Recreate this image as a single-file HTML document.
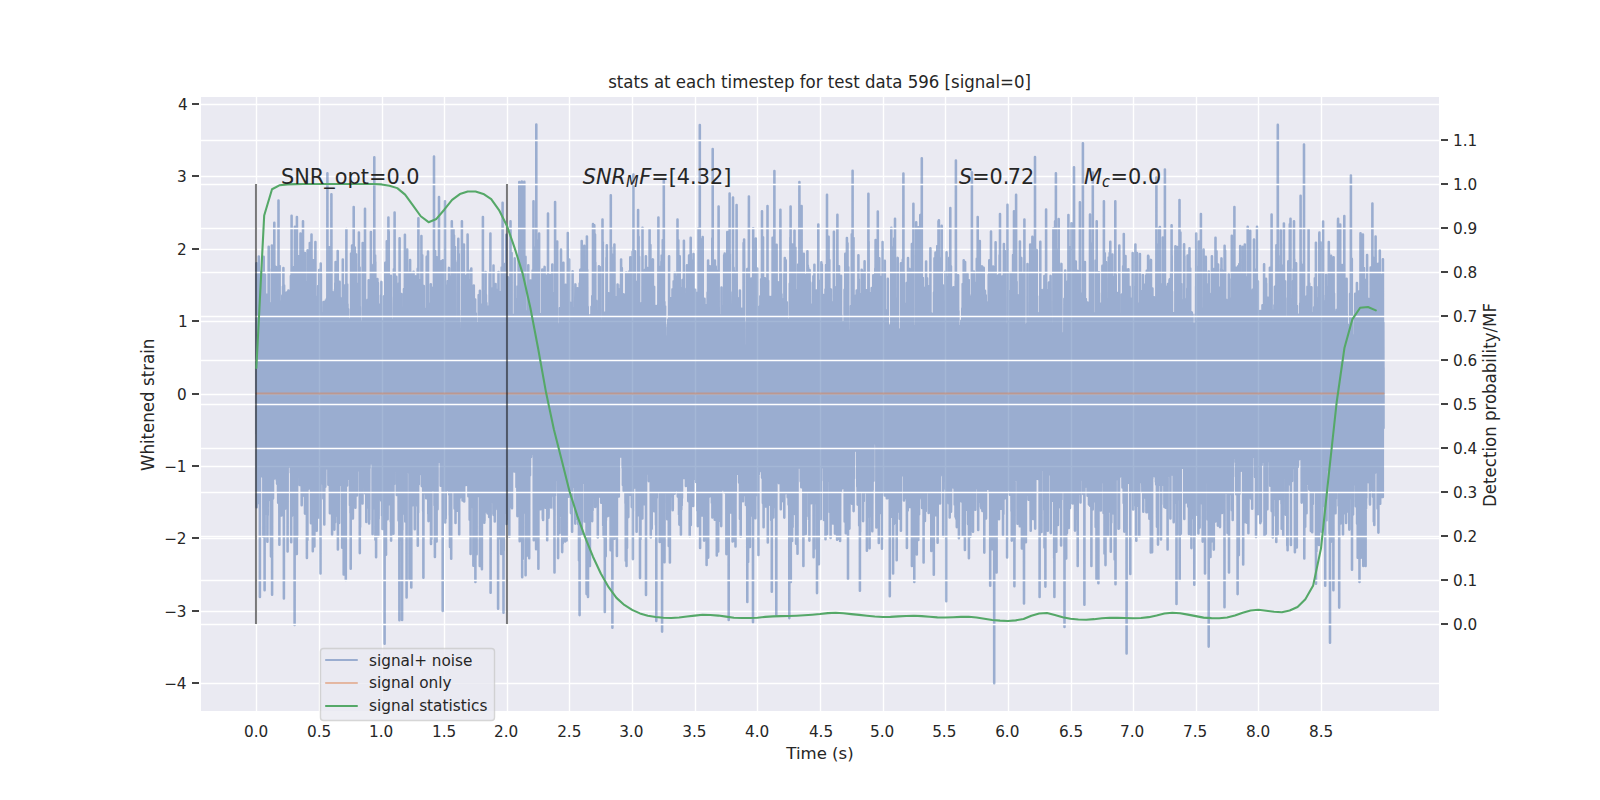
<!DOCTYPE html>
<html lang="en"><head><meta charset="utf-8"><title>stats at each timestep</title>
<style>html,body{margin:0;padding:0;background:#fff;}body{width:1600px;height:800px;overflow:hidden;}svg{display:block;}text{font-family:"DejaVu Sans", "Liberation Sans", sans-serif;fill:#262626;}.t11{font-size:15.278px}.t12{font-size:16.667px}.t15{font-size:20.833px}.t105{font-size:14.583px}.ob{font-style:oblique}</style></head><body>
<svg width="1600" height="800" viewBox="0 0 1600 800">
<defs><clipPath id="ax"><rect x="200" y="96" width="1240" height="616"/></clipPath></defs>
<rect x="0" y="0" width="1600" height="800" fill="#ffffff"/>
<rect x="200" y="96" width="1240" height="616" fill="#eaeaf2"/>
<path d="M256.5 96V712M319.5 96V712M382.5 96V712M444.5 96V712M507.5 96V712M569.5 96V712M632.5 96V712M695.5 96V712M757.5 96V712M820.5 96V712M883.5 96V712M945.5 96V712M1008.5 96V712M1071.5 96V712M1133.5 96V712M1196.5 96V712M1258.5 96V712M1321.5 96V712M200 683.5H1440M200 611.5H1440M200 538.5H1440M200 466.5H1440M200 394.5H1440M200 321.5H1440M200 249.5H1440M200 176.5H1440M200 104.5H1440" stroke="#fff" stroke-width="1.39" fill="none" clip-path="url(#ax)"/>
<path d="M256.4 263.2L256.5 433.7L256.5 352.1L256.6 390.6L256.7 507.2L256.8 322.8L256.9 400.4L257 349.9L257.1 263.8L257.2 374.7L257.2 471.3L257.3 442.3L257.4 321.7L257.5 498.9L257.6 375L257.7 367.1L257.8 476.8L257.9 381.7L257.9 354.4L258 449.1L258.1 427.8L258.2 355.2L258.3 487.5L258.4 457L258.5 326.2L258.6 387.5L258.7 496L258.7 392.8L258.8 256.5L258.9 503L259 336L259.1 340L259.2 406L259.3 350.9L259.4 441.8L259.4 284.5L259.5 272.1L259.6 457L259.7 408.6L259.8 384.3L259.9 596.9L260 368.7L260.1 468.6L260.2 352.9L260.2 414.9L260.3 397L260.4 360.4L260.5 328.2L260.6 464.6L260.7 337.9L260.8 331.5L260.9 401.7L260.9 285L261 448.5L261.1 432.5L261.2 366.7L261.3 442.3L261.4 295.2L261.5 379.6L261.6 272.1L261.6 469.8L261.7 462.1L261.8 299.2L261.9 469.4L262 317.6L262.1 451.6L262.2 374.9L262.3 311.2L262.4 397.7L262.4 476.5L262.5 428.2L262.6 313.1L262.7 379.9L262.8 343.6L262.9 387.4L263 373.2L263.1 406.8L263.1 466.8L263.2 355L263.3 380.5L263.4 536.7L263.5 392.9L263.6 324.7L263.7 256.8L263.8 491.3L263.8 385.3L263.9 354L264 339.9L264.1 443.3L264.2 357.3L264.3 423L264.4 396.5L264.5 431.3L264.6 371.6L264.6 590.3L264.7 372L264.8 399.3L264.9 328.6L265 274.5L265.1 398.8L265.2 445.9L265.3 409.6L265.3 431.4L265.4 513.4L265.5 391.6L265.6 428.3L265.7 329.7L265.8 402.4L265.9 327.9L266 339.2L266.1 428.8L266.1 416.7L266.2 430.9L266.3 425.7L266.4 335.6L266.5 430.5L266.6 423.4L266.7 451.5L266.8 294.8L266.8 419.3L266.9 404.7L267 456.2L267.1 377.8L267.2 450.5L267.3 442.2L267.4 541.8L267.5 513.5L267.5 381.6L267.6 341.4L267.7 515.3L267.8 383.5L267.9 381.9L268 435.9L268.1 466.9L268.2 443.2L268.3 471.2L268.3 337.2L268.4 321.5L268.5 414.4L268.6 288.1L268.7 246.8L268.8 428.3L268.9 356.3L269 408.7L269 440.4L269.1 427.9L269.2 411.5L269.3 487.7L269.4 400.7L269.5 338.2L269.6 462.5L269.7 431.7L269.8 460L269.8 367.6L269.9 401.6L270 328.6L270.1 416.5L270.2 500.4L270.3 354.4L270.4 415.3L270.5 313.4L270.5 343.5L270.6 454.3L270.7 536.9L270.8 392L270.9 448.2L271 556.4L271.1 432.4L271.2 303.1L271.2 349.5L271.3 458.1L271.4 374.1L271.5 322.6L271.6 407.2L271.7 269L271.8 445L271.9 245.5L272 285.8L272 357.5L272.1 594.7L272.2 391.7L272.3 461.5L272.4 324.8L272.5 304.1L272.6 338.6L272.7 374.1L272.7 386.5L272.8 461.2L272.9 440.9L273 498.5L273.1 359.9L273.2 459L273.3 334.8L273.4 441.4L273.4 293.6L273.5 283.2L273.6 285.7L273.7 313.2L273.8 415.5L273.9 416.2L274 446.8L274.1 370.8L274.2 275.5L274.2 472.8L274.3 222.8L274.4 434.5L274.5 478.5L274.6 370.1L274.7 317.9L274.8 419.4L274.9 467.8L274.9 270.1L275 473.6L275.1 323.7L275.2 383.3L275.3 420.5L275.4 390.6L275.5 472.7L275.6 474.4L275.7 372.4L275.7 469.1L275.8 449.3L275.9 291.6L276 266.9L276.1 315.7L276.2 330.7L276.3 411.7L276.4 387.5L276.4 446.9L276.5 455.6L276.6 380.1L276.7 378.3L276.8 324.2L276.9 480.6L277 312.9L277.1 432.5L277.1 483.7L277.2 412.5L277.3 328.7L277.4 395.1L277.5 363.3L277.6 457.9L277.7 360.8L277.8 325L277.9 458.2L277.9 364.9L278 491.8L278.1 378.4L278.2 502.7L278.3 366L278.4 395L278.5 200.4L278.6 369.1L278.6 465.7L278.7 388.5L278.8 460.3L278.9 356.7L279 434.3L279.1 293.2L279.2 362.3L279.3 356.4L279.3 490.3L279.4 544.8L279.5 451.2L279.6 266.1L279.7 461.7L279.8 307.6L279.9 305.1L280 435.4L280.1 408.6L280.1 301.4L280.2 411.8L280.3 422.5L280.4 434.7L280.5 388.5L280.6 401.3L280.7 306.5L280.8 376.9L280.8 310.3L280.9 401.1L281 398.1L281.1 401.7L281.2 403.7L281.3 450.8L281.4 515.5L281.5 455.8L281.6 378.5L281.6 464.9L281.7 335L281.8 511L281.9 514.2L282 371.9L282.1 366.5L282.2 474.8L282.3 317L282.3 295.6L282.4 367.8L282.5 485.9L282.6 305.3L282.7 413.3L282.8 405.4L282.9 359.1L283 442.7L283 286.6L283.1 437.2L283.2 317.8L283.3 338.5L283.4 268.1L283.5 357.3L283.6 331.9L283.7 420.2L283.8 408.8L283.8 435.4L283.9 598.4L284 438.3L284.1 285.5L284.2 399.3L284.3 476.8L284.4 438.7L284.5 309.6L284.5 425.2L284.6 349.5L284.7 504.3L284.8 359.2L284.9 336.3L285 354.8L285.1 335L285.2 460.5L285.2 508.6L285.3 483.8L285.4 330.5L285.5 361.1L285.6 332.7L285.7 428.5L285.8 332.3L285.9 499.4L286 359.7L286 462.7L286.1 418.4L286.2 342L286.3 326.5L286.4 398.8L286.5 412.5L286.6 292.6L286.7 314.4L286.7 434.9L286.8 366.4L286.9 401.4L287 318.6L287.1 354.4L287.2 355.8L287.3 379.4L287.4 423.7L287.5 308.7L287.5 356.9L287.6 551.4L287.7 412.1L287.8 366.9L287.9 437.8L288 451.1L288.1 430.3L288.2 361.1L288.2 453.5L288.3 360.1L288.4 290.5L288.5 319.2L288.6 316.6L288.7 400.4L288.8 302.5L288.9 384L288.9 323.6L289 466.4L289.1 297.9L289.2 426.5L289.3 383.4L289.4 311.7L289.5 385.7L289.6 418.9L289.7 397.3L289.7 309.4L289.8 308.4L289.9 339.8L290 430.8L290.1 415.1L290.2 340.7L290.3 334.7L290.4 437.5L290.4 436.7L290.5 338.5L290.6 310.9L290.7 381.6L290.8 472.6L290.9 276.1L291 384.9L291.1 355.2L291.2 542.2L291.2 439.5L291.3 401.9L291.4 367.3L291.5 452.8L291.6 215.8L291.7 508.5L291.8 418L291.9 371.1L291.9 374.3L292 515.8L292.1 442.8L292.2 399.7L292.3 323.6L292.4 354.5L292.5 375.4L292.6 513.9L292.6 317.8L292.7 400.1L292.8 378.9L292.9 441.6L293 408.3L293.1 418L293.2 422.8L293.3 457.3L293.4 347.3L293.4 331.3L293.5 432.2L293.6 453.4L293.7 452.7L293.8 415.6L293.9 295.2L294 403.8L294.1 267.1L294.1 484.6L294.2 472.2L294.3 450L294.4 455.6L294.5 371.8L294.6 625L294.7 446.3L294.8 370.5L294.8 301.8L294.9 226.8L295 379.4L295.1 325.3L295.2 301.3L295.3 386.8L295.4 353.9L295.5 417.9L295.6 456.1L295.6 434.9L295.7 312.7L295.8 299.6L295.9 375.5L296 479.9L296.1 306.8L296.2 392.5L296.3 288.1L296.3 385.2L296.4 474.3L296.5 411.9L296.6 439L296.7 281.3L296.8 554L296.9 217L297 413.7L297.1 537.5L297.1 362.2L297.2 349L297.3 332.6L297.4 333.7L297.5 398.4L297.6 326.1L297.7 422.9L297.8 389.5L297.8 376.3L297.9 386.5L298 356L298.1 437.8L298.2 400.2L298.3 433L298.4 386.9L298.5 370L298.5 444.7L298.6 290.7L298.7 256.3L298.8 352.6L298.9 384.6L299 435L299.1 402.8L299.2 406L299.3 342.7L299.3 391.2L299.4 341.7L299.5 351.3L299.6 424.3L299.7 485L299.8 474.4L299.9 466.2L300 392.2L300 308.1L300.1 455.7L300.2 345L300.3 402.3L300.4 302.2L300.5 233.6L300.6 315.8L300.7 366.2L300.8 354.4L300.8 298.1L300.9 409.4L301 443.9L301.1 377.1L301.2 276.9L301.3 438.5L301.4 311.1L301.5 327.7L301.5 404.1L301.6 444.6L301.7 505.2L301.8 471.7L301.9 377.8L302 338.2L302.1 433.9L302.2 429.9L302.2 444.6L302.3 329.6L302.4 488.5L302.5 496.1L302.6 316.7L302.7 469.4L302.8 321.4L302.9 450.5L303 319.9L303 221.2L303.1 423.5L303.2 393.5L303.3 458.5L303.4 330.3L303.5 414.1L303.6 456.2L303.7 361.9L303.7 367L303.8 396.2L303.9 422.6L304 325.2L304.1 437.6L304.2 451.4L304.3 410.4L304.4 356.9L304.4 420.2L304.5 436.6L304.6 462.3L304.7 447.8L304.8 439.3L304.9 252.9L305 513.6L305.1 425.8L305.2 389.9L305.2 454L305.3 474.2L305.4 355.3L305.5 296.4L305.6 316L305.7 393.2L305.8 424.7L305.9 347.7L305.9 504.9L306 451.1L306.1 290L306.2 364.1L306.3 382.9L306.4 407.3L306.5 420.5L306.6 451.3L306.7 353.3L306.7 358.4L306.8 357.4L306.9 557.9L307 302.6L307.1 332.9L307.2 282L307.3 432.3L307.4 539.9L307.4 481.4L307.5 453.9L307.6 250.3L307.7 445L307.8 425.7L307.9 322.6L308 329.9L308.1 324.4L308.1 425.7L308.2 260.1L308.3 365.2L308.4 451.1L308.5 364.7L308.6 488.6L308.7 477.3L308.8 440.2L308.9 473.5L308.9 427.8L309 438.1L309.1 426.1L309.2 452.8L309.3 313.7L309.4 460.8L309.5 430.2L309.6 455.3L309.6 434.3L309.7 480.9L309.8 243.1L309.9 412.5L310 335.2L310.1 418.8L310.2 481.2L310.3 429L310.3 440.1L310.4 476.3L310.5 385.9L310.6 278.1L310.7 379.8L310.8 319L310.9 300.6L311 523.2L311.1 257L311.1 481.5L311.2 261.6L311.3 377.5L311.4 349.8L311.5 234.5L311.6 317.1L311.7 500.4L311.8 513.5L311.8 473L311.9 320.3L312 369.9L312.1 328.1L312.2 362.1L312.3 305.8L312.4 462.7L312.5 516.8L312.6 439.2L312.6 335.6L312.7 461.7L312.8 551.2L312.9 431L313 345L313.1 364.2L313.2 417.4L313.3 429L313.3 535.9L313.4 396.8L313.5 260.2L313.6 429.9L313.7 279.6L313.8 479.9L313.9 425.6L314 430.7L314 400L314.1 519.8L314.2 315L314.3 422.8L314.4 546.5L314.5 356.2L314.6 392.1L314.7 487.7L314.8 410.1L314.8 344.3L314.9 352L315 376.6L315.1 445.1L315.2 379.1L315.3 306.6L315.4 242.1L315.5 352L315.5 337.8L315.6 326L315.7 412.4L315.8 512.4L315.9 433.9L316 409.7L316.1 382L316.2 400.4L316.2 452.6L316.3 443.2L316.4 425.1L316.5 469.7L316.6 469L316.7 530.7L316.8 441.9L316.9 412.5L317 464.6L317 440.7L317.1 417.9L317.2 497.7L317.3 468.2L317.4 486.6L317.5 394.7L317.6 500.5L317.7 423.9L317.7 296.7L317.8 301.7L317.9 386.1L318 476.5L318.1 425.5L318.2 285.9L318.3 412.1L318.4 516.6L318.5 418.7L318.5 447.7L318.6 377.8L318.7 400L318.8 517.5L318.9 391.8L319 338.1L319.1 305.4L319.2 379.8L319.2 270L319.3 298.4L319.4 346.1L319.5 289.7L319.6 482.7L319.7 309.9L319.8 295.3L319.9 405.6L319.9 340L320 442.7L320.1 409.9L320.2 410.5L320.3 468.7L320.4 413.6L320.5 573.5L320.6 408.5L320.7 277.6L320.7 263.5L320.8 400L320.9 274.1L321 369.4L321.1 483.8L321.2 440.4L321.3 401.8L321.4 399.1L321.4 351.5L321.5 445.4L321.6 425.6L321.7 323L321.8 387.3L321.9 367.3L322 400.2L322.1 345.8L322.2 341.6L322.2 447.6L322.3 313.4L322.4 438.6L322.5 369.6L322.6 414.9L322.7 346.8L322.8 374L322.9 353.1L322.9 383.8L323 401.6L323.1 379.3L323.2 394.5L323.3 450L323.4 498.4L323.5 356.2L323.6 302.1L323.6 458.9L323.7 358L323.8 435.5L323.9 381L324 331.2L324.1 368.4L324.2 410.4L324.3 524.5L324.4 408.7L324.4 396.3L324.5 306.6L324.6 442L324.7 401.9L324.8 381.3L324.9 305.3L325 474.7L325.1 336.4L325.1 401.9L325.2 440.7L325.3 486.7L325.4 460.1L325.5 336.5L325.6 430.6L325.7 458.8L325.8 422.9L325.8 300.5L325.9 324.8L326 336.7L326.1 325.3L326.2 339.8L326.3 422.8L326.4 468.3L326.5 306.9L326.6 403.1L326.6 385.7L326.7 426.3L326.8 358.8L326.9 298.7L327 422.1L327.1 383.5L327.2 389.7L327.3 347.2L327.3 394.5L327.4 173.2L327.5 434.3L327.6 391L327.7 442.3L327.8 341.3L327.9 402.5L328 276.4L328.1 439.2L328.1 462L328.2 328.4L328.3 348.4L328.4 484.7L328.5 313.1L328.6 404.9L328.7 313.9L328.8 420L328.8 344.4L328.9 314.4L329 426L329.1 368.1L329.2 331L329.3 247.2L329.4 322.3L329.5 292.3L329.5 350.1L329.6 341.9L329.7 351.1L329.8 404.9L329.9 513.2L330 503.5L330.1 366.7L330.2 357.3L330.3 386.9L330.3 431.5L330.4 426.6L330.5 477.3L330.6 309.6L330.7 504.9L330.8 277.7L330.9 423.6L331 288.6L331 359.7L331.1 415.8L331.2 385.7L331.3 427.3L331.4 194.2L331.5 396.5L331.6 378.4L331.7 454.1L331.8 354.3L331.8 495.3L331.9 441.1L332 307L332.1 534.6L332.2 375.4L332.3 312.6L332.4 387.9L332.5 292L332.5 307.2L332.6 361.7L332.7 502.9L332.8 428.8L332.9 419.3L333 326.2L333.1 403.6L333.2 418L333.2 484.4L333.3 412.9L333.4 383.8L333.5 403.1L333.6 404.9L333.7 374.6L333.8 419.6L333.9 411.8L334 440.3L334 339.2L334.1 439.5L334.2 318.2L334.3 377.5L334.4 529.6L334.5 422.9L334.6 382.8L334.7 343.4L334.7 394.3L334.8 411.5L334.9 345.5L335 289.9L335.1 522.2L335.2 444.5L335.3 283L335.4 382.2L335.4 467L335.5 280.6L335.6 262.1L335.7 416.8L335.8 348.3L335.9 399.7L336 375.5L336.1 331.8L336.2 418.9L336.2 406L336.3 421.9L336.4 515.5L336.5 369.2L336.6 342.8L336.7 390.2L336.8 398.5L336.9 344.5L336.9 448.7L337 471.8L337.1 369.9L337.2 391L337.3 278.1L337.4 496.3L337.5 404.8L337.6 483.3L337.7 251.1L337.7 429.3L337.8 347.6L337.9 549.5L338 465.3L338.1 347.5L338.2 429L338.3 442.5L338.4 353.4L338.4 392.8L338.5 392L338.6 382.3L338.7 433.3L338.8 291.8L338.9 328.3L339 409.2L339.1 424.8L339.1 522.9L339.2 474.8L339.3 306.3L339.4 478.4L339.5 428L339.6 281.8L339.7 324L339.8 375.4L339.9 370.9L339.9 421.1L340 386.8L340.1 396L340.2 305.4L340.3 344.9L340.4 447.5L340.5 298.3L340.6 338.1L340.6 318.3L340.7 307.7L340.8 341L340.9 381.2L341 302.9L341.1 312.6L341.2 410.6L341.3 405L341.3 375.3L341.4 356.9L341.5 396.3L341.6 485.2L341.7 309.7L341.8 438.4L341.9 470L342 450.2L342.1 390.1L342.1 409.9L342.2 547.8L342.3 498.4L342.4 501.5L342.5 447.5L342.6 388.3L342.7 441.1L342.8 259.6L342.8 336.2L342.9 294.5L343 345.6L343.1 479.1L343.2 362.1L343.3 492.4L343.4 461.1L343.5 379L343.6 391.1L343.6 350L343.7 574.4L343.8 316.8L343.9 335.5L344 367.1L344.1 440L344.2 430.8L344.3 316.4L344.3 511.7L344.4 421.2L344.5 377L344.6 447.8L344.7 551.7L344.8 346.3L344.9 378L345 341.4L345 432.3L345.1 445.4L345.2 285.3L345.3 451.9L345.4 341.3L345.5 323.1L345.6 390.9L345.7 429L345.8 374.2L345.8 580L345.9 410.7L346 417L346.1 485.2L346.2 411.5L346.3 329.4L346.4 229.1L346.5 464.4L346.5 360.9L346.6 361.9L346.7 411.4L346.8 429.6L346.9 356.2L347 339.7L347.1 485.5L347.2 284.5L347.2 400.6L347.3 383.3L347.4 429.4L347.5 304.3L347.6 479L347.7 423.7L347.8 381.7L347.9 452.6L348 408.2L348 356.4L348.1 309.3L348.2 404.1L348.3 423.6L348.4 359.4L348.5 384.1L348.6 460.5L348.7 331.6L348.7 411.6L348.8 451.6L348.9 324.3L349 352.3L349.1 444.2L349.2 344.6L349.3 438.8L349.4 430L349.5 458.6L349.5 333.4L349.6 402.5L349.7 352L349.8 479.3L349.9 422.7L350 505.3L350.1 440.4L350.2 423.5L350.2 409.4L350.3 505.2L350.4 327.2L350.5 512.9L350.6 319L350.7 568.8L350.8 327.7L350.9 469.6L350.9 389L351 358.2L351.1 253.4L351.2 367.3L351.3 279L351.4 369.6L351.5 299.5L351.6 390.6L351.7 382.8L351.7 326.2L351.8 475.3L351.9 500.5L352 373.2L352.1 245.4L352.2 288.8L352.3 377.1L352.4 342L352.4 367.9L352.5 355.8L352.6 288.7L352.7 462.4L352.8 465.5L352.9 518.5L353 442.7L353.1 314.6L353.2 386.4L353.2 474L353.3 426.3L353.4 415.1L353.5 315.5L353.6 350L353.7 207L353.8 301.6L353.9 345.6L353.9 309.2L354 435.9L354.1 446.8L354.2 406.2L354.3 247.3L354.4 460.9L354.5 368.6L354.6 346.4L354.6 448.3L354.7 468.8L354.8 247.5L354.9 392.4L355 408.1L355.1 358.4L355.2 375.9L355.3 485.9L355.4 507.7L355.4 399.1L355.5 440.7L355.6 390.2L355.7 471L355.8 376.8L355.9 355.5L356 254.3L356.1 419.1L356.1 391.5L356.2 417.5L356.3 377.8L356.4 352.6L356.5 417L356.6 456.4L356.7 430.8L356.8 396.9L356.8 329.5L356.9 495.4L357 440.7L357.1 360.2L357.2 299.7L357.3 419.4L357.4 368.8L357.5 403.6L357.6 407.9L357.6 380.9L357.7 428.9L357.8 408.4L357.9 413.4L358 289.9L358.1 393.7L358.2 283.9L358.3 401.1L358.3 382.7L358.4 452.1L358.5 380.7L358.6 302L358.7 288.7L358.8 470.3L358.9 232.4L359 372.1L359.1 359.2L359.1 328.7L359.2 390.4L359.3 454.2L359.4 390.3L359.5 419L359.6 267.4L359.7 390.9L359.8 553.1L359.8 306.7L359.9 354L360 397.2L360.1 527L360.2 463L360.3 418L360.4 418.4L360.5 434.9L360.5 383.2L360.6 400.4L360.7 373L360.8 361.9L360.9 393.3L361 321.6L361.1 468L361.2 332.1L361.3 368.7L361.3 391.9L361.4 345.1L361.5 375.8L361.6 378.3L361.7 425.2L361.8 452.9L361.9 498.4L362 482.4L362 439L362.1 340.6L362.2 410.5L362.3 385.3L362.4 470.1L362.5 503.5L362.6 389.7L362.7 243.1L362.8 475L362.8 309.4L362.9 479.2L363 482.8L363.1 463.4L363.2 459L363.3 344.2L363.4 386.7L363.5 394.3L363.5 437.7L363.6 339.8L363.7 281.4L363.8 380.2L363.9 425.3L364 473.5L364.1 421.4L364.2 486.9L364.2 310.7L364.3 451.1L364.4 321.4L364.5 482.5L364.6 338.7L364.7 355.9L364.8 344.2L364.9 373.9L365 468.2L365 208.8L365.1 493.2L365.2 321.4L365.3 406.9L365.4 471.8L365.5 341.7L365.6 300.4L365.7 327.3L365.7 488.7L365.8 447.3L365.9 357L366 368.5L366.1 334.1L366.2 410.6L366.3 522L366.4 485L366.4 381.1L366.5 473.7L366.6 498.9L366.7 360.4L366.8 311.5L366.9 447.5L367 415.3L367.1 410L367.2 340.4L367.2 419.6L367.3 419.8L367.4 405L367.5 488.4L367.6 315.3L367.7 299.9L367.8 397L367.9 391.8L367.9 385.5L368 397.9L368.1 452.6L368.2 354.7L368.3 351.2L368.4 331.9L368.5 469.7L368.6 387.4L368.7 493.2L368.7 280.2L368.8 508.1L368.9 410.3L369 298.3L369.1 523.5L369.2 392.6L369.3 519.7L369.4 339.9L369.4 426.8L369.5 442.5L369.6 468L369.7 365.6L369.8 391.9L369.9 353.4L370 345.1L370.1 440L370.1 380.4L370.2 313L370.3 362.7L370.4 368.8L370.5 388L370.6 426.1L370.7 393L370.8 397.8L370.9 231.9L370.9 412.7L371 463.2L371.1 367.9L371.2 409L371.3 437.1L371.4 339.3L371.5 405.5L371.6 449.9L371.6 354.5L371.7 264.8L371.8 306.7L371.9 375.3L372 371.9L372.1 394.9L372.2 345.2L372.3 406.7L372.3 368.4L372.4 403.8L372.5 378.6L372.6 534.2L372.7 394.1L372.8 432.4L372.9 416.2L373 368L373.1 483.5L373.1 455.6L373.2 382.4L373.3 390.2L373.4 333.9L373.5 371.2L373.6 508.3L373.7 366.9L373.8 405.2L373.8 385.2L373.9 328.5L374 387.2L374.1 408.3L374.2 508.1L374.3 157.3L374.4 340.4L374.5 359.1L374.6 480.9L374.6 492.4L374.7 421.8L374.8 364.1L374.9 446.9L375 306.2L375.1 255.6L375.2 474.5L375.3 261.9L375.3 267.7L375.4 539.7L375.5 512.2L375.6 407L375.7 396.2L375.8 457.2L375.9 396.8L376 344.4L376 459.9L376.1 557.2L376.2 419.6L376.3 344.5L376.4 300.4L376.5 327L376.6 478L376.7 482.7L376.8 405.4L376.8 458.6L376.9 360.6L377 366.7L377.1 338.1L377.2 301.9L377.3 434.3L377.4 279L377.5 494.9L377.5 470.4L377.6 472.8L377.7 457.3L377.8 349.3L377.9 283L378 499.2L378.1 343.8L378.2 313L378.2 372.9L378.3 536.3L378.4 361.2L378.5 331.5L378.6 518.8L378.7 425.5L378.8 320.3L378.9 366.4L379 314.3L379 304.6L379.1 478.7L379.2 474.3L379.3 329.1L379.4 411.8L379.5 331.8L379.6 351.2L379.7 447.9L379.7 328.2L379.8 360.5L379.9 436.1L380 428.4L380.1 433.4L380.2 373.5L380.3 331.3L380.4 358.8L380.5 408.3L380.5 495.8L380.6 390.7L380.7 404.9L380.8 445.4L380.9 462.6L381 295.4L381.1 299.5L381.2 500.6L381.2 335L381.3 374L381.4 281.9L381.5 460.5L381.6 336.3L381.7 442.3L381.8 419.5L381.9 388.8L381.9 339.9L382 395.1L382.1 515.8L382.2 348.2L382.3 405.5L382.4 421.6L382.5 528.9L382.6 436.3L382.7 327.9L382.7 322L382.8 373.1L382.9 469.2L383 352.8L383.1 467L383.2 351.6L383.3 443.6L383.4 515L383.4 375.1L383.5 390.9L383.6 390.9L383.7 469.6L383.8 480.3L383.9 330.3L384 408.7L384.1 296.4L384.2 296.2L384.2 482.7L384.3 431.2L384.4 378.5L384.5 411.5L384.6 643.8L384.7 390.5L384.8 431L384.9 445L384.9 465.5L385 462.2L385.1 325.2L385.2 362.2L385.3 262.8L385.4 351.6L385.5 433.5L385.6 439.4L385.6 297.3L385.7 540.4L385.8 397.8L385.9 416.6L386 554.8L386.1 330.8L386.2 402.2L386.3 419.2L386.4 465.4L386.4 407L386.5 412.8L386.6 335.1L386.7 426.7L386.8 241.2L386.9 445.4L387 392L387.1 447.7L387.1 344L387.2 431.2L387.3 304.9L387.4 332L387.5 370.8L387.6 519.3L387.7 401.1L387.8 406.2L387.8 357.9L387.9 501.9L388 357.2L388.1 354.3L388.2 406.5L388.3 381.3L388.4 217.6L388.5 337.8L388.6 487.2L388.6 450.4L388.7 231.4L388.8 406.3L388.9 404.5L389 468.1L389.1 419.2L389.2 382.3L389.3 485.1L389.3 504.2L389.4 429.3L389.5 292.9L389.6 420L389.7 394.5L389.8 316.6L389.9 353.4L390 430.3L390.1 361.2L390.1 345L390.2 492.1L390.3 369L390.4 283.1L390.5 329.6L390.6 386.6L390.7 426.5L390.8 332.8L390.8 521.5L390.9 275.7L391 456.6L391.1 540.6L391.2 419.3L391.3 409L391.4 424L391.5 517.3L391.5 453.7L391.6 348.1L391.7 374.4L391.8 322.4L391.9 387.9L392 477.3L392.1 420.6L392.2 393.5L392.3 382.5L392.3 376.4L392.4 379.1L392.5 350.2L392.6 347.5L392.7 454.7L392.8 319.8L392.9 351.2L393 421.5L393 382.7L393.1 411.5L393.2 382.4L393.3 531.4L393.4 533.8L393.5 341.2L393.6 423.5L393.7 306.5L393.8 296.7L393.8 373.5L393.9 269.2L394 460.8L394.1 378.9L394.2 483.9L394.3 378.9L394.4 316.2L394.5 378.6L394.5 369.1L394.6 212.6L394.7 373.1L394.8 446.2L394.9 383.4L395 442.7L395.1 329.5L395.2 349.8L395.2 362.9L395.3 335.3L395.4 305.4L395.5 389.3L395.6 440L395.7 433.7L395.8 280.2L395.9 365.4L396 470.4L396 466.4L396.1 311.4L396.2 409.2L396.3 276.7L396.4 290.7L396.5 410.3L396.6 413.6L396.7 460.3L396.7 342.8L396.8 494.9L396.9 366.1L397 423L397.1 293.6L397.2 422.8L397.3 451L397.4 358.4L397.4 468.4L397.5 353.8L397.6 422.7L397.7 442.3L397.8 424.8L397.9 420.1L398 486.6L398.1 362.7L398.2 408.1L398.2 444.4L398.3 314L398.4 385.6L398.5 289.8L398.6 520.4L398.7 307.7L398.8 389.5L398.9 283.5L398.9 391.5L399 429.9L399.1 439.6L399.2 369.1L399.3 501.6L399.4 620.3L399.5 464.5L399.6 238.3L399.7 361.9L399.7 416.6L399.8 467.4L399.9 407.8L400 442.7L400.1 406.3L400.2 401.3L400.3 452L400.4 490L400.4 424.2L400.5 412.9L400.6 408.1L400.7 406.1L400.8 374.8L400.9 459.2L401 342.8L401.1 430.1L401.1 390.8L401.2 433.4L401.3 384L401.4 293.9L401.5 367.6L401.6 390L401.7 392.3L401.8 440L401.9 483.2L401.9 540.8L402 394.6L402.1 620L402.2 355.4L402.3 530.1L402.4 458.2L402.5 375.2L402.6 434L402.6 354.8L402.7 340.5L402.8 489.5L402.9 344.8L403 410.5L403.1 438L403.2 381.8L403.3 447.5L403.3 513.5L403.4 344.4L403.5 364.4L403.6 364.9L403.7 390L403.8 495.9L403.9 402.7L404 289.1L404.1 373.7L404.1 398.2L404.2 383.2L404.3 415.2L404.4 397.7L404.5 400L404.6 446.2L404.7 415.6L404.8 406.1L404.8 400.6L404.9 234.7L405 428.2L405.1 486.8L405.2 413.9L405.3 521.4L405.4 281.4L405.5 445.7L405.6 416.2L405.6 390.9L405.7 341.2L405.8 441.5L405.9 378.4L406 417.2L406.1 404.7L406.2 361L406.3 446.3L406.3 301.2L406.4 409.6L406.5 339.7L406.6 597.5L406.7 401.9L406.8 453.3L406.9 348L407 402L407 445.6L407.1 472.4L407.2 249.6L407.3 366L407.4 347.8L407.5 311L407.6 359.1L407.7 303L407.8 398.8L407.8 370.5L407.9 272.6L408 469.6L408.1 378.1L408.2 432.5L408.3 283L408.4 412.1L408.5 378.7L408.5 384.4L408.6 450.8L408.7 416.4L408.8 438.4L408.9 329.7L409 438.9L409.1 314.9L409.2 368.6L409.3 334.6L409.3 298.9L409.4 327L409.5 579.1L409.6 434.1L409.7 400.5L409.8 381.4L409.9 336L410 387.3L410 404.5L410.1 260L410.2 355.7L410.3 351.3L410.4 436.2L410.5 425.6L410.6 422.6L410.7 456.6L410.7 392L410.8 373.3L410.9 442.1L411 427.9L411.1 324.8L411.2 499.5L411.3 587.5L411.4 292.2L411.5 334.2L411.5 345.4L411.6 273L411.7 296.5L411.8 338.7L411.9 433.7L412 477.6L412.1 447.7L412.2 306.4L412.2 438.1L412.3 427.3L412.4 320.2L412.5 416.3L412.6 369.7L412.7 487.4L412.8 435.7L412.9 438.8L412.9 445.8L413 505.1L413.1 454.3L413.2 339.5L413.3 388.5L413.4 343.7L413.5 446.9L413.6 271.7L413.7 439.5L413.7 422.2L413.8 367.1L413.9 428.3L414 383.1L414.1 291L414.2 358.2L414.3 421.4L414.4 307.4L414.4 430.6L414.5 420.4L414.6 369.8L414.7 364.7L414.8 529.2L414.9 365.6L415 426.4L415.1 477.9L415.2 478.3L415.2 474.1L415.3 505.7L415.4 339.4L415.5 307.3L415.6 408.9L415.7 400.8L415.8 397.8L415.9 318.8L415.9 368.3L416 276.4L416.1 360.3L416.2 295.7L416.3 496.6L416.4 459.7L416.5 384.4L416.6 409.6L416.6 450.7L416.7 469.6L416.8 496L416.9 394.7L417 421.2L417.1 342.9L417.2 433.4L417.3 390.9L417.4 355.9L417.4 337.5L417.5 427.4L417.6 392.8L417.7 268.9L417.8 545.7L417.9 367.9L418 368.5L418.1 410.9L418.1 512.4L418.2 396.3L418.3 440L418.4 218.2L418.5 449.4L418.6 469L418.7 397.6L418.8 484.2L418.8 340.4L418.9 386.5L419 427.9L419.1 389.3L419.2 334.6L419.3 413.8L419.4 332.3L419.5 343.9L419.6 374.5L419.6 352.6L419.7 423.6L419.8 382.9L419.9 436.7L420 280.2L420.1 437.6L420.2 349.1L420.3 435.3L420.3 386.2L420.4 456.4L420.5 465.5L420.6 304.6L420.7 324.5L420.8 381.2L420.9 420.9L421 407.8L421.1 474.2L421.1 386.7L421.2 301.5L421.3 453.4L421.4 236.1L421.5 380.8L421.6 291.2L421.7 359.6L421.8 472.6L421.8 486.1L421.9 298.8L422 315.6L422.1 462L422.2 255.3L422.3 409.6L422.4 473.7L422.5 428.7L422.5 331.2L422.6 395.1L422.7 454.1L422.8 353L422.9 462L423 476.1L423.1 416.7L423.2 511.2L423.3 505.2L423.3 434.9L423.4 577.8L423.5 345.6L423.6 314.3L423.7 414.1L423.8 286.1L423.9 378L424 413L424 327.8L424.1 308.2L424.2 399.3L424.3 431.4L424.4 371.4L424.5 403.9L424.6 493.1L424.7 404L424.8 406.2L424.8 392.1L424.9 371.9L425 312.5L425.1 460.7L425.2 389.1L425.3 343.8L425.4 449.5L425.5 309.5L425.5 383.4L425.6 359.8L425.7 338.7L425.8 456.9L425.9 388.5L426 416.1L426.1 364.2L426.2 498.2L426.2 378L426.3 416.8L426.4 415.9L426.5 363.6L426.6 385.6L426.7 256.9L426.8 373.4L426.9 342.9L427 438.8L427 441.9L427.1 287.7L427.2 434.5L427.3 478.4L427.4 479.9L427.5 456.6L427.6 473.4L427.7 451.9L427.7 310.4L427.8 413.1L427.9 359.3L428 251.4L428.1 443L428.2 439.9L428.3 513.7L428.4 320.7L428.4 373.3L428.5 521.1L428.6 308.5L428.7 328.4L428.8 455.7L428.9 483L429 343.8L429.1 474.1L429.2 422.7L429.2 360.5L429.3 381.3L429.4 441.5L429.5 354.7L429.6 306.1L429.7 421.6L429.8 334.8L429.9 348.3L429.9 363.4L430 477.5L430.1 461.1L430.2 453.2L430.3 329.4L430.4 463.9L430.5 303.3L430.6 325.3L430.7 436.5L430.7 399.2L430.8 284.3L430.9 449.4L431 544L431.1 439.3L431.2 378.2L431.3 322.1L431.4 351.9L431.4 539.1L431.5 310.2L431.6 359.7L431.7 299.2L431.8 295.6L431.9 366.5L432 325L432.1 337.7L432.1 367.2L432.2 383.8L432.3 460L432.4 395.1L432.5 450.7L432.6 336.6L432.7 381.3L432.8 468.8L432.9 400L432.9 413.6L433 489.9L433.1 438.4L433.2 383.8L433.3 287.5L433.4 392.6L433.5 354.1L433.6 295.8L433.6 312.4L433.7 379.4L433.8 346L433.9 407L434 156.5L434.1 394.1L434.2 383.2L434.3 325.2L434.3 346.7L434.4 328.7L434.5 505.6L434.6 422.4L434.7 404.3L434.8 480.4L434.9 557L435 367.2L435.1 251.1L435.1 467.8L435.2 387.9L435.3 268.9L435.4 407L435.5 412.8L435.6 475L435.7 406.5L435.8 337L435.8 327L435.9 415L436 328.9L436.1 480.6L436.2 434L436.3 378.7L436.4 378.3L436.5 326.6L436.6 413.4L436.6 541.4L436.7 315L436.8 257.2L436.9 362.8L437 415.9L437.1 433.3L437.2 393.7L437.3 497.3L437.3 393.2L437.4 428.9L437.5 509.2L437.6 396.8L437.7 370.3L437.8 280.9L437.9 402.9L438 292.2L438 442.5L438.1 431.8L438.2 376.9L438.3 454.7L438.4 393.3L438.5 459L438.6 461.7L438.7 438.8L438.8 356.4L438.8 407L438.9 439.9L439 197L439.1 408.8L439.2 350L439.3 377.2L439.4 341.8L439.5 400.8L439.5 441.5L439.6 372.9L439.7 366.3L439.8 350.8L439.9 358.6L440 361.8L440.1 459.6L440.2 322.8L440.2 322.7L440.3 395.8L440.4 368.4L440.5 376.7L440.6 287.2L440.7 485.8L440.8 399.8L440.9 336.8L441 485.6L441 421.5L441.1 261.3L441.2 465.2L441.3 381.1L441.4 435.6L441.5 387.3L441.6 431L441.7 368.2L441.7 476.2L441.8 263.8L441.9 351L442 352.3L442.1 405L442.2 360.2L442.3 389.7L442.4 336.7L442.5 398.6L442.5 398.4L442.6 280.9L442.7 611L442.8 260.2L442.9 308.3L443 485.1L443.1 337.8L443.2 314.3L443.2 350.8L443.3 298.8L443.4 298.5L443.5 347.5L443.6 332.4L443.7 367.7L443.8 274.4L443.9 454.3L443.9 460.5L444 294.1L444.1 484.2L444.2 333.7L444.3 360.2L444.4 273L444.5 432.8L444.6 435.6L444.7 375.6L444.7 378.1L444.8 424.4L444.9 433.8L445 201.3L445.1 312.9L445.2 522.4L445.3 302.6L445.4 334.9L445.4 404.3L445.5 443.7L445.6 419.8L445.7 518.4L445.8 371.8L445.9 378.1L446 382.5L446.1 355.7L446.2 467.6L446.2 314.8L446.3 391.7L446.4 375.3L446.5 360.2L446.6 360.1L446.7 322.5L446.8 363.7L446.9 364.8L446.9 439.3L447 416.1L447.1 489.7L447.2 367.9L447.3 404L447.4 389.8L447.5 341L447.6 409.7L447.6 285.1L447.7 469.1L447.8 281.1L447.9 305.2L448 408.9L448.1 357.4L448.2 315.6L448.3 424.8L448.4 367.3L448.4 315.4L448.5 350.8L448.6 410.5L448.7 490.9L448.8 337.8L448.9 331.2L449 267.9L449.1 326.1L449.1 476.2L449.2 462.1L449.3 494.8L449.4 347.8L449.5 407.7L449.6 385L449.7 434.3L449.8 515.2L449.8 383.3L449.9 522.7L450 547.1L450.1 475.1L450.2 375.7L450.3 307.7L450.4 378.5L450.5 390.4L450.6 366L450.6 335.9L450.7 309.6L450.8 458.4L450.9 442.4L451 425.2L451.1 492.8L451.2 558.8L451.3 441.9L451.3 437.6L451.4 458.8L451.5 275.9L451.6 318.9L451.7 458.9L451.8 221.2L451.9 421.6L452 378.2L452.1 448.7L452.1 456.3L452.2 355.7L452.3 277.7L452.4 342.7L452.5 383.9L452.6 403.2L452.7 286.2L452.8 490.8L452.8 405.4L452.9 453.7L453 404.2L453.1 409.2L453.2 442.4L453.3 471L453.4 362.8L453.5 228.9L453.5 360.8L453.6 395.6L453.7 442.9L453.8 340.1L453.9 353.4L454 235.5L454.1 403.3L454.2 265.6L454.3 442.2L454.3 347.7L454.4 324.4L454.5 416.7L454.6 508.6L454.7 367.9L454.8 355.7L454.9 288.7L455 297.6L455 247.1L455.1 445.5L455.2 260.3L455.3 345.8L455.4 319.2L455.5 522.9L455.6 346.3L455.7 375.1L455.8 371.5L455.8 411.2L455.9 428.4L456 409.1L456.1 364.2L456.2 359L456.3 463.2L456.4 468.6L456.5 386.7L456.5 472.8L456.6 342L456.7 422.5L456.8 490.1L456.9 337.9L457 350.3L457.1 341.4L457.2 377.5L457.2 345.3L457.3 410.7L457.4 510.7L457.5 411.4L457.6 406.8L457.7 418.8L457.8 368.9L457.9 262.4L458 326.1L458 351.5L458.1 339.4L458.2 455.1L458.3 238.7L458.4 373L458.5 287.5L458.6 304.9L458.7 304.7L458.7 254.1L458.8 381.1L458.9 310.2L459 393.4L459.1 383.1L459.2 534.4L459.3 376.3L459.4 389.4L459.4 361.8L459.5 448.9L459.6 466.8L459.7 363.7L459.8 401.2L459.9 350.3L460 460.2L460.1 497.4L460.2 354.2L460.2 366.7L460.3 371.9L460.4 358.5L460.5 372.8L460.6 396.5L460.7 451.3L460.8 374.3L460.9 395.4L460.9 414.6L461 491.8L461.1 423.1L461.2 353.8L461.3 341.1L461.4 492.7L461.5 322.2L461.6 432.9L461.7 315.5L461.7 401.5L461.8 462.1L461.9 221.2L462 493.1L462.1 364.2L462.2 390.7L462.3 356.1L462.4 345.4L462.4 365.1L462.5 299.9L462.6 500.4L462.7 330.5L462.8 291.8L462.9 490.7L463 489.6L463.1 429.1L463.1 466.1L463.2 318.5L463.3 346.7L463.4 435.7L463.5 423.3L463.6 263.8L463.7 425.9L463.8 437L463.9 244.6L463.9 293.8L464 411.9L464.1 338.3L464.2 501.5L464.3 313.8L464.4 312.2L464.5 414.2L464.6 332.8L464.6 392L464.7 449.1L464.8 393.1L464.9 419.7L465 479.2L465.1 381.5L465.2 360.8L465.3 342.6L465.3 354.2L465.4 358.8L465.5 374.6L465.6 408L465.7 482.5L465.8 382.8L465.9 414.8L466 484.9L466.1 388.6L466.1 339.8L466.2 275.7L466.3 447.1L466.4 293.9L466.5 434.8L466.6 370.7L466.7 291.3L466.8 385.7L466.8 410.5L466.9 458.5L467 307L467.1 447.9L467.2 374L467.3 393.6L467.4 357.2L467.5 283.6L467.6 349.8L467.6 234.6L467.7 257.4L467.8 395.3L467.9 476.3L468 406.4L468.1 410.1L468.2 285.8L468.3 389.1L468.3 345.5L468.4 496.3L468.5 348.5L468.6 270.5L468.7 382.3L468.8 449.5L468.9 402.9L469 376.5L469 382.4L469.1 385.4L469.2 365.7L469.3 446L469.4 405.7L469.5 413.4L469.6 412.6L469.7 519.7L469.8 385.2L469.8 365.7L469.9 484.6L470 281L470.1 413.1L470.2 405.5L470.3 362.1L470.4 394.1L470.5 329L470.5 321L470.6 553.9L470.7 399.8L470.8 332.3L470.9 358L471 338.8L471.1 383.6L471.2 418.1L471.3 484.3L471.3 268.5L471.4 371.4L471.5 378.5L471.6 370.8L471.7 396.8L471.8 382.3L471.9 308.1L472 360.4L472 481L472.1 397L472.2 421.9L472.3 393L472.4 404L472.5 290.8L472.6 480.3L472.7 350.7L472.7 357.5L472.8 434.9L472.9 503.8L473 396.6L473.1 507.5L473.2 307.2L473.3 350.9L473.4 565.7L473.5 390.3L473.5 427.7L473.6 457.1L473.7 461.9L473.8 285.6L473.9 463.7L474 453.1L474.1 323.2L474.2 406.3L474.2 518.7L474.3 341.9L474.4 373.4L474.5 461.6L474.6 395.9L474.7 364.4L474.8 375.6L474.9 419.2L474.9 340L475 363.4L475.1 376.2L475.2 299.5L475.3 399.7L475.4 581.9L475.5 474.5L475.6 338.2L475.7 367.5L475.7 424.9L475.8 313.5L475.9 346L476 437.4L476.1 496L476.2 433.4L476.3 476L476.4 405.6L476.4 375.4L476.5 360.3L476.6 554.3L476.7 434.8L476.8 370.8L476.9 362.7L477 383.6L477.1 428.4L477.2 394.4L477.2 323.4L477.3 417.5L477.4 446.8L477.5 352L477.6 340.8L477.7 475.2L477.8 441.7L477.9 496L477.9 405.8L478 370.3L478.1 412.9L478.2 463.2L478.3 466.5L478.4 393.5L478.5 332.6L478.6 382L478.6 390.6L478.7 295.1L478.8 411.1L478.9 413.8L479 462.8L479.1 297.1L479.2 319.5L479.3 397.8L479.4 376.1L479.4 471.3L479.5 445L479.6 383.9L479.7 349.5L479.8 565.9L479.9 290.7L480 342.6L480.1 476.9L480.1 377.2L480.2 428.7L480.3 443.8L480.4 434.8L480.5 435.7L480.6 389.8L480.7 383.5L480.8 325.9L480.8 408.6L480.9 451L481 384.5L481.1 361.2L481.2 388.8L481.3 305.1L481.4 415.8L481.5 488.1L481.6 354.3L481.6 349.5L481.7 396.7L481.8 390.9L481.9 569.3L482 407.9L482.1 382.8L482.2 408.1L482.3 493.2L482.3 389.7L482.4 458L482.5 374.8L482.6 387.1L482.7 352.2L482.8 459.5L482.9 216.9L483 372.7L483.1 384.5L483.1 316.5L483.2 469.7L483.3 340.6L483.4 325.5L483.5 395.1L483.6 467.6L483.7 402.6L483.8 394.2L483.8 387L483.9 320.6L484 354.4L484.1 502.9L484.2 327.8L484.3 522.8L484.4 448.4L484.5 520.5L484.5 372.3L484.6 434.4L484.7 322.8L484.8 449.7L484.9 389L485 290.9L485.1 419.1L485.2 312.1L485.3 376L485.3 391L485.4 492.2L485.5 397.3L485.6 271.9L485.7 399.6L485.8 364.1L485.9 294.9L486 439.8L486 389.8L486.1 388.3L486.2 437.2L486.3 357L486.4 303L486.5 356.6L486.6 396.8L486.7 382.6L486.8 511.8L486.8 365.9L486.9 465.7L487 323.4L487.1 452.5L487.2 327.9L487.3 436.9L487.4 433.1L487.5 513.3L487.5 374.6L487.6 376.7L487.7 325.4L487.8 457.1L487.9 513.5L488 339.2L488.1 438.9L488.2 476.9L488.2 339.7L488.3 411.7L488.4 496.2L488.5 420.5L488.6 306.6L488.7 413L488.8 427.9L488.9 321.7L489 443.2L489 390.3L489.1 309.9L489.2 517L489.3 453.2L489.4 349L489.5 406.3L489.6 273.1L489.7 407.9L489.7 394.1L489.8 500.6L489.9 477.5L490 293.4L490.1 451.7L490.2 385.5L490.3 422.4L490.4 233.6L490.4 518.1L490.5 363.6L490.6 592.8L490.7 476.4L490.8 423.6L490.9 359L491 393L491.1 307.8L491.2 356.7L491.2 384.2L491.3 496.3L491.4 494L491.5 361.8L491.6 502.1L491.7 317.7L491.8 358.5L491.9 295.2L491.9 371.5L492 455.2L492.1 309L492.2 463L492.3 391.1L492.4 405.8L492.5 448.8L492.6 402.4L492.7 387.9L492.7 452.1L492.8 288.3L492.9 427.4L493 420.3L493.1 358.6L493.2 414.9L493.3 399.5L493.4 383L493.4 514L493.5 265.4L493.6 466.8L493.7 515L493.8 372.3L493.9 369L494 383L494.1 456.2L494.1 460.9L494.2 394.7L494.3 403.9L494.4 327.4L494.5 401L494.6 359.9L494.7 401.8L494.8 521.4L494.9 460.5L494.9 293.9L495 378.7L495.1 308.1L495.2 396L495.3 397.8L495.4 429.6L495.5 315.4L495.6 284.1L495.6 454L495.7 373.1L495.8 442.7L495.9 382.6L496 493.8L496.1 487.4L496.2 353.7L496.3 376.8L496.3 397.9L496.4 289.8L496.5 442.5L496.6 403.4L496.7 304.5L496.8 392.8L496.9 430.4L497 324.6L497.1 403.6L497.1 418.4L497.2 479L497.3 499.4L497.4 509.2L497.5 464.8L497.6 418.5L497.7 373.7L497.8 496.4L497.8 382L497.9 300.3L498 296.1L498.1 608.7L498.2 425.9L498.3 340.4L498.4 318.6L498.5 272.1L498.6 463L498.6 422.2L498.7 391.3L498.8 368.7L498.9 468.7L499 329.3L499.1 432.6L499.2 369.8L499.3 344.6L499.3 436.7L499.4 291.9L499.5 450L499.6 538.3L499.7 313.7L499.8 399.2L499.9 505.8L500 417.2L500 369.6L500.1 403.9L500.2 346.9L500.3 457.7L500.4 393.1L500.5 426L500.6 421.2L500.7 373.8L500.8 321.4L500.8 412.5L500.9 425.1L501 347.6L501.1 381.4L501.2 554L501.3 409.8L501.4 436.2L501.5 471.1L501.5 446L501.6 451.3L501.7 267.4L501.8 443.3L501.9 432.5L502 539.1L502.1 423L502.2 353.2L502.3 450.7L502.3 372L502.4 388.7L502.5 410.6L502.6 202.8L502.7 462.1L502.8 387.4L502.9 497.5L503 343.9L503 453.9L503.1 447.1L503.2 356.3L503.3 453.8L503.4 347.2L503.5 612.8L503.6 350.5L503.7 460.6L503.7 550.5L503.8 334.9L503.9 286.3L504 378.3L504.1 287.4L504.2 343.7L504.3 458.5L504.4 289.6L504.5 412L504.5 326.5L504.6 377L504.7 457.2L504.8 428.7L504.9 480.8L505 368.7L505.1 497.1L505.2 263.7L505.2 395.3L505.3 512.6L505.4 389.4L505.5 481.7L505.6 307.2L505.7 373.9L505.8 477.1L505.9 309L505.9 334.8L506 369L506.1 485L506.2 472.1L506.3 234.7L506.4 524L506.5 381.2L506.6 388.3L506.7 489.6L506.7 505.6L506.8 519.7L506.9 330.3L507 470.3L507.1 338.7L507.2 360.7L507.3 400.2L507.4 428.6L507.4 440.2L507.5 388.7L507.6 444.2L507.7 496.5L507.8 426.3L507.9 277.2L508 305.2L508.1 440.4L508.2 518.5L508.2 487.4L508.3 465.2L508.4 388.4L508.5 408.2L508.6 331L508.7 280.5L508.8 412.2L508.9 328.9L508.9 373.6L509 458.4L509.1 436.6L509.2 467.2L509.3 536.7L509.4 339.6L509.5 328.1L509.6 358.7L509.6 419L509.7 389.2L509.8 374.3L509.9 389.6L510 429L510.1 406.4L510.2 402.5L510.3 337.3L510.4 325.2L510.4 480.2L510.5 221.2L510.6 362.3L510.7 448L510.8 506.5L510.9 370.7L511 324.9L511.1 456.7L511.1 425.7L511.2 279L511.3 331.1L511.4 348.8L511.5 355L511.6 252.9L511.7 431.9L511.8 375.5L511.8 434.3L511.9 476.9L512 508.2L512.1 442.7L512.2 454.7L512.3 441.9L512.4 358.7L512.5 434L512.6 461.2L512.6 429.9L512.7 441.7L512.8 419.2L512.9 314.7L513 431.4L513.1 393.3L513.2 414.4L513.3 443.4L513.3 375.7L513.4 370.3L513.5 400.4L513.6 344.9L513.7 391.7L513.8 329.6L513.9 436.9L514 345.9L514.1 361.6L514.1 413.4L514.2 437.1L514.3 451.5L514.4 471.5L514.5 437.8L514.6 434.1L514.7 424.5L514.8 258.4L514.8 412.3L514.9 468.1L515 303.9L515.1 332.3L515.2 445L515.3 347.8L515.4 377.6L515.5 335.7L515.5 429.7L515.6 388L515.7 412.4L515.8 439.5L515.9 400.1L516 299L516.1 418.1L516.2 443.6L516.3 444L516.3 357.3L516.4 410.7L516.5 487L516.6 485.5L516.7 427.8L516.8 349L516.9 301.7L517 326.6L517 408.3L517.1 371.7L517.2 325L517.3 432.8L517.4 516.1L517.5 286.6L517.6 316.5L517.7 363.1L517.8 306.4L517.8 342.5L517.9 440.7L518 482.3L518.1 415L518.2 467.1L518.3 430.6L518.4 344.2L518.5 491.1L518.5 407.2L518.6 256.5L518.7 396.1L518.8 494.2L518.9 381L519 415.8L519.1 324.1L519.2 433.2L519.2 292.2L519.3 182L519.4 264.6L519.5 366.2L519.6 287.7L519.7 541.3L519.8 488.2L519.9 383.1L520 406.8L520 440.2L520.1 377.1L520.2 376.8L520.3 359.8L520.4 517.9L520.5 344.6L520.6 363.5L520.7 425.7L520.7 455.8L520.8 360.3L520.9 413.6L521 419.7L521.1 342.8L521.2 291.2L521.3 409.3L521.4 442.7L521.4 401.3L521.5 434.9L521.6 505.4L521.7 356.5L521.8 181.6L521.9 477.1L522 433.2L522.1 422.3L522.2 473.9L522.2 577.2L522.3 382.7L522.4 487.9L522.5 529.9L522.6 271.2L522.7 559.1L522.8 338.9L522.9 368.8L522.9 355.2L523 473.8L523.1 416.2L523.2 423.5L523.3 281.7L523.4 383.9L523.5 504.3L523.6 366.7L523.7 331.9L523.7 324.2L523.8 420.2L523.9 392L524 447.6L524.1 407.5L524.2 364L524.3 181.8L524.4 512.4L524.4 387.5L524.5 363.7L524.6 372.7L524.7 437.7L524.8 419.8L524.9 319.8L525 277L525.1 392.6L525.1 388.3L525.2 481.8L525.3 423.9L525.4 405.3L525.5 256.8L525.6 575.3L525.7 312.4L525.8 318.1L525.9 311.4L525.9 467.6L526 388.9L526.1 410.7L526.2 367.8L526.3 426.8L526.4 447.2L526.5 447.8L526.6 478.5L526.6 311.2L526.7 467.4L526.8 456.1L526.9 330.8L527 419.2L527.1 413.5L527.2 333.4L527.3 401.6L527.3 363.4L527.4 408L527.5 555.5L527.6 456L527.7 381.4L527.8 432.9L527.9 325.9L528 437.6L528.1 423.2L528.1 443.4L528.2 431.1L528.3 265.3L528.4 455.6L528.5 531.3L528.6 467.1L528.7 530.5L528.8 411.1L528.8 408.3L528.9 435.3L529 456.4L529.1 440.7L529.2 558.2L529.3 417.9L529.4 450.3L529.5 289.3L529.6 413.4L529.6 392.9L529.7 465.3L529.8 413.4L529.9 332.2L530 475.3L530.1 389.8L530.2 401.9L530.3 345.4L530.3 423.9L530.4 399.3L530.5 415.8L530.6 280.4L530.7 314.5L530.8 397.3L530.9 346.6L531 456.9L531 396.6L531.1 393.4L531.2 381.3L531.3 288.1L531.4 411.7L531.5 422.2L531.6 352.2L531.7 366.3L531.8 287.1L531.8 355.8L531.9 331.5L532 400L532.1 410.6L532.2 286.7L532.3 453.8L532.4 409.1L532.5 361.4L532.5 361.6L532.6 423.2L532.7 270.6L532.8 295.9L532.9 285.2L533 410.8L533.1 446L533.2 348.4L533.3 398.8L533.3 401.9L533.4 405.6L533.5 201.3L533.6 433.6L533.7 349.7L533.8 540.2L533.9 415.4L534 401.8L534 433.6L534.1 393.9L534.2 412.8L534.3 495.9L534.4 369.3L534.5 247.5L534.6 486L534.7 444.4L534.7 470.3L534.8 387.1L534.9 485.4L535 390.2L535.1 382.8L535.2 358.5L535.3 312.3L535.4 446.6L535.5 459.4L535.5 352.4L535.6 321.5L535.7 415.8L535.8 524.4L535.9 329.2L536 330.6L536.1 549.3L536.2 348.3L536.2 420.8L536.3 124.4L536.4 310.2L536.5 359.3L536.6 239.7L536.7 369.6L536.8 398.4L536.9 315.6L536.9 243.1L537 319.1L537.1 394.8L537.2 372.2L537.3 401.5L537.4 461L537.5 416.2L537.6 373.5L537.7 422.4L537.7 336.5L537.8 439.4L537.9 367.8L538 481.6L538.1 519L538.2 328.2L538.3 380.2L538.4 568.8L538.4 342.7L538.5 333.4L538.6 360.8L538.7 305.4L538.8 415.7L538.9 377.9L539 392.6L539.1 233.4L539.2 318.1L539.2 459.4L539.3 501.1L539.4 464.8L539.5 339L539.6 376.7L539.7 416L539.8 389.4L539.9 440.3L539.9 412.5L540 473.6L540.1 393L540.2 422L540.3 313.9L540.4 365L540.5 509.2L540.6 426.4L540.6 316.2L540.7 395.2L540.8 423.7L540.9 338.9L541 362.3L541.1 459.4L541.2 349.1L541.3 387.5L541.4 475L541.4 430.3L541.5 372.9L541.6 449.3L541.7 398.6L541.8 360.5L541.9 417.3L542 460.4L542.1 452.9L542.1 423.8L542.2 494.1L542.3 269.4L542.4 417L542.5 387.3L542.6 389.6L542.7 309.9L542.8 518.2L542.8 350L542.9 413.1L543 433.6L543.1 520L543.2 346.4L543.3 345.2L543.4 374.1L543.5 415L543.6 484.9L543.6 442.5L543.7 332.5L543.8 384.9L543.9 316.6L544 376.9L544.1 322.6L544.2 300.7L544.3 305.9L544.3 472.7L544.4 340.4L544.5 390.6L544.6 266.9L544.7 367.4L544.8 304.2L544.9 425L545 346.9L545.1 417.5L545.1 435.6L545.2 366.9L545.3 381.8L545.4 348.2L545.5 507.7L545.6 487.7L545.7 275.5L545.8 433.5L545.8 395L545.9 341.3L546 316.3L546.1 309L546.2 452.3L546.3 335.2L546.4 370.9L546.5 425.8L546.5 391.7L546.6 344L546.7 332.1L546.8 408.5L546.9 324.5L547 493.2L547.1 400L547.2 540.3L547.3 277.1L547.3 352.1L547.4 434L547.5 420.6L547.6 405.4L547.7 397.6L547.8 514.1L547.9 443.5L548 213.5L548 357.7L548.1 455.6L548.2 361.9L548.3 304.2L548.4 465.1L548.5 517.7L548.6 514.4L548.7 321.1L548.8 397.9L548.8 421.2L548.9 465.8L549 306.8L549.1 391.7L549.2 347.7L549.3 400.9L549.4 506.5L549.5 297.7L549.5 424.2L549.6 336.9L549.7 362.5L549.8 428.3L549.9 297.4L550 319L550.1 347.2L550.2 274.8L550.2 411.9L550.3 338.7L550.4 411.5L550.5 403.7L550.6 334.4L550.7 500.2L550.8 354.9L550.9 462.3L551 333.5L551 507.4L551.1 431.8L551.2 313.9L551.3 382.4L551.4 339L551.5 422.3L551.6 285.7L551.7 389.4L551.7 297.1L551.8 434.7L551.9 454.9L552 339.4L552.1 446L552.2 376.8L552.3 264.6L552.4 415.2L552.4 466.4L552.5 340L552.6 473L552.7 405.3L552.8 429.7L552.9 412L553 429.9L553.1 405.8L553.2 371.5L553.2 326.3L553.3 327.4L553.4 378L553.5 363.6L553.6 496.6L553.7 473.1L553.8 292.9L553.9 440.8L553.9 508.7L554 416.6L554.1 440.4L554.2 380.5L554.3 364.6L554.4 497.8L554.5 572.5L554.6 336.4L554.7 373.8L554.7 438.3L554.8 337.4L554.9 382.7L555 495.5L555.1 201.9L555.2 371.4L555.3 492.7L555.4 479.6L555.4 371L555.5 405.7L555.6 464.6L555.7 408.5L555.8 454.1L555.9 331L556 416.9L556.1 256.7L556.1 289.8L556.2 323.6L556.3 363.9L556.4 379.8L556.5 438.9L556.6 293.6L556.7 476.1L556.8 407L556.9 395.1L556.9 409.9L557 415.5L557.1 468.7L557.2 241.6L557.3 477.9L557.4 386.2L557.5 325.5L557.6 351.7L557.6 479.8L557.7 373.3L557.8 361L557.9 392L558 399.9L558.1 558.1L558.2 383.3L558.3 455.4L558.3 349.9L558.4 493.7L558.5 508.6L558.6 389.1L558.7 416.2L558.8 501.6L558.9 436L559 448.2L559.1 397L559.1 398.8L559.2 505.7L559.3 357.4L559.4 324.2L559.5 533L559.6 446.4L559.7 330.7L559.8 510.3L559.8 487.2L559.9 515.9L560 307.9L560.1 352L560.2 490.4L560.3 356L560.4 349.3L560.5 347.3L560.6 337.8L560.6 332.6L560.7 432.2L560.8 324.3L560.9 444.6L561 249.5L561.1 445.3L561.2 369.2L561.3 279.6L561.3 416.1L561.4 388.6L561.5 390L561.6 414.5L561.7 345.3L561.8 303.5L561.9 446.7L562 295.9L562 472.8L562.1 423.1L562.2 552.1L562.3 525.8L562.4 352.4L562.5 488.3L562.6 454.7L562.7 543.4L562.8 342.7L562.8 463.2L562.9 477.6L563 266L563.1 385.9L563.2 385.7L563.3 471.7L563.4 262.8L563.5 419L563.5 341.7L563.6 352.6L563.7 482.1L563.8 400.9L563.9 363.4L564 338L564.1 360.4L564.2 442.2L564.2 367.8L564.3 330.1L564.4 495.7L564.5 383.8L564.6 372.5L564.7 332L564.8 399.2L564.9 377.6L565 300L565 477.6L565.1 541.5L565.2 388.7L565.3 306.2L565.4 341.2L565.5 431.7L565.6 284.8L565.7 373.3L565.7 350.9L565.8 403.9L565.9 358.2L566 427.8L566.1 358.2L566.2 358.5L566.3 446.8L566.4 306.2L566.5 365.8L566.5 468.1L566.6 540.4L566.7 422.3L566.8 336.5L566.9 435.3L567 318.9L567.1 375.5L567.2 395.2L567.2 361.9L567.3 363.4L567.4 403.1L567.5 378.7L567.6 364L567.7 404.3L567.8 233L567.9 338.9L567.9 317.6L568 315.5L568.1 328.7L568.2 399.7L568.3 471.6L568.4 426.8L568.5 271L568.6 354.9L568.7 496.6L568.7 392.2L568.8 349.8L568.9 450.4L569 415.9L569.1 396.9L569.2 259.5L569.3 387.7L569.4 395.4L569.4 494.2L569.5 314.7L569.6 318.7L569.7 364.2L569.8 395.1L569.9 343.9L570 380.8L570.1 357.9L570.2 313.6L570.2 388.5L570.3 417.7L570.4 360.5L570.5 463.6L570.6 467.2L570.7 303L570.8 500.8L570.9 513.1L570.9 453.9L571 421.9L571.1 443.6L571.2 345.8L571.3 408.8L571.4 308.2L571.5 480.7L571.6 389.3L571.6 376L571.7 347.4L571.8 355.5L571.9 413.4L572 403.6L572.1 531.8L572.2 392L572.3 369.9L572.4 502.1L572.4 379.3L572.5 312.5L572.6 271.3L572.7 361.1L572.8 394L572.9 383L573 453.9L573.1 393L573.1 366.5L573.2 469.6L573.3 440.5L573.4 385.5L573.5 444.9L573.6 308.1L573.7 486.7L573.8 399.9L573.8 384L573.9 349.6L574 451.8L574.1 469.2L574.2 409.4L574.3 418.8L574.4 423.2L574.5 338.2L574.6 452.8L574.6 328.8L574.7 377L574.8 309.3L574.9 363.2L575 350.2L575.1 389.7L575.2 390.5L575.3 523.6L575.3 298.6L575.4 284.4L575.5 425.8L575.6 329.6L575.7 419.7L575.8 337.7L575.9 460.6L576 396.4L576.1 361.7L576.1 416.9L576.2 338.5L576.3 468.1L576.4 435.6L576.5 317.9L576.6 458.1L576.7 425.4L576.8 518.8L576.8 458.7L576.9 423.2L577 289.4L577.1 417.7L577.2 340.2L577.3 379.7L577.4 423.6L577.5 447.4L577.5 288.3L577.6 424.6L577.7 449.5L577.8 518.1L577.9 400.5L578 394.9L578.1 377.6L578.2 480.1L578.3 499.4L578.3 524.2L578.4 436.9L578.5 455.1L578.6 435.9L578.7 362.4L578.8 451.2L578.9 358.6L579 560.5L579 334.9L579.1 409.4L579.2 441.7L579.3 410.9L579.4 420.6L579.5 361.7L579.6 615.1L579.7 283.4L579.8 521.7L579.8 443.1L579.9 421.8L580 360.4L580.1 524.4L580.2 445.2L580.3 269.7L580.4 400.1L580.5 283.5L580.5 482.5L580.6 392.8L580.7 369.3L580.8 442.3L580.9 426.6L581 448.8L581.1 372L581.2 340.5L581.2 304.3L581.3 366.4L581.4 387.2L581.5 487.8L581.6 503.3L581.7 240.9L581.8 533.9L581.9 341.2L582 377.2L582 412.3L582.1 437.1L582.2 346.4L582.3 331.2L582.4 297L582.5 442.9L582.6 413.5L582.7 327.8L582.7 369.7L582.8 398.7L582.9 393.6L583 339.1L583.1 445L583.2 480.8L583.3 315.5L583.4 357.3L583.4 459.2L583.5 404.4L583.6 372.2L583.7 305.1L583.8 359L583.9 377.8L584 456L584.1 391.4L584.2 483.1L584.2 365.7L584.3 245.7L584.4 449.2L584.5 325.5L584.6 268.6L584.7 521.5L584.8 343.3L584.9 427.5L584.9 375.9L585 420.5L585.1 393.7L585.2 354.4L585.3 405.8L585.4 371.7L585.5 368.7L585.6 371.6L585.7 406.1L585.7 421.3L585.8 435.7L585.9 276.7L586 499.6L586.1 262.7L586.2 348.2L586.3 310.8L586.4 404.1L586.4 306.6L586.5 396L586.6 594.1L586.7 405.9L586.8 460.3L586.9 236.4L587 347.1L587.1 380.7L587.1 390.1L587.2 269.7L587.3 297.3L587.4 350.6L587.5 404.1L587.6 381.9L587.7 306.8L587.8 447.7L587.9 379.1L587.9 382.8L588 596.9L588.1 328.7L588.2 401.9L588.3 438.4L588.4 460.3L588.5 387.7L588.6 489.5L588.6 441.8L588.7 406L588.8 438.4L588.9 408.2L589 377.9L589.1 546.8L589.2 368L589.3 434.1L589.3 414.4L589.4 362.5L589.5 364.7L589.6 447.5L589.7 480.2L589.8 417.2L589.9 565.9L590 371.2L590.1 492.5L590.1 413.5L590.2 442L590.3 318.4L590.4 315L590.5 457.1L590.6 331.5L590.7 423.1L590.8 441.1L590.8 387.1L590.9 461.7L591 410.7L591.1 505.9L591.2 448.9L591.3 369.2L591.4 465.8L591.5 306.7L591.6 354.1L591.6 466.1L591.7 378.5L591.8 434L591.9 333L592 319.2L592.1 457L592.2 521.1L592.3 296L592.3 439.7L592.4 442.2L592.5 387.2L592.6 510.2L592.7 308.1L592.8 417.1L592.9 465L593 225.9L593 224L593.1 370.1L593.2 362.7L593.3 336.1L593.4 463.1L593.5 361.1L593.6 335.8L593.7 427.7L593.8 404.5L593.8 371.2L593.9 346.8L594 295.2L594.1 400.7L594.2 469L594.3 225.2L594.4 354.3L594.5 363.3L594.5 315.3L594.6 345.6L594.7 344.8L594.8 375.7L594.9 476.9L595 234.6L595.1 479.3L595.2 507L595.2 399.8L595.3 262.6L595.4 365.9L595.5 325.7L595.6 383.6L595.7 395.8L595.8 423.8L595.9 388.5L596 350.5L596 311.4L596.1 327.9L596.2 356.9L596.3 300.7L596.4 459.3L596.5 458.6L596.6 427.5L596.7 419.6L596.7 451.7L596.8 392.6L596.9 343.6L597 333.6L597.1 404.5L597.2 417.4L597.3 415.3L597.4 424.4L597.5 375.6L597.5 502.2L597.6 437.7L597.7 428.1L597.8 537.4L597.9 420.2L598 482.9L598.1 386.5L598.2 475.1L598.2 311L598.3 384.9L598.4 379.7L598.5 446L598.6 346.7L598.7 346.1L598.8 335.8L598.9 361.5L598.9 266.3L599 341L599.1 372.6L599.2 337.6L599.3 496.5L599.4 440.3L599.5 311.9L599.6 420.9L599.7 433.1L599.7 351.5L599.8 267.1L599.9 388.2L600 442.2L600.1 415.7L600.2 406L600.3 321.3L600.4 479.7L600.4 366.6L600.5 334.9L600.6 405.8L600.7 444L600.8 408.2L600.9 450.5L601 361.9L601.1 324.3L601.2 502.8L601.2 417.1L601.3 473L601.4 377.8L601.5 434.4L601.6 354.5L601.7 410.8L601.8 320.7L601.9 389.5L601.9 402.8L602 407.8L602.1 442.7L602.2 392.7L602.3 335.6L602.4 471.1L602.5 219.5L602.6 374.7L602.6 432.6L602.7 429.4L602.8 242L602.9 300.1L603 426.2L603.1 412.5L603.2 525.6L603.3 358.3L603.4 487.1L603.4 381.9L603.5 376.7L603.6 536.7L603.7 324.5L603.8 327.1L603.9 359.7L604 360L604.1 409.7L604.1 340.3L604.2 379.5L604.3 399.6L604.4 441.4L604.5 427L604.6 402.4L604.7 312.8L604.8 611.9L604.8 482.6L604.9 317.3L605 313.6L605.1 388.4L605.2 335.3L605.3 470.7L605.4 465.2L605.5 471.9L605.6 345.1L605.6 373.1L605.7 556.3L605.8 405.3L605.9 520.3L606 372.9L606.1 409.2L606.2 342.9L606.3 406.6L606.3 401.2L606.4 320.2L606.5 257.8L606.6 380.2L606.7 291.4L606.8 245.3L606.9 340.3L607 472.2L607.1 338.5L607.1 429.8L607.2 400.8L607.3 318.2L607.4 372.7L607.5 433.6L607.6 516.1L607.7 336.6L607.8 403.7L607.8 380.1L607.9 487.8L608 481.6L608.1 354.8L608.2 425.7L608.3 377.6L608.4 361.9L608.5 297.7L608.5 293.3L608.6 465.9L608.7 515.5L608.8 407L608.9 365.2L609 454.9L609.1 315.2L609.2 393.8L609.3 383L609.3 395.7L609.4 390.9L609.5 388.7L609.6 372.3L609.7 415L609.8 404L609.9 344.9L610 377.6L610 356.2L610.1 371.2L610.2 421.6L610.3 352.6L610.4 441.3L610.5 331.5L610.6 550.3L610.7 329.1L610.8 195.3L610.8 325.1L610.9 415.1L611 403L611.1 430.4L611.2 466.6L611.3 247.4L611.4 352.6L611.5 458.1L611.5 514.3L611.6 359.4L611.7 417.6L611.8 366.8L611.9 357.8L612 254.6L612.1 341.3L612.2 501.6L612.2 314.2L612.3 429.1L612.4 627.8L612.5 384.8L612.6 392.3L612.7 452.5L612.8 491.1L612.9 441.8L613 460.3L613 298.2L613.1 399.4L613.2 302.9L613.3 282.4L613.4 496.9L613.5 487.7L613.6 494.3L613.7 460.7L613.7 331.1L613.8 450.4L613.9 437.2L614 399.6L614.1 368.8L614.2 458.6L614.3 354.1L614.4 538.7L614.4 244.6L614.5 284.2L614.6 357.4L614.7 299.8L614.8 357.8L614.9 398.5L615 444.6L615.1 316L615.2 534.4L615.2 337L615.3 394.5L615.4 473.4L615.5 439.1L615.6 297.1L615.7 300L615.8 484.6L615.9 369.1L615.9 490.5L616 444.8L616.1 362.7L616.2 476.1L616.3 390.7L616.4 429.5L616.5 485L616.6 321.3L616.7 440.7L616.7 405.3L616.8 345.2L616.9 556L617 318.6L617.1 345.1L617.2 339.2L617.3 343.8L617.4 425.3L617.4 343.8L617.5 461.3L617.6 284.4L617.7 428.7L617.8 331.2L617.9 495.1L618 313.2L618.1 352.2L618.1 488.2L618.2 348.4L618.3 387.4L618.4 452L618.5 340.5L618.6 386.4L618.7 391.6L618.8 496.4L618.9 466.8L618.9 425.3L619 289.5L619.1 315.5L619.2 386.6L619.3 401.7L619.4 337.3L619.5 388L619.6 353L619.6 295.8L619.7 383L619.8 406.4L619.9 388.4L620 348.9L620.1 326.1L620.2 374.9L620.3 379.3L620.3 410.9L620.4 401.9L620.5 441.3L620.6 285.1L620.7 300L620.8 431.9L620.9 456.5L621 301.4L621.1 259.5L621.1 416.1L621.2 384.4L621.3 328.2L621.4 319.9L621.5 441.4L621.6 369.7L621.7 428.7L621.8 268L621.8 352.5L621.9 411.5L622 422L622.1 407.7L622.2 363.4L622.3 356.9L622.4 419.3L622.5 398.3L622.6 467.7L622.6 310.2L622.7 298.6L622.8 408.8L622.9 484.9L623 362.6L623.1 464.6L623.2 351.9L623.3 385.4L623.3 430.1L623.4 422.2L623.5 365.6L623.6 428.6L623.7 491.1L623.8 362L623.9 294.4L624 369.8L624 386.8L624.1 346.2L624.2 298.1L624.3 469.2L624.4 437.1L624.5 426.8L624.6 373.6L624.7 420.8L624.8 402.1L624.8 426.4L624.9 454.2L625 394L625.1 398.1L625.2 303.3L625.3 345.2L625.4 368L625.5 503.2L625.5 376.2L625.6 499.8L625.7 500.4L625.8 560.7L625.9 429.6L626 380.3L626.1 360.9L626.2 355.4L626.2 272.6L626.3 353.2L626.4 362.6L626.5 565.9L626.6 443.1L626.7 294.5L626.8 362.8L626.9 397L627 412.2L627 548.1L627.1 357.4L627.2 384L627.3 510.2L627.4 276.9L627.5 374.4L627.6 472.9L627.7 400.9L627.7 422.4L627.8 502.2L627.9 327L628 443.3L628.1 345.5L628.2 391.7L628.3 517.1L628.4 445.7L628.5 430.7L628.5 308.5L628.6 272.9L628.7 395L628.8 333.1L628.9 296.9L629 307.5L629.1 388.3L629.2 443.7L629.2 407.3L629.3 385.4L629.4 416.7L629.5 271.2L629.6 475.6L629.7 356.2L629.8 396.4L629.9 494.8L629.9 317L630 445.4L630.1 335.9L630.2 428.8L630.3 257.3L630.4 281L630.5 470.8L630.6 455.7L630.7 329.4L630.7 352L630.8 390.8L630.9 364L631 367.4L631.1 388.9L631.2 450.9L631.3 320.7L631.4 388.8L631.4 455.2L631.5 388.1L631.6 300.5L631.7 391.6L631.8 507.1L631.9 398.3L632 446.4L632.1 370.1L632.2 412.5L632.2 382.2L632.3 379.4L632.4 420.3L632.5 472.9L632.6 251.7L632.7 387.6L632.8 286.4L632.9 559.1L632.9 314.1L633 511.3L633.1 283.6L633.2 349.9L633.3 318.3L633.4 174.5L633.5 363.9L633.6 413.8L633.6 430.4L633.7 480.6L633.8 420.7L633.9 345.5L634 392.8L634.1 371.4L634.2 384.3L634.3 408L634.4 320L634.4 471.3L634.5 487.6L634.6 279.4L634.7 334L634.8 438.9L634.9 251.3L635 423.3L635.1 307.6L635.1 392.5L635.2 371.2L635.3 335.2L635.4 342.2L635.5 317.9L635.6 434.3L635.7 450.4L635.8 394.3L635.8 368.3L635.9 290L636 374.2L636.1 425.9L636.2 281.9L636.3 403.5L636.4 396.9L636.5 415.3L636.6 531.8L636.6 493.7L636.7 318.8L636.8 359.4L636.9 327.3L637 324.8L637.1 443.7L637.2 479L637.3 403.2L637.3 408.9L637.4 375L637.5 352.4L637.6 370.3L637.7 393.9L637.8 371.9L637.9 394.7L638 428.5L638.1 340.4L638.1 210.1L638.2 367.8L638.3 468.7L638.4 378L638.5 476.8L638.6 236.7L638.7 418.9L638.8 446.4L638.8 515.3L638.9 463.1L639 278.1L639.1 256.8L639.2 384.9L639.3 371.2L639.4 421.7L639.5 347.7L639.5 468.3L639.6 393.1L639.7 406.7L639.8 459.7L639.9 430.9L640 578.1L640.1 374.2L640.2 310.3L640.3 371.3L640.3 398.9L640.4 323.6L640.5 539.2L640.6 363L640.7 401.1L640.8 443.9L640.9 303.4L641 343.3L641 417.1L641.1 411L641.2 411.1L641.3 366.3L641.4 420.2L641.5 387.9L641.6 307.4L641.7 362.8L641.8 332.9L641.8 431.4L641.9 418.5L642 433.6L642.1 391.9L642.2 379.2L642.3 498.6L642.4 518.5L642.5 227.7L642.5 502.2L642.6 310.1L642.7 411.6L642.8 434.2L642.9 433.6L643 477.1L643.1 419.2L643.2 434.7L643.2 473.9L643.3 426.1L643.4 391.8L643.5 491.7L643.6 366L643.7 408.5L643.8 412.7L643.9 422.5L644 504.2L644 337.6L644.1 344.8L644.2 438.8L644.3 463.4L644.4 452.8L644.5 389.3L644.6 358.8L644.7 387.4L644.7 359.8L644.8 399.8L644.9 369.5L645 269.9L645.1 376.2L645.2 481.7L645.3 397.9L645.4 306L645.4 479.3L645.5 368.6L645.6 295.3L645.7 355.4L645.8 310.2L645.9 256.2L646 595L646.1 432L646.2 474.8L646.2 270.1L646.3 394L646.4 361.7L646.5 289.2L646.6 443.9L646.7 380.9L646.8 431.1L646.9 340.1L646.9 276.2L647 457.4L647.1 462.7L647.2 268.7L647.3 366.8L647.4 343.3L647.5 268L647.6 357.6L647.7 399.9L647.7 344.8L647.8 418.1L647.9 348.8L648 410.7L648.1 355.5L648.2 448.8L648.3 436.2L648.4 406.8L648.4 351.3L648.5 271.1L648.6 359L648.7 429.7L648.8 481.1L648.9 424L649 480.2L649.1 323.1L649.1 467.1L649.2 407.6L649.3 329.6L649.4 419.5L649.5 357.1L649.6 229.2L649.7 438.9L649.8 349.2L649.9 347.6L649.9 397.4L650 439.4L650.1 337L650.2 416.9L650.3 381.5L650.4 245L650.5 462L650.6 468L650.6 272.4L650.7 436.4L650.8 537.4L650.9 315.2L651 431.2L651.1 417.1L651.2 369.3L651.3 388.3L651.3 458.7L651.4 418.5L651.5 308.7L651.6 350.5L651.7 528.8L651.8 391.2L651.9 506.3L652 473.4L652.1 429L652.1 280.9L652.2 347.2L652.3 470.7L652.4 311.5L652.5 389.6L652.6 297.6L652.7 386.3L652.8 467.6L652.8 365.5L652.9 259.4L653 400.2L653.1 351.2L653.2 399.2L653.3 473.1L653.4 361.4L653.5 369.4L653.6 436.4L653.6 379.7L653.7 430.4L653.8 317.2L653.9 375.7L654 477.5L654.1 286.8L654.2 511.3L654.3 454.2L654.3 373.3L654.4 409.3L654.5 341.4L654.6 424.5L654.7 320.6L654.8 305.8L654.9 353.5L655 343.1L655 463.4L655.1 402.7L655.2 396.8L655.3 425.3L655.4 479.5L655.5 379.9L655.6 390.3L655.7 471.8L655.8 456.4L655.8 361.3L655.9 468.6L656 524.8L656.1 416.4L656.2 352.5L656.3 620.9L656.4 361.9L656.5 498.5L656.5 417.3L656.6 442.2L656.7 362.6L656.8 497.5L656.9 399.8L657 306.1L657.1 356.2L657.2 388.3L657.3 342.5L657.3 376.1L657.4 334.5L657.5 353L657.6 378.2L657.7 387.8L657.8 434.6L657.9 335.3L658 368L658 415.7L658.1 319.7L658.2 342.7L658.3 483.1L658.4 217.6L658.5 468.2L658.6 398.2L658.7 491.1L658.7 433.9L658.8 355.9L658.9 402L659 388.8L659.1 299L659.2 275L659.3 338.1L659.4 346.9L659.5 410.7L659.5 389.5L659.6 300.2L659.7 542L659.8 439.1L659.9 409.5L660 321.2L660.1 444.9L660.2 298.2L660.2 275.9L660.3 383.1L660.4 461.3L660.5 485.6L660.6 372.2L660.7 266.8L660.8 453.1L660.9 289.3L660.9 310.9L661 491.2L661.1 458.7L661.2 341.7L661.3 324.1L661.4 261.5L661.5 433.1L661.6 392L661.7 349L661.7 255.6L661.8 321.1L661.9 312.8L662 452.7L662.1 631.6L662.2 417.1L662.3 475.7L662.4 369.7L662.4 361.7L662.5 276L662.6 402.8L662.7 326.3L662.8 239.9L662.9 335.1L663 409.2L663.1 280.8L663.2 374L663.2 342.9L663.3 378.8L663.4 448.2L663.5 437.8L663.6 371.8L663.7 368.9L663.8 179.8L663.9 266.6L663.9 372.1L664 371.5L664.1 371L664.2 413.1L664.3 379.5L664.4 302L664.5 562.2L664.6 394.3L664.6 338.7L664.7 407.5L664.8 312.4L664.9 378.2L665 332.8L665.1 306.5L665.2 440.7L665.3 363.5L665.4 399.8L665.4 357.8L665.5 396.1L665.6 354.5L665.7 429.2L665.8 413.2L665.9 366L666 391L666.1 383L666.1 466.8L666.2 455.2L666.3 336.6L666.4 443.4L666.5 373.8L666.6 472.3L666.7 410.9L666.8 369L666.8 479.1L666.9 493.3L667 431.7L667.1 455.7L667.2 519.3L667.3 459.8L667.4 407.2L667.5 385.3L667.6 404.8L667.6 372.1L667.7 417L667.8 327.2L667.9 389.3L668 324.7L668.1 354.8L668.2 386.6L668.3 319.5L668.3 477.4L668.4 510.2L668.5 391.6L668.6 504.9L668.7 411L668.8 546L668.9 412.8L669 496.4L669.1 256.3L669.1 400.2L669.2 410.9L669.3 299L669.4 389.3L669.5 328.2L669.6 506.1L669.7 374.7L669.8 377.6L669.8 513.4L669.9 562.4L670 350.1L670.1 476.2L670.2 409.8L670.3 298.1L670.4 464.7L670.5 414.3L670.5 420.4L670.6 475.6L670.7 351.1L670.8 496.3L670.9 371.7L671 364.3L671.1 452.6L671.2 314.6L671.3 332L671.3 376.6L671.4 437.3L671.5 345.1L671.6 393.3L671.7 464.5L671.8 376.6L671.9 444.9L672 401.9L672 402L672.1 362.8L672.2 367.6L672.3 396.9L672.4 362.8L672.5 289.4L672.6 508.4L672.7 510.1L672.8 508.1L672.8 426.7L672.9 368.4L673 446L673.1 364.3L673.2 330.1L673.3 450.1L673.4 433L673.5 350.6L673.5 368L673.6 377.7L673.7 281.3L673.8 492.7L673.9 331L674 446.8L674.1 455.5L674.2 425.4L674.2 408.1L674.3 351.7L674.4 356L674.5 431.4L674.6 286L674.7 493.6L674.8 272.8L674.9 346.8L675 358.8L675 315L675.1 305.9L675.2 335.9L675.3 490.6L675.4 456.5L675.5 376.1L675.6 387.1L675.7 386.5L675.7 489.1L675.8 402.4L675.9 284.8L676 378.8L676.1 304.5L676.2 451.8L676.3 301.5L676.4 276.8L676.4 406.6L676.5 310.8L676.6 388.3L676.7 351.9L676.8 374.6L676.9 412.4L677 418.5L677.1 388.8L677.2 427.5L677.2 465.5L677.3 481.5L677.4 379.7L677.5 219.5L677.6 349.6L677.7 286.2L677.8 496.6L677.9 392.8L677.9 344.2L678 443.3L678.1 294.5L678.2 436.4L678.3 240.2L678.4 437.1L678.5 483.7L678.6 400.2L678.7 312.2L678.7 458.8L678.8 369.1L678.9 462.5L679 514.5L679.1 410.5L679.2 330.3L679.3 386.3L679.4 412.8L679.4 524.6L679.5 391.4L679.6 348.9L679.7 256.3L679.8 385.1L679.9 364.2L680 445.1L680.1 455.5L680.1 304.8L680.2 337.1L680.3 396.6L680.4 402.3L680.5 392.8L680.6 452.8L680.7 416.8L680.8 324.4L680.9 534.7L680.9 313.4L681 310L681.1 373.8L681.2 288.5L681.3 509.6L681.4 470.3L681.5 461.7L681.6 435L681.6 457.6L681.7 505.5L681.8 443.2L681.9 463.4L682 498L682.1 363.8L682.2 293.9L682.3 376.6L682.3 383L682.4 375.9L682.5 280L682.6 359.3L682.7 360.5L682.8 394L682.9 472.1L683 305.9L683.1 305.7L683.1 372.9L683.2 384.3L683.3 303.3L683.4 327.7L683.5 416.6L683.6 414.3L683.7 332.6L683.8 323.6L683.8 446.7L683.9 240.7L684 477.9L684.1 448.1L684.2 410.7L684.3 341.8L684.4 405.7L684.5 442.1L684.6 331.3L684.6 401.2L684.7 375.2L684.8 362.9L684.9 458L685 458.2L685.1 395L685.2 421.5L685.3 419L685.3 368.8L685.4 420.9L685.5 466L685.6 305.4L685.7 431.8L685.8 383.8L685.9 485.9L686 354.2L686 463.9L686.1 389.2L686.2 321.5L686.3 400.1L686.4 412.7L686.5 288.8L686.6 346.4L686.7 315.7L686.8 469.6L686.8 401.5L686.9 398.5L687 265.3L687.1 325.5L687.2 439.5L687.3 352.2L687.4 400.3L687.5 378.9L687.5 447L687.6 340.2L687.7 355.2L687.8 405.8L687.9 396.9L688 271.1L688.1 404.6L688.2 280.1L688.3 446.9L688.3 501.1L688.4 441.4L688.5 469.4L688.6 365.1L688.7 387.2L688.8 472.2L688.9 419.1L689 465.7L689 403.6L689.1 255.4L689.2 306.9L689.3 496.1L689.4 362.7L689.5 404.7L689.6 497.5L689.7 344.9L689.7 536.1L689.8 442.6L689.9 440.4L690 386.5L690.1 489.9L690.2 382.1L690.3 489.3L690.4 302.2L690.5 293.3L690.5 368.6L690.6 390.7L690.7 237.8L690.8 525L690.9 389.6L691 260L691.1 413.4L691.2 446.3L691.2 367.2L691.3 490.3L691.4 429.5L691.5 417.9L691.6 353.3L691.7 439.2L691.8 415.2L691.9 495.4L691.9 396.3L692 331.7L692.1 467.1L692.2 322.8L692.3 273.3L692.4 338L692.5 354.2L692.6 260.7L692.7 319.3L692.7 400.6L692.8 354L692.9 360.5L693 328.9L693.1 479.2L693.2 506L693.3 450.4L693.4 456.5L693.4 335.2L693.5 253.9L693.6 440.2L693.7 398.2L693.8 398.8L693.9 357.6L694 337.4L694.1 353.1L694.2 478.7L694.2 429.4L694.3 433.1L694.4 368.2L694.5 356.3L694.6 331.9L694.7 420.9L694.8 412.1L694.9 466.3L694.9 316.4L695 349.2L695.1 379.7L695.2 289.8L695.3 391.9L695.4 382.4L695.5 375.2L695.6 344.5L695.6 306.1L695.7 383.1L695.8 406.6L695.9 323.8L696 364.9L696.1 482L696.2 470.1L696.3 333.1L696.4 292.8L696.4 346.9L696.5 395.3L696.6 397.1L696.7 421.6L696.8 468.7L696.9 446.3L697 391.5L697.1 455.4L697.1 308.8L697.2 381.3L697.3 394.1L697.4 510.7L697.5 390L697.6 426.1L697.7 336.7L697.8 495.4L697.8 526.1L697.9 406.4L698 408.2L698.1 413.4L698.2 328.8L698.3 439.2L698.4 403.8L698.5 333.5L698.6 228.3L698.6 293.3L698.7 407.1L698.8 379.9L698.9 304.8L699 283.6L699.1 354.2L699.2 360.8L699.3 491.9L699.3 442.6L699.4 324L699.5 377L699.6 409.7L699.7 429.9L699.8 125L699.9 429.4L700 364.6L700.1 547.9L700.1 298.1L700.2 411.8L700.3 369.5L700.4 354.8L700.5 244.7L700.6 439.5L700.7 415.1L700.8 434.5L700.8 350.9L700.9 459.4L701 357.5L701.1 311.4L701.2 305.7L701.3 403.3L701.4 306.6L701.5 425.3L701.5 437.2L701.6 251.6L701.7 239.3L701.8 452.8L701.9 515.4L702 438.4L702.1 368.2L702.2 378.3L702.3 317.6L702.3 433.7L702.4 284.3L702.5 247.3L702.6 441.6L702.7 237.1L702.8 403.5L702.9 428.3L703 354.4L703 371.9L703.1 392.3L703.2 311.8L703.3 444.2L703.4 356.9L703.5 452.5L703.6 357.4L703.7 391.3L703.8 398L703.8 354.5L703.9 386L704 345.9L704.1 540.6L704.2 490.1L704.3 361.3L704.4 362.6L704.5 301.9L704.5 298.7L704.6 468.8L704.7 423.6L704.8 528.5L704.9 367L705 461.5L705.1 345.4L705.2 351.5L705.2 479.2L705.3 304.9L705.4 417.6L705.5 355.1L705.6 345.5L705.7 327.1L705.8 447.5L705.9 386.8L706 465.2L706 383.4L706.1 315.5L706.2 338.2L706.3 367.8L706.4 359.6L706.5 478.8L706.6 565L706.7 324.7L706.7 546.6L706.8 340.6L706.9 404.3L707 430L707.1 436.2L707.2 409.8L707.3 335.5L707.4 462.9L707.4 464.3L707.5 422L707.6 292.5L707.7 332.3L707.8 408.9L707.9 521.6L708 341.8L708.1 260.5L708.2 361.7L708.2 557.6L708.3 380.5L708.4 314.5L708.5 429.1L708.6 393.8L708.7 392.3L708.8 411.8L708.9 363.7L708.9 289.4L709 335.1L709.1 292.3L709.2 384.6L709.3 372.3L709.4 496.5L709.5 322.9L709.6 401.4L709.7 375.1L709.7 336.3L709.8 392L709.9 266.3L710 333.4L710.1 380.3L710.2 453.9L710.3 482.7L710.4 296.9L710.4 274.8L710.5 382L710.6 307L710.7 454.6L710.8 429.7L710.9 351.1L711 310.7L711.1 383L711.1 398.5L711.2 393.7L711.3 365L711.4 442.9L711.5 418.9L711.6 430L711.7 349L711.8 391.9L711.9 470.5L711.9 502.8L712 368.9L712.1 489.1L712.2 361L712.3 238.2L712.4 517.4L712.5 376.7L712.6 365.1L712.6 397.5L712.7 149L712.8 307L712.9 420.4L713 389.6L713.1 314.3L713.2 384.2L713.3 494.2L713.3 369.4L713.4 347L713.5 447L713.6 435.9L713.7 412.2L713.8 426.7L713.9 429.2L714 417.4L714.1 383.8L714.1 370.2L714.2 371.8L714.3 360.7L714.4 297.5L714.5 379.2L714.6 464.1L714.7 400.1L714.8 519.7L714.8 333.4L714.9 260.5L715 447.7L715.1 307.5L715.2 341.6L715.3 407.7L715.4 400.5L715.5 428.4L715.6 384.9L715.6 423.4L715.7 266.5L715.8 452.7L715.9 321L716 304.5L716.1 486.9L716.2 420.3L716.3 270.8L716.3 358.9L716.4 334.1L716.5 339L716.6 426.2L716.7 392.7L716.8 555.4L716.9 331L717 340.5L717 339.4L717.1 348.4L717.2 337.1L717.3 481L717.4 506.3L717.5 430.7L717.6 464L717.7 314.8L717.8 431.7L717.8 367.9L717.9 470.6L718 307.3L718.1 310.9L718.2 551.4L718.3 361.4L718.4 415.7L718.5 390.9L718.5 396.5L718.6 206.4L718.7 307.1L718.8 416.9L718.9 500.4L719 395.9L719.1 382L719.2 520.7L719.3 407.2L719.3 398.1L719.4 380.1L719.5 359L719.6 432.9L719.7 342.4L719.8 373.4L719.9 470.1L720 411L720 362.9L720.1 417.6L720.2 375.1L720.3 487.9L720.4 471.7L720.5 315.3L720.6 369.3L720.7 409.5L720.7 381.2L720.8 338.9L720.9 352.3L721 374.6L721.1 429.7L721.2 526.1L721.3 400.3L721.4 409L721.5 287.4L721.5 366.4L721.6 307.8L721.7 430.4L721.8 361.8L721.9 371.5L722 445.2L722.1 428.5L722.2 441.4L722.2 310.4L722.3 350.9L722.4 477.4L722.5 489.6L722.6 362.4L722.7 423.1L722.8 389.4L722.9 306.3L722.9 320.3L723 336.5L723.1 425.5L723.2 381.4L723.3 336L723.4 390.6L723.5 446.8L723.6 470.6L723.7 367.1L723.7 449.2L723.8 409.7L723.9 439.9L724 333.4L724.1 315.9L724.2 255.2L724.3 481.3L724.4 354.3L724.4 344.6L724.5 492.3L724.6 301.9L724.7 253.5L724.8 305.5L724.9 411.4L725 485.5L725.1 386.5L725.2 303.7L725.2 354.4L725.3 394.5L725.4 282.5L725.5 335.5L725.6 315L725.7 447.5L725.8 322.3L725.9 411.1L725.9 365.9L726 407.5L726.1 369.5L726.2 408.4L726.3 372.4L726.4 554.1L726.5 481L726.6 259.8L726.6 431.7L726.7 428.1L726.8 398.4L726.9 535L727 365L727.1 437.4L727.2 367.1L727.3 232L727.4 419L727.4 453.4L727.5 294.7L727.6 425.5L727.7 312.2L727.8 343.4L727.9 342.7L728 386.4L728.1 465.8L728.1 503.5L728.2 404.8L728.3 490.2L728.4 422.3L728.5 466.6L728.6 426.2L728.7 620L728.8 359.5L728.8 422.1L728.9 372.6L729 332.1L729.1 418.9L729.2 322.6L729.3 337L729.4 504.9L729.5 400.3L729.6 281.6L729.6 193.6L729.7 445.4L729.8 254.3L729.9 434.3L730 460L730.1 310.7L730.2 456.3L730.3 419.9L730.3 412.6L730.4 327.7L730.5 376.9L730.6 345L730.7 395.7L730.8 512.4L730.9 365.3L731 427.9L731.1 382.4L731.1 417.4L731.2 332.1L731.3 404L731.4 506.7L731.5 452L731.6 440.7L731.7 453.2L731.8 331.8L731.8 459.9L731.9 432.1L732 450.4L732.1 502.8L732.2 368.1L732.3 422.5L732.4 304.6L732.5 292.3L732.5 436.7L732.6 541.5L732.7 431.6L732.8 344L732.9 421.7L733 197.6L733.1 381.2L733.2 397.2L733.3 448.2L733.3 349.7L733.4 461L733.5 307.8L733.6 267.7L733.7 301.9L733.8 456.5L733.9 465.2L734 344.9L734 381.2L734.1 464.5L734.2 398.4L734.3 419.9L734.4 399.7L734.5 370.6L734.6 426.1L734.7 451.1L734.8 541.1L734.8 299.8L734.9 462.1L735 272L735.1 396.2L735.2 368.4L735.3 417.9L735.4 390.5L735.5 341.6L735.5 546.5L735.6 284.5L735.7 329.7L735.8 491.8L735.9 317.9L736 454.5L736.1 404.2L736.2 387.9L736.2 458.1L736.3 430.6L736.4 435.6L736.5 446.7L736.6 204.9L736.7 283.7L736.8 336.1L736.9 436L737 446.9L737 303.6L737.1 335.3L737.2 423.3L737.3 413.9L737.4 360.6L737.5 358.2L737.6 387.7L737.7 370.6L737.7 412.5L737.8 473.7L737.9 364.1L738 344.3L738.1 386.1L738.2 427.9L738.3 433.6L738.4 430L738.4 339.7L738.5 406.8L738.6 298.4L738.7 403.5L738.8 467.2L738.9 353.3L739 397.6L739.1 482.6L739.2 357.9L739.2 353.9L739.3 304.2L739.4 359.1L739.5 431.2L739.6 362.5L739.7 436L739.8 326.6L739.9 290.6L739.9 392.8L740 518.9L740.1 395.1L740.2 374.4L740.3 374.2L740.4 451.2L740.5 311.2L740.6 311L740.7 536.4L740.7 387.1L740.8 336.1L740.9 323.7L741 366.3L741.1 324.5L741.2 445.6L741.3 447.8L741.4 428.3L741.4 351.9L741.5 308.8L741.6 396.4L741.7 401.9L741.8 380.1L741.9 440.6L742 371.2L742.1 374.6L742.1 343.6L742.2 424.5L742.3 335L742.4 400.2L742.5 420.4L742.6 454.8L742.7 341.5L742.8 399.4L742.9 394.1L742.9 388L743 501.3L743.1 392.2L743.2 399.8L743.3 316.4L743.4 343.1L743.5 352.3L743.6 243.1L743.6 414.4L743.7 438.3L743.8 396.1L743.9 430.6L744 443.5L744.1 239.4L744.2 270.5L744.3 396.5L744.3 410.6L744.4 481.4L744.5 381.6L744.6 430.4L744.7 469.9L744.8 400.2L744.9 402L745 428L745.1 491.9L745.1 368.2L745.2 449.4L745.3 460.6L745.4 345.6L745.5 495.7L745.6 448.6L745.7 361.8L745.8 357.3L745.8 388L745.9 504.9L746 441.7L746.1 372.8L746.2 461.2L746.3 482.2L746.4 443.3L746.5 468.6L746.6 393.3L746.6 451.8L746.7 412.7L746.8 436.1L746.9 321.8L747 336.4L747.1 420.5L747.2 502L747.3 602L747.3 269L747.4 419L747.5 422.1L747.6 466.3L747.7 323.9L747.8 338.5L747.9 376.7L748 271.8L748 495.9L748.1 562L748.2 327.6L748.3 370.6L748.4 368.7L748.5 370.5L748.6 421.3L748.7 512.9L748.8 436.8L748.8 364.1L748.9 196.6L749 408.4L749.1 300.3L749.2 380.5L749.3 469.2L749.4 454.8L749.5 409.5L749.5 367.4L749.6 440.7L749.7 415.6L749.8 294.2L749.9 546.9L750 471.6L750.1 432.6L750.2 444L750.2 310.5L750.3 328.5L750.4 371L750.5 415L750.6 391L750.7 444L750.8 324.9L750.9 311.7L751 329.4L751 472.6L751.1 345L751.2 406.5L751.3 278.6L751.4 330.1L751.5 395.1L751.6 444L751.7 379.3L751.7 442.6L751.8 439.7L751.9 359.3L752 403L752.1 410.6L752.2 515.7L752.3 512.6L752.4 499L752.5 506.1L752.5 363.9L752.6 354.6L752.7 404.3L752.8 511.4L752.9 464.3L753 622.2L753.1 405.8L753.2 419.7L753.2 228.3L753.3 384.3L753.4 336.3L753.5 270.3L753.6 497.7L753.7 502.6L753.8 352.7L753.9 476.7L753.9 361.4L754 326L754.1 429L754.2 388.8L754.3 394.4L754.4 293.9L754.5 398.6L754.6 411L754.7 378.7L754.7 390.2L754.8 392L754.9 398.4L755 298.5L755.1 433.1L755.2 382.7L755.3 410.8L755.4 370.2L755.4 518.2L755.5 331.2L755.6 443.8L755.7 390.6L755.8 238.5L755.9 476.2L756 377.5L756.1 422.9L756.2 414.8L756.2 417.3L756.3 422.3L756.4 284.6L756.5 451.2L756.6 268.5L756.7 370.7L756.8 452.9L756.9 495L756.9 328.5L757 394.8L757.1 337.1L757.2 268.5L757.3 444.7L757.4 416L757.5 415L757.6 487.2L757.6 403.8L757.7 487.3L757.8 449.5L757.9 443.6L758 446.2L758.1 396.4L758.2 330.3L758.3 376.9L758.4 555L758.4 329L758.5 428.4L758.6 443.1L758.7 346.1L758.8 474.2L758.9 465L759 415.9L759.1 307.1L759.1 398L759.2 318.1L759.3 384.5L759.4 380.3L759.5 456L759.6 411.2L759.7 446.2L759.8 419.9L759.8 333.2L759.9 358.3L760 388.1L760.1 341L760.2 453.4L760.3 370.7L760.4 296.3L760.5 378.1L760.6 409.1L760.6 371.1L760.7 429.9L760.8 419.3L760.9 466.4L761 412.2L761.1 409L761.2 279.3L761.3 376.9L761.3 471.3L761.4 426L761.5 364.8L761.6 357.2L761.7 302.8L761.8 293L761.9 355.2L762 211.3L762.1 477.8L762.1 340.7L762.2 387.9L762.3 417.9L762.4 425.3L762.5 345.5L762.6 349.7L762.7 449.2L762.8 270.4L762.8 360.7L762.9 503.1L763 237.2L763.1 392.5L763.2 428.2L763.3 421.6L763.4 331.9L763.5 434.3L763.5 412.9L763.6 527.3L763.7 391.7L763.8 416.1L763.9 408.1L764 303L764.1 384.9L764.2 389.6L764.3 405.4L764.3 416.2L764.4 413.2L764.5 297.2L764.6 301.7L764.7 395.6L764.8 353L764.9 278.3L765 365.7L765 396.3L765.1 381.5L765.2 454.3L765.3 337.3L765.4 445.9L765.5 478.4L765.6 326.6L765.7 490.1L765.8 429.3L765.8 500.4L765.9 506.6L766 337.2L766.1 478.2L766.2 347.3L766.3 442.9L766.4 418L766.5 378.9L766.5 305.4L766.6 374.2L766.7 449.5L766.8 357.4L766.9 341.3L767 299.3L767.1 422.4L767.2 435.1L767.2 469L767.3 452.4L767.4 310.5L767.5 206L767.6 472.1L767.7 341.3L767.8 542.5L767.9 407.6L768 499.1L768 456.8L768.1 280.7L768.2 372.2L768.3 387.7L768.4 312.7L768.5 442.4L768.6 344.8L768.7 356.5L768.7 316.7L768.8 377.4L768.9 430.9L769 381.7L769.1 494.3L769.2 317.7L769.3 315.4L769.4 384.3L769.4 406.2L769.5 344.7L769.6 333.7L769.7 364L769.8 504.6L769.9 296.9L770 370.8L770.1 453.4L770.2 418.4L770.2 454.9L770.3 343.6L770.4 445.8L770.5 357.3L770.6 392.2L770.7 379.1L770.8 327.5L770.9 363.1L770.9 355L771 457L771.1 438.4L771.2 520.1L771.3 307.5L771.4 462.7L771.5 435.2L771.6 463.9L771.7 436.4L771.7 296.8L771.8 591.8L771.9 412.1L772 466.3L772.1 412.2L772.2 384.2L772.3 369.1L772.4 409.8L772.4 374.8L772.5 442.3L772.6 237.7L772.7 347.7L772.8 352.4L772.9 470L773 461L773.1 389.7L773.1 348.2L773.2 300L773.3 405.5L773.4 517.4L773.5 351.2L773.6 481.3L773.7 370.4L773.8 353.7L773.9 325.1L773.9 327.1L774 419.1L774.1 340.2L774.2 393.9L774.3 260L774.4 170.9L774.5 400L774.6 273.4L774.6 462.6L774.7 332L774.8 506.9L774.9 334.8L775 484.3L775.1 264.5L775.2 331.2L775.3 349.2L775.3 296.2L775.4 473.3L775.5 358.1L775.6 383.4L775.7 381.1L775.8 457.8L775.9 376.6L776 322L776.1 421.9L776.1 490.8L776.2 538.5L776.3 614.7L776.4 483.1L776.5 381.7L776.6 244.7L776.7 379.6L776.8 306.5L776.8 368.9L776.9 358.1L777 341.2L777.1 403.1L777.2 349.9L777.3 341.3L777.4 459.6L777.5 358.3L777.6 355L777.6 351.5L777.7 391.5L777.8 413.4L777.9 445.3L778 434.9L778.1 368.3L778.2 341L778.3 456.2L778.3 464.1L778.4 336.3L778.5 282.4L778.6 421.8L778.7 360.5L778.8 285.5L778.9 483.1L779 336.2L779 343L779.1 311L779.2 367.3L779.3 312.7L779.4 455.1L779.5 470.9L779.6 361.5L779.7 440.7L779.8 350.9L779.8 311L779.9 395.8L780 332.3L780.1 390.3L780.2 413.1L780.3 413.6L780.4 209.8L780.5 251.5L780.5 438.5L780.6 460.8L780.7 405.7L780.8 509.2L780.9 343.1L781 273.8L781.1 481.2L781.2 393.9L781.3 482.4L781.3 379L781.4 389.9L781.5 294.2L781.6 381.2L781.7 314L781.8 449.8L781.9 331L782 405.2L782 501.3L782.1 409.3L782.2 403.6L782.3 439.1L782.4 384.2L782.5 454L782.6 367.8L782.7 491.5L782.7 299.2L782.8 393L782.9 423L783 423.1L783.1 387.7L783.2 433.6L783.3 399.1L783.4 428.1L783.5 334L783.5 399.6L783.6 324L783.7 456.3L783.8 358.2L783.9 338L784 427.9L784.1 440L784.2 455.9L784.2 440.4L784.3 517.6L784.4 273.5L784.5 373.2L784.6 402.5L784.7 353.4L784.8 258L784.9 468.7L784.9 378.4L785 351.9L785.1 406.3L785.2 412.8L785.3 493.2L785.4 434.6L785.5 463L785.6 375.6L785.7 372.9L785.7 260.2L785.8 487L785.9 322.2L786 358.3L786.1 331.1L786.2 420.9L786.3 422.3L786.4 339L786.4 463.2L786.5 442L786.6 334.6L786.7 417.8L786.8 302.3L786.9 411.3L787 375L787.1 484.8L787.2 357.6L787.2 386.4L787.3 484.5L787.4 322.5L787.5 394.5L787.6 342.1L787.7 497.3L787.8 360.1L787.9 364.7L787.9 426.5L788 446.4L788.1 363.3L788.2 340.2L788.3 364.3L788.4 399.8L788.5 364L788.6 390.6L788.6 504.6L788.7 345.2L788.8 403.3L788.9 404.6L789 319.5L789.1 434.5L789.2 389.1L789.3 618.1L789.4 438.6L789.4 429.8L789.5 502.5L789.6 524.2L789.7 346.1L789.8 283.7L789.9 423.1L790 331.3L790.1 406.3L790.1 474.9L790.2 383.4L790.3 342L790.4 237.5L790.5 410.4L790.6 206.6L790.7 347.6L790.8 581.9L790.8 288.9L790.9 375L791 429.8L791.1 394.8L791.2 332.7L791.3 432.9L791.4 476.3L791.5 367.3L791.6 396.5L791.6 452.6L791.7 467.9L791.8 315.2L791.9 434.5L792 448.4L792.1 540.9L792.2 439L792.3 370.7L792.3 375.8L792.4 492.4L792.5 244.4L792.6 527.1L792.7 390.7L792.8 416.3L792.9 432L793 390.2L793.1 337L793.1 296.1L793.2 447.4L793.3 503.2L793.4 375.1L793.5 365L793.6 423.5L793.7 305.1L793.8 408L793.8 314L793.9 505.8L794 399.4L794.1 317.4L794.2 434.4L794.3 267.6L794.4 385.6L794.5 230.5L794.5 390.8L794.6 455.1L794.7 439.5L794.8 380.3L794.9 430.1L795 514.1L795.1 431.8L795.2 370.6L795.3 419.6L795.3 441.2L795.4 247.7L795.5 400.4L795.6 328.4L795.7 432.7L795.8 445L795.9 319L796 382.3L796 446.3L796.1 543.8L796.2 422.5L796.3 290.2L796.4 315.5L796.5 351.6L796.6 401.2L796.7 395.3L796.8 396.7L796.8 512.6L796.9 453.8L797 398.4L797.1 314L797.2 327.1L797.3 382.8L797.4 422L797.5 414.5L797.5 553.8L797.6 321L797.7 406.4L797.8 380.1L797.9 371.4L798 401.4L798.1 309.7L798.2 308.7L798.2 264.4L798.3 356.4L798.4 448.9L798.5 383.2L798.6 353.2L798.7 356L798.8 326.8L798.9 272.2L799 389.7L799 420.2L799.1 293.7L799.2 449.4L799.3 413.1L799.4 182L799.5 274.3L799.6 373.4L799.7 467.6L799.7 332.5L799.8 372.7L799.9 430L800 451.2L800.1 403L800.2 416.7L800.3 425.1L800.4 365.3L800.4 437L800.5 424.8L800.6 360.3L800.7 481.3L800.8 412.5L800.9 321.9L801 411L801.1 312.7L801.2 444.9L801.2 445.5L801.3 487.2L801.4 459.9L801.5 351.7L801.6 206L801.7 470.5L801.8 388.4L801.9 419.9L801.9 415.6L802 383.1L802.1 331.5L802.2 389.6L802.3 356.5L802.4 361.2L802.5 342.3L802.6 450L802.7 485.4L802.7 450.2L802.8 368.6L802.9 275.3L803 374L803.1 473.7L803.2 370.3L803.3 412.2L803.4 565.9L803.4 452L803.5 509.9L803.6 339.2L803.7 433.2L803.8 253.8L803.9 399.7L804 349L804.1 432.6L804.1 358.7L804.2 397.1L804.3 394.1L804.4 383.9L804.5 453.5L804.6 360L804.7 308.9L804.8 395.7L804.9 399.7L804.9 379.6L805 411.5L805.1 500.7L805.2 395.9L805.3 425.5L805.4 392.3L805.5 369.9L805.6 334.3L805.6 414.2L805.7 534.1L805.8 274.8L805.9 440.5L806 362.5L806.1 413.3L806.2 306.5L806.3 516.2L806.3 407L806.4 377.3L806.5 306.8L806.6 485.7L806.7 445.7L806.8 463.2L806.9 445.6L807 307.8L807.1 371.7L807.1 408.9L807.2 388L807.3 463.1L807.4 251.3L807.5 371.1L807.6 458.3L807.7 340.2L807.8 394.5L807.8 265.4L807.9 384.3L808 306.2L808.1 267.5L808.2 338.4L808.3 419.9L808.4 314.3L808.5 426.7L808.6 491.6L808.6 429L808.7 333.4L808.8 346.1L808.9 385.4L809 519.5L809.1 407.8L809.2 440.8L809.3 480.1L809.3 428.6L809.4 540.6L809.5 446.9L809.6 269.9L809.7 422.2L809.8 443.4L809.9 281.9L810 363.2L810 439.6L810.1 316.3L810.2 348.8L810.3 319.9L810.4 449.4L810.5 405.6L810.6 402.3L810.7 414.3L810.8 471.5L810.8 400.9L810.9 450.2L811 361.2L811.1 335.7L811.2 503.3L811.3 305L811.4 444.8L811.5 475.2L811.5 361.1L811.6 442.5L811.7 429.9L811.8 365.9L811.9 383.5L812 350.4L812.1 328.9L812.2 343.2L812.2 439.8L812.3 497.9L812.4 369.9L812.5 327.8L812.6 357.9L812.7 375.3L812.8 387.9L812.9 282.9L813 359L813 452.7L813.1 352.7L813.2 397.7L813.3 316.3L813.4 276.3L813.5 348.2L813.6 557.2L813.7 457.9L813.7 409.6L813.8 313.6L813.9 455.3L814 446.3L814.1 363.7L814.2 322.2L814.3 548.8L814.4 264.8L814.5 382.2L814.5 320.2L814.6 459L814.7 334.5L814.8 366.3L814.9 442.3L815 378.5L815.1 410.7L815.2 457.5L815.2 358.8L815.3 413.5L815.4 318.9L815.5 413.2L815.6 415L815.7 357.5L815.8 319.2L815.9 320.3L815.9 330.1L816 385.2L816.1 377.5L816.2 439.2L816.3 400.3L816.4 290.6L816.5 503L816.6 332L816.7 495.4L816.7 336.2L816.8 381.5L816.9 322.4L817 593.1L817.1 387.6L817.2 412.5L817.3 345.8L817.4 471.2L817.4 362L817.5 311.2L817.6 483L817.7 298.8L817.8 302.9L817.9 402L818 439.8L818.1 309.9L818.2 360.7L818.2 396L818.3 224.6L818.4 332.2L818.5 363.9L818.6 417.7L818.7 423.7L818.8 280.4L818.9 452.3L818.9 564.2L819 389.5L819.1 471.4L819.2 389.8L819.3 362L819.4 435.4L819.5 309.9L819.6 376.6L819.6 400.6L819.7 289.2L819.8 316.7L819.9 318L820 374.1L820.1 389.7L820.2 444.3L820.3 342.9L820.4 382.6L820.4 443.6L820.5 467.2L820.6 320.6L820.7 420.7L820.8 519L820.9 373.5L821 308.5L821.1 448.6L821.1 480.4L821.2 348.4L821.3 262.3L821.4 467.9L821.5 391.9L821.6 308.9L821.7 327.1L821.8 264.4L821.8 423.3L821.9 455L822 373.9L822.1 418.5L822.2 433.5L822.3 326.3L822.4 370.4L822.5 392.8L822.6 356.1L822.6 347.4L822.7 387.1L822.8 318.7L822.9 455.7L823 412.3L823.1 383.3L823.2 367.4L823.3 296.6L823.3 381.8L823.4 295L823.5 351.4L823.6 397.1L823.7 357.1L823.8 371.2L823.9 360L824 520L824.1 437.4L824.1 439.4L824.2 410.4L824.3 439.5L824.4 422L824.5 311.6L824.6 344.5L824.7 436.9L824.8 389.1L824.8 424.6L824.9 346.5L825 338.2L825.1 367.2L825.2 418.9L825.3 355.1L825.4 484.6L825.5 289.6L825.5 539.3L825.6 448.8L825.7 455.6L825.8 436.9L825.9 421.9L826 472.8L826.1 265L826.2 290.8L826.3 424.1L826.3 305.5L826.4 452L826.5 365.4L826.6 397.4L826.7 393.1L826.8 429.7L826.9 422.8L827 194.8L827 534.2L827.1 297.8L827.2 414.9L827.3 441.7L827.4 287.6L827.5 480.7L827.6 355.1L827.7 380.5L827.8 412.1L827.8 441.6L827.9 410.1L828 444.8L828.1 407.1L828.2 334.4L828.3 383.2L828.4 317.4L828.5 374.4L828.5 299.4L828.6 236.7L828.7 390L828.8 425.9L828.9 466.2L829 448.6L829.1 304.3L829.2 312.5L829.2 405L829.3 260L829.4 291.9L829.5 453.2L829.6 429.3L829.7 512L829.8 305.4L829.9 318.9L830 449.9L830 444.1L830.1 321.4L830.2 427.6L830.3 317.7L830.4 400.2L830.5 487.9L830.6 538L830.7 298.3L830.7 465L830.8 386.3L830.9 289.4L831 377.2L831.1 399.3L831.2 512.1L831.3 433L831.4 332L831.4 341.8L831.5 387.2L831.6 456.2L831.7 316L831.8 460.9L831.9 358.3L832 302.2L832.1 319.5L832.2 404.4L832.2 324.5L832.3 439.7L832.4 377.6L832.5 393.3L832.6 443.2L832.7 406.1L832.8 442.1L832.9 417.9L832.9 523.5L833 378.7L833.1 456.5L833.2 341.6L833.3 405.4L833.4 410.3L833.5 438.9L833.6 411.2L833.7 426.7L833.7 414.7L833.8 297.6L833.9 231.8L834 400.1L834.1 272.2L834.2 318.8L834.3 334.9L834.4 391.9L834.4 417.8L834.5 324.6L834.6 415.9L834.7 315.4L834.8 351.5L834.9 318.4L835 533.6L835.1 426.2L835.1 344.2L835.2 377L835.3 312.6L835.4 404.2L835.5 429L835.6 526.3L835.7 363.4L835.8 369.4L835.9 429.7L835.9 385.4L836 470.3L836.1 362L836.2 390.5L836.3 354.7L836.4 395.5L836.5 371.4L836.6 429.6L836.6 287L836.7 358.2L836.8 434.4L836.9 341.5L837 375.3L837.1 539.8L837.2 374.9L837.3 263.8L837.3 248.9L837.4 214.8L837.5 330.6L837.6 451.9L837.7 427.8L837.8 539L837.9 426L838 294.4L838.1 277.8L838.1 479.2L838.2 363.6L838.3 395.6L838.4 434.7L838.5 486.1L838.6 358.3L838.7 329.3L838.8 321.8L838.8 371.5L838.9 506.8L839 266.2L839.1 436.1L839.2 415.2L839.3 328.1L839.4 465.4L839.5 402.6L839.6 410L839.6 323.2L839.7 515.4L839.8 368.7L839.9 396.9L840 328L840.1 541L840.2 499.1L840.3 445.5L840.3 320.8L840.4 326.6L840.5 402.9L840.6 369.4L840.7 404.9L840.8 344.3L840.9 491.8L841 352.7L841 275.8L841.1 376.6L841.2 411.6L841.3 374.8L841.4 315.4L841.5 346.5L841.6 335.7L841.7 378.5L841.8 448.8L841.8 480L841.9 330.3L842 325.8L842.1 348.1L842.2 449.6L842.3 488.2L842.4 373.6L842.5 445.4L842.5 324.8L842.6 464.3L842.7 394.3L842.8 386.1L842.9 394.6L843 410.6L843.1 330.2L843.2 444L843.2 341.9L843.3 353.7L843.4 346L843.5 425.7L843.6 430.2L843.7 361.8L843.8 322.1L843.9 468.5L844 390.7L844 446.6L844.1 343.7L844.2 443.1L844.3 384.7L844.4 473.3L844.5 457.5L844.6 289.8L844.7 521.5L844.7 461.4L844.8 375.5L844.9 422.3L845 368.4L845.1 412.7L845.2 420.9L845.3 253.8L845.4 472.3L845.5 329.8L845.5 315.4L845.6 312.7L845.7 355.6L845.8 533.2L845.9 482.7L846 431.2L846.1 385.8L846.2 402.1L846.2 447.5L846.3 360.9L846.4 401.9L846.5 326.4L846.6 294.3L846.7 431.9L846.8 327.9L846.9 238.1L846.9 356L847 490L847.1 284.7L847.2 496.8L847.3 383.4L847.4 423.8L847.5 243.2L847.6 349.4L847.7 320.7L847.7 404.8L847.8 520.9L847.9 360.4L848 579.1L848.1 438.4L848.2 267.2L848.3 423.3L848.4 410.4L848.4 431.8L848.5 460.4L848.6 357.9L848.7 500.2L848.8 362.5L848.9 383.8L849 417.1L849.1 389.6L849.2 476.1L849.2 381.2L849.3 414.3L849.4 528.6L849.5 506.4L849.6 466.6L849.7 448.1L849.8 473.7L849.9 330.4L849.9 406L850 426L850.1 373.5L850.2 454.7L850.3 363.9L850.4 403.3L850.5 369.5L850.6 446.9L850.6 395.4L850.7 336.7L850.8 361.4L850.9 319.3L851 306.1L851.1 375.4L851.2 395.9L851.3 395.5L851.4 451.4L851.4 412L851.5 435.2L851.6 390.6L851.7 355.9L851.8 234.3L851.9 388L852 503.7L852.1 491.6L852.1 406.7L852.2 339.3L852.3 264L852.4 435.7L852.5 465.7L852.6 170.8L852.7 449.5L852.8 464.8L852.8 403.7L852.9 303L853 383L853.1 459.3L853.2 358.2L853.3 414.3L853.4 474L853.5 238L853.6 511.1L853.6 295.1L853.7 376L853.8 351.1L853.9 358.2L854 478.6L854.1 408.5L854.2 449.2L854.3 440L854.3 374.3L854.4 430.2L854.5 448.1L854.6 331.6L854.7 379.2L854.8 440.2L854.9 447.7L855 307.6L855.1 397.5L855.1 298L855.2 296L855.3 366.8L855.4 316.2L855.5 417.3L855.6 325.8L855.7 326.4L855.8 382.5L855.8 332.6L855.9 374.8L856 392L856.1 435.8L856.2 428.4L856.3 450.8L856.4 360.7L856.5 361.7L856.5 314.5L856.6 383.7L856.7 290.5L856.8 360.6L856.9 447.8L857 408.6L857.1 392.8L857.2 449.6L857.3 309.7L857.3 486.5L857.4 362L857.5 396.3L857.6 489.1L857.7 504.6L857.8 365.2L857.9 296.8L858 322L858 328.7L858.1 335.9L858.2 371.3L858.3 354.7L858.4 255.3L858.5 360.3L858.6 477L858.7 374.8L858.8 418.5L858.8 279.6L858.9 392.6L859 485L859.1 439.1L859.2 525.6L859.3 328L859.4 353.8L859.5 431.7L859.5 430.7L859.6 401L859.7 372L859.8 412.2L859.9 590.7L860 486.7L860.1 531.8L860.2 374.5L860.2 422.8L860.3 460.4L860.4 294.1L860.5 402.1L860.6 366.1L860.7 395.2L860.8 421.2L860.9 423.8L861 361.8L861 491.7L861.1 331.9L861.2 460.8L861.3 335.4L861.4 341.6L861.5 342L861.6 348.7L861.7 269.7L861.7 479.5L861.8 400L861.9 334L862 382.9L862.1 380.1L862.2 427.7L862.3 303.1L862.4 394.4L862.4 373.5L862.5 407.6L862.6 333.6L862.7 396.6L862.8 365.3L862.9 414L863 474.4L863.1 521.1L863.2 272L863.2 307.5L863.3 462.6L863.4 421.4L863.5 291.4L863.6 451.4L863.7 383.4L863.8 501L863.9 438.9L863.9 386.3L864 371.2L864.1 431.4L864.2 459.4L864.3 437.4L864.4 301.2L864.5 469.1L864.6 261.2L864.7 466.5L864.7 389.1L864.8 367.9L864.9 450.7L865 332.9L865.1 426.9L865.2 445.8L865.3 492.3L865.4 370.7L865.4 362.9L865.5 450.9L865.6 341.9L865.7 295.8L865.8 433.2L865.9 328.9L866 345.1L866.1 320.2L866.1 328.8L866.2 304.9L866.3 319.4L866.4 440.9L866.5 290.3L866.6 410.4L866.7 460.4L866.8 305.9L866.9 550.8L866.9 378.3L867 306.1L867.1 363.1L867.2 516.9L867.3 506.2L867.4 507.3L867.5 433.7L867.6 455.5L867.6 364.1L867.7 292.8L867.8 325.1L867.9 366.6L868 293.1L868.1 376.9L868.2 476.6L868.3 410.3L868.3 386.5L868.4 193.8L868.5 363.2L868.6 241.5L868.7 292L868.8 511.8L868.9 394.6L869 390.1L869.1 409.5L869.1 448.3L869.2 446.6L869.3 427.2L869.4 293L869.5 306.5L869.6 548.3L869.7 385.9L869.8 366.5L869.8 454.8L869.9 508.8L870 308.1L870.1 401.4L870.2 358.4L870.3 485.4L870.4 420.8L870.5 493.5L870.6 374.5L870.6 432.5L870.7 337.7L870.8 451.5L870.9 372.2L871 399.9L871.1 374.4L871.2 414.6L871.3 329.2L871.3 363.5L871.4 361L871.5 511.9L871.6 369.6L871.7 288L871.8 516.1L871.9 343L872 513.5L872 367.8L872.1 412.9L872.2 386.3L872.3 531.2L872.4 485.6L872.5 305.2L872.6 489.8L872.7 401.3L872.8 387.4L872.8 317.4L872.9 374.9L873 419.4L873.1 342.3L873.2 341.3L873.3 275.3L873.4 420.2L873.5 331.2L873.5 480.7L873.6 322.2L873.7 318.7L873.8 326.7L873.9 442.3L874 331.4L874.1 321.3L874.2 361.3L874.3 324.2L874.3 356.5L874.4 347.8L874.5 360.5L874.6 351.1L874.7 438.2L874.8 408.6L874.9 443.2L875 434.9L875 371.8L875.1 385.4L875.2 335.3L875.3 268.6L875.4 315.4L875.5 334.1L875.6 239.9L875.7 365.7L875.7 432.2L875.8 278.3L875.9 339.1L876 372.3L876.1 319L876.2 442.3L876.3 375L876.4 527.4L876.5 346.5L876.5 504.9L876.6 428.8L876.7 389.4L876.8 327.1L876.9 417.5L877 357.7L877.1 422.3L877.2 360.3L877.2 365.3L877.3 417.2L877.4 287.7L877.5 474.6L877.6 372.7L877.7 406.1L877.8 211.6L877.9 363.6L877.9 362.5L878 361L878.1 385L878.2 404.3L878.3 391.7L878.4 259.9L878.5 365.7L878.6 339.7L878.7 442.4L878.7 335.1L878.8 543L878.9 370.1L879 493.8L879.1 391.7L879.2 309.6L879.3 258.2L879.4 429.6L879.4 404.6L879.5 394L879.6 493.3L879.7 470.3L879.8 451.1L879.9 383.6L880 375L880.1 364.7L880.2 357.4L880.2 395L880.3 276.7L880.4 345L880.5 387.3L880.6 352L880.7 422.1L880.8 513L880.9 508.4L880.9 494.5L881 426.5L881.1 352.6L881.2 368.8L881.3 428.6L881.4 324.6L881.5 382.8L881.6 293.9L881.6 336.6L881.7 386.2L881.8 370.2L881.9 459.5L882 548.7L882.1 374L882.2 399.7L882.3 490.3L882.4 476.9L882.4 414.7L882.5 374.3L882.6 242.1L882.7 410.9L882.8 260.9L882.9 482.5L883 447.7L883.1 301.7L883.1 323.6L883.2 384.5L883.3 470L883.4 369L883.5 417.9L883.6 405L883.7 421.7L883.8 298.6L883.8 279.6L883.9 307.9L884 264.7L884.1 351.9L884.2 475.5L884.3 491.2L884.4 417L884.5 404.1L884.6 364.3L884.6 387.4L884.7 401.3L884.8 260.7L884.9 495.4L885 423L885.1 413.5L885.2 378L885.3 445.5L885.3 362.4L885.4 434.5L885.5 347.3L885.6 421.9L885.7 432.9L885.8 414.4L885.9 411.8L886 384.6L886.1 328.4L886.1 352.6L886.2 428.4L886.3 315.7L886.4 422.4L886.5 479.1L886.6 409.3L886.7 390.6L886.8 310.2L886.8 498.3L886.9 400.8L887 354L887.1 447.2L887.2 319.3L887.3 427.5L887.4 414.3L887.5 498.1L887.5 336.6L887.6 453.3L887.7 464.2L887.8 278.7L887.9 472L888 434.9L888.1 324.1L888.2 338.7L888.3 462.7L888.3 484.4L888.4 384.6L888.5 381.6L888.6 442.1L888.7 381.5L888.8 378.3L888.9 477.4L889 475.1L889 379.5L889.1 461.2L889.2 406.5L889.3 353.7L889.4 432.5L889.5 423.6L889.6 381L889.7 376.8L889.8 596.3L889.8 374.3L889.9 362.3L890 325.6L890.1 391.7L890.2 503.5L890.3 403.3L890.4 364.7L890.5 343.9L890.5 383.4L890.6 370.7L890.7 384.5L890.8 404.5L890.9 390.4L891 343.1L891.1 386L891.2 338.5L891.2 428.3L891.3 227.7L891.4 251.1L891.5 353.5L891.6 375.3L891.7 516.8L891.8 398.2L891.9 374.5L892 316.2L892 452.7L892.1 298.6L892.2 288.5L892.3 423.7L892.4 440L892.5 399.8L892.6 384.3L892.7 390.4L892.7 248.1L892.8 341.4L892.9 434.7L893 344.1L893.1 573.5L893.2 488.4L893.3 497.1L893.4 440.7L893.4 369.8L893.5 320L893.6 374.4L893.7 341.5L893.8 524.3L893.9 390.9L894 322L894.1 368.5L894.2 437.2L894.2 238.5L894.3 334L894.4 364.7L894.5 338.4L894.6 414.2L894.7 422.4L894.8 308L894.9 395.4L894.9 522.8L895 218.8L895.1 398.3L895.2 348.1L895.3 298.2L895.4 471.3L895.5 384.6L895.6 405.9L895.7 443.2L895.7 344.1L895.8 321.9L895.9 390.4L896 442.6L896.1 309.4L896.2 429.5L896.3 471.9L896.4 408.2L896.4 321.3L896.5 336.6L896.6 337.7L896.7 560.3L896.8 300.2L896.9 379.7L897 471.1L897.1 336L897.1 426.5L897.2 304.2L897.3 362.1L897.4 486.3L897.5 397.2L897.6 363.4L897.7 257.9L897.8 276.8L897.9 372.5L897.9 497.2L898 489.3L898.1 395.9L898.2 439.7L898.3 420.2L898.4 392.1L898.5 329.3L898.6 402L898.6 448.4L898.7 511.4L898.8 386.2L898.9 345.5L899 481.8L899.1 490L899.2 366.8L899.3 344L899.3 446.2L899.4 430.2L899.5 331.6L899.6 357.4L899.7 518.8L899.8 394.6L899.9 411.7L900 344L900.1 385.3L900.1 393.4L900.2 432.4L900.3 371.7L900.4 396.1L900.5 367.8L900.6 494.1L900.7 375.1L900.8 454L900.8 381.4L900.9 530.7L901 263.3L901.1 372.7L901.2 364.8L901.3 317.3L901.4 424.7L901.5 346.5L901.6 385.2L901.6 352.9L901.7 425.3L901.8 468.7L901.9 353.7L902 444.5L902.1 475.2L902.2 422.6L902.3 396.9L902.3 447.1L902.4 387.2L902.5 459.8L902.6 317.8L902.7 377.6L902.8 259.7L902.9 419.4L903 432.2L903 385.9L903.1 382.1L903.2 367.3L903.3 306.5L903.4 173.6L903.5 352.9L903.6 418.3L903.7 321.6L903.8 341.3L903.8 316.3L903.9 272.5L904 500.5L904.1 354.7L904.2 319.1L904.3 419.2L904.4 448.1L904.5 496.5L904.5 364.7L904.6 452.3L904.7 336.8L904.8 367.6L904.9 376.5L905 345.1L905.1 444.7L905.2 488.5L905.3 370.5L905.3 384L905.4 411.4L905.5 346.8L905.6 303.7L905.7 369.7L905.8 435.2L905.9 382.4L906 327.1L906 373.1L906.1 382.2L906.2 498L906.3 422.4L906.4 398.9L906.5 418.9L906.6 388.8L906.7 450.6L906.7 283.1L906.8 398.4L906.9 547.9L907 291.7L907.1 403.1L907.2 366.4L907.3 458.6L907.4 502.7L907.5 479.8L907.5 450.5L907.6 443.2L907.7 510.5L907.8 372.1L907.9 417L908 258L908.1 437.3L908.2 371.4L908.2 445.2L908.3 396.9L908.4 450.5L908.5 395.4L908.6 452.2L908.7 504.2L908.8 482.3L908.9 320.3L908.9 362.9L909 385.4L909.1 465.8L909.2 361.9L909.3 405.3L909.4 268.9L909.5 420.4L909.6 343.7L909.7 354.6L909.7 374.8L909.8 429.9L909.9 507L910 391.5L910.1 422.3L910.2 321.5L910.3 473.2L910.4 392.9L910.4 360.1L910.5 358.7L910.6 341L910.7 415.1L910.8 285.5L910.9 429.8L911 294.1L911.1 327.5L911.2 364.2L911.2 468.7L911.3 344.6L911.4 318.1L911.5 413.8L911.6 359.8L911.7 406.8L911.8 418.7L911.9 244L911.9 565.9L912 392.1L912.1 371.8L912.2 266.9L912.3 410.7L912.4 450.5L912.5 277.2L912.6 405.1L912.6 368.5L912.7 330.8L912.8 354.4L912.9 436.5L913 362.4L913.1 530.8L913.2 385L913.3 378.2L913.4 392.8L913.4 203.8L913.5 436.7L913.6 447.9L913.7 408.9L913.8 416.6L913.9 509.1L914 438.3L914.1 414.3L914.1 416.4L914.2 452.4L914.3 581.9L914.4 434L914.5 340.8L914.6 326L914.7 452L914.8 456.6L914.8 364.6L914.9 372.9L915 348.7L915.1 395.8L915.2 346.9L915.3 449.9L915.4 394.9L915.5 437.2L915.6 406.7L915.6 402.8L915.7 452.8L915.8 419.1L915.9 353.6L916 465.9L916.1 409L916.2 222.3L916.3 423.1L916.3 297.8L916.4 385.1L916.5 385.9L916.6 438.9L916.7 419L916.8 554.5L916.9 292.4L917 320.2L917.1 292.5L917.1 383L917.2 463.4L917.3 306.4L917.4 340L917.5 367.7L917.6 292.7L917.7 351.1L917.8 431.1L917.8 416.7L917.9 389.3L918 347L918.1 334.6L918.2 352.1L918.3 539.9L918.4 460.6L918.5 227.3L918.5 464L918.6 502.9L918.7 390.1L918.8 281.3L918.9 478.7L919 514.6L919.1 335.6L919.2 499.4L919.3 406.3L919.3 497.2L919.4 401L919.5 331.4L919.6 364.6L919.7 330.4L919.8 468.8L919.9 497.5L920 414.2L920 358.7L920.1 431.6L920.2 377.2L920.3 215L920.4 324.6L920.5 376.4L920.6 482.4L920.7 358.3L920.8 342.7L920.8 366L920.9 459.8L921 431.9L921.1 287.8L921.2 310.3L921.3 412.4L921.4 251.3L921.5 483.6L921.5 468.7L921.6 404.2L921.7 288L921.8 158.2L921.9 491.4L922 312.7L922.1 507.9L922.2 318.2L922.2 419.3L922.3 390.9L922.4 392.2L922.5 357.1L922.6 461.3L922.7 309.5L922.8 433.4L922.9 277.9L923 333.5L923 490.5L923.1 357.8L923.2 323.8L923.3 348.4L923.4 465.4L923.5 313.3L923.6 562.4L923.7 327.2L923.7 372.4L923.8 289.5L923.9 431L924 404.4L924.1 389.4L924.2 315.6L924.3 489.7L924.4 373L924.4 421.3L924.5 372.3L924.6 485.4L924.7 287.9L924.8 313.9L924.9 520.9L925 390.8L925.1 364.8L925.2 400.1L925.2 288.5L925.3 357.6L925.4 300.5L925.5 377.9L925.6 461.2L925.7 407.8L925.8 511.1L925.9 307.9L925.9 484.6L926 307L926.1 261.5L926.2 440.4L926.3 321.1L926.4 360.1L926.5 486.2L926.6 296.8L926.7 398.7L926.7 367.1L926.8 370L926.9 433.5L927 385.5L927.1 278.2L927.2 441.1L927.3 339.4L927.4 365.8L927.4 308.4L927.5 491.9L927.6 442.8L927.7 414.7L927.8 394.4L927.9 360.9L928 487.8L928.1 319.7L928.1 417.4L928.2 469.3L928.3 359.3L928.4 363L928.5 357.8L928.6 482.5L928.7 513.1L928.8 403.6L928.9 509.1L928.9 382.1L929 505.1L929.1 346.9L929.2 478L929.3 419.8L929.4 349.2L929.5 286L929.6 464L929.6 376.1L929.7 428.8L929.8 362.5L929.9 375.8L930 445.8L930.1 335.3L930.2 461.5L930.3 345.8L930.3 409L930.4 248.2L930.5 498.1L930.6 319.2L930.7 347.7L930.8 392.2L930.9 382.7L931 387.4L931.1 445.8L931.1 423.1L931.2 490.1L931.3 551L931.4 362.6L931.5 367L931.6 394.9L931.7 412.9L931.8 395.4L931.8 490.5L931.9 313.8L932 365.7L932.1 331.6L932.2 516.7L932.3 365.1L932.4 389.3L932.5 357.5L932.6 502L932.6 424.2L932.7 331.6L932.8 321.5L932.9 495.3L933 386.9L933.1 384.3L933.2 320.2L933.3 364.5L933.3 371L933.4 475.5L933.5 410.2L933.6 431.2L933.7 330.7L933.8 574.8L933.9 368.5L934 301L934 292.4L934.1 357.8L934.2 358.6L934.3 452.4L934.4 410.1L934.5 258.2L934.6 340.5L934.7 303.2L934.8 363.7L934.8 451L934.9 411.1L935 417.3L935.1 443.2L935.2 295.8L935.3 264.2L935.4 515.2L935.5 381.3L935.5 252.6L935.6 341.1L935.7 342.5L935.8 402.7L935.9 354.2L936 377.1L936.1 409.8L936.2 430.7L936.3 284.5L936.3 392.3L936.4 345.2L936.5 345.5L936.6 368.3L936.7 400.8L936.8 372.9L936.9 400.2L937 411.2L937 373.8L937.1 305.7L937.2 308.5L937.3 245.9L937.4 421.8L937.5 372.2L937.6 542.7L937.7 335.8L937.7 535.6L937.8 395.8L937.9 397.3L938 464.7L938.1 287.5L938.2 408.4L938.3 439.4L938.4 386.5L938.5 221.2L938.5 223.4L938.6 377.6L938.7 463.4L938.8 441.3L938.9 220.3L939 409.6L939.1 334.4L939.2 501.1L939.2 414.6L939.3 458.8L939.4 451.9L939.5 413.1L939.6 380.8L939.7 351.8L939.8 408.6L939.9 318L939.9 464.7L940 503.4L940.1 326.1L940.2 474.9L940.3 335.6L940.4 365.2L940.5 258.4L940.6 303.6L940.7 394.9L940.7 278.9L940.8 379.4L940.9 336.3L941 443.7L941.1 332.8L941.2 401.5L941.3 353.4L941.4 313.2L941.4 375L941.5 424.5L941.6 325L941.7 225.8L941.8 404.1L941.9 304.2L942 418.9L942.1 454.6L942.2 376.4L942.2 398.9L942.3 440.2L942.4 368.5L942.5 349.2L942.6 475.4L942.7 408.7L942.8 285.2L942.9 392.9L942.9 434.7L943 438.7L943.1 393.3L943.2 536.1L943.3 346L943.4 383.7L943.5 431.6L943.6 345.5L943.6 342.4L943.7 313L943.8 368.5L943.9 446.6L944 404.4L944.1 393.8L944.2 427.2L944.3 345.1L944.4 479.1L944.4 325.5L944.5 356.6L944.6 446.7L944.7 408.5L944.8 393.7L944.9 480.1L945 464.9L945.1 391.5L945.1 363.8L945.2 401L945.3 471.8L945.4 271.8L945.5 454.5L945.6 399L945.7 359L945.8 379.5L945.8 489L945.9 437.8L946 366.4L946.1 390.6L946.2 601.2L946.3 352.1L946.4 391.4L946.5 252.2L946.6 354.7L946.6 418.9L946.7 368.3L946.8 419.3L946.9 317.4L947 386.5L947.1 388.5L947.2 473.5L947.3 497.6L947.3 378L947.4 308.2L947.5 383.6L947.6 377.8L947.7 277.1L947.8 394.9L947.9 426.6L948 458.9L948.1 473.7L948.1 441L948.2 353.7L948.3 339.6L948.4 361.5L948.5 405.2L948.6 342.3L948.7 316.7L948.8 503.2L948.8 394.9L948.9 374.9L949 413.1L949.1 438.1L949.2 257.9L949.3 476.5L949.4 393.6L949.5 457.4L949.5 356.2L949.6 377.4L949.7 517.5L949.8 406.5L949.9 301.6L950 425.1L950.1 413.1L950.2 331.7L950.3 400.6L950.3 207.9L950.4 420.2L950.5 412.8L950.6 509.8L950.7 396.5L950.8 487.9L950.9 266.2L951 506.5L951 511.8L951.1 504.9L951.2 400.9L951.3 351.3L951.4 474.5L951.5 416.7L951.6 434.7L951.7 330.8L951.8 387.3L951.8 336.4L951.9 401.3L952 468.4L952.1 434.5L952.2 449.2L952.3 355.4L952.4 422.6L952.5 452.3L952.5 419.3L952.6 365.9L952.7 287.7L952.8 431.2L952.9 391.5L953 357L953.1 388.7L953.2 427.9L953.2 332.1L953.3 435.4L953.4 487.5L953.5 287.2L953.6 450.7L953.7 437.8L953.8 419.1L953.9 438.5L954 471.5L954 447.7L954.1 335.5L954.2 403.5L954.3 449L954.4 378.4L954.5 416.3L954.6 367.7L954.7 504.6L954.7 388.1L954.8 403.7L954.9 419L955 306.9L955.1 381.4L955.2 401L955.3 461.2L955.4 381.1L955.4 386.8L955.5 516.7L955.6 367.1L955.7 280.8L955.8 322.1L955.9 160.4L956 416.2L956.1 420.8L956.2 334.3L956.2 518.8L956.3 391.2L956.4 381.9L956.5 329.7L956.6 412.5L956.7 351.8L956.8 527.1L956.9 464.1L956.9 416.1L957 418.6L957.1 389L957.2 288.7L957.3 462.3L957.4 526L957.5 429.2L957.6 311.1L957.7 483.6L957.7 445.1L957.8 432.3L957.9 385.5L958 497.1L958.1 275.3L958.2 456.3L958.3 421.8L958.4 311.1L958.4 404.9L958.5 367.3L958.6 506.3L958.7 388.6L958.8 436.2L958.9 538.2L959 484.1L959.1 423.7L959.1 327.7L959.2 325.9L959.3 417.2L959.4 421.4L959.5 326L959.6 390.9L959.7 369.7L959.8 388L959.9 398.9L959.9 463.3L960 415.8L960.1 385.1L960.2 404.6L960.3 379.2L960.4 458.5L960.5 500.9L960.6 449.8L960.6 438.1L960.7 489.9L960.8 445.1L960.9 416.1L961 430.8L961.1 367.9L961.2 437.5L961.3 410.7L961.3 320.7L961.4 433.2L961.5 390.5L961.6 430.3L961.7 360.9L961.8 501.5L961.9 497.7L962 421.7L962.1 460.5L962.1 412L962.2 338.6L962.3 308.4L962.4 343.8L962.5 350.8L962.6 342.5L962.7 284.1L962.8 395.5L962.8 535.5L962.9 491.4L963 482.5L963.1 527.5L963.2 502.7L963.3 483L963.4 526.2L963.5 375L963.6 316L963.6 511.9L963.7 260.3L963.8 413L963.9 384.4L964 473.9L964.1 322.1L964.2 482.3L964.3 333.2L964.3 379.9L964.4 373.5L964.5 267.5L964.6 459.2L964.7 344.9L964.8 477.1L964.9 549.9L965 439.6L965 439.3L965.1 262L965.2 328.2L965.3 448.5L965.4 361.5L965.5 357.6L965.6 330.8L965.7 346.3L965.8 313.8L965.8 369.2L965.9 466.5L966 367.1L966.1 388.4L966.2 398.5L966.3 471.2L966.4 509.6L966.5 324.5L966.5 344L966.6 447.3L966.7 395.9L966.8 395.9L966.9 363.9L967 427.7L967.1 420.6L967.2 292.4L967.3 429.1L967.3 407.9L967.4 431.8L967.5 274.1L967.6 349.9L967.7 346.8L967.8 360.2L967.9 350.5L968 289L968 463L968.1 524.1L968.2 389.1L968.3 450.6L968.4 439.7L968.5 344.7L968.6 413.3L968.7 458.2L968.7 280.1L968.8 375.9L968.9 558.3L969 389.5L969.1 374.4L969.2 390.6L969.3 436L969.4 400.6L969.5 393.1L969.5 364.9L969.6 440.8L969.7 305L969.8 382.9L969.9 338.6L970 465.6L970.1 401.4L970.2 409.2L970.2 297L970.3 368.1L970.4 536.6L970.5 347.4L970.6 414.5L970.7 325.4L970.8 383L970.9 302.7L970.9 358.2L971 383.9L971.1 301.5L971.2 497.6L971.3 378.8L971.4 389.2L971.5 439.7L971.6 294.4L971.7 431L971.7 410L971.8 436.6L971.9 172.3L972 431.1L972.1 507.7L972.2 312.4L972.3 346.6L972.4 449.2L972.4 467.6L972.5 448L972.6 345.2L972.7 437.8L972.8 393.1L972.9 432.6L973 531.8L973.1 404.2L973.2 337.8L973.2 347.2L973.3 440.9L973.4 440.9L973.5 338L973.6 508.5L973.7 427.6L973.8 390.8L973.9 400L973.9 271.4L974 282.5L974.1 410.4L974.2 375.4L974.3 371.9L974.4 471.1L974.5 475.6L974.6 383.2L974.6 401.9L974.7 324.8L974.8 340.7L974.9 356.9L975 388.5L975.1 386.4L975.2 439.8L975.3 509.8L975.4 369.5L975.4 369.5L975.5 385.3L975.6 404.4L975.7 282.8L975.8 423.5L975.9 446.3L976 341.7L976.1 368.4L976.1 355.9L976.2 374.1L976.3 325.1L976.4 365.2L976.5 338.5L976.6 354.7L976.7 464L976.8 311.7L976.8 258.8L976.9 309.6L977 361.4L977.1 409L977.2 393L977.3 488L977.4 350.3L977.5 365.2L977.6 422L977.6 408.4L977.7 216.9L977.8 390.1L977.9 347.2L978 345.4L978.1 418.3L978.2 529.9L978.3 356.9L978.3 495.7L978.4 328.4L978.5 243.6L978.6 454.4L978.7 428.2L978.8 501.7L978.9 394.6L979 263.4L979.1 478.4L979.1 388L979.2 341.1L979.3 410.4L979.4 333.8L979.5 448.8L979.6 402.8L979.7 385.4L979.8 363L979.8 241.1L979.9 470.2L980 316.4L980.1 306.3L980.2 401.7L980.3 327.3L980.4 340.5L980.5 396.9L980.5 411.9L980.6 488.7L980.7 419.1L980.8 442.9L980.9 497.4L981 506.7L981.1 375.7L981.2 481.7L981.3 508.2L981.3 448L981.4 418.4L981.5 297.6L981.6 341.1L981.7 444.2L981.8 444.2L981.9 401.7L982 479.7L982 283.2L982.1 266.4L982.2 433.7L982.3 306.5L982.4 510.9L982.5 352.7L982.6 411.9L982.7 393.6L982.8 342.9L982.8 331.8L982.9 457.1L983 321.5L983.1 456.9L983.2 449.5L983.3 412.4L983.4 433.3L983.5 461.3L983.5 441.5L983.6 365L983.7 267.7L983.8 422.4L983.9 395.8L984 319.4L984.1 459.5L984.2 484.6L984.2 387.9L984.3 552.6L984.4 410.1L984.5 484.5L984.6 352.5L984.7 436.3L984.8 482L984.9 412.1L985 290.7L985 423.9L985.1 436.9L985.2 492.6L985.3 357.1L985.4 435.4L985.5 360.2L985.6 381.4L985.7 295.3L985.7 380.5L985.8 517.5L985.9 370.2L986 518.4L986.1 388L986.2 356.4L986.3 302.3L986.4 454.6L986.4 422.6L986.5 382.4L986.6 382.1L986.7 399.1L986.8 437.5L986.9 374.1L987 359.1L987.1 460.5L987.2 464.4L987.2 447.3L987.3 392.5L987.4 443.9L987.5 409.4L987.6 426.3L987.7 367.9L987.8 485.5L987.9 469.3L987.9 423L988 381.1L988.1 488.8L988.2 379.1L988.3 389.1L988.4 467.7L988.5 472.1L988.6 338.5L988.7 449.2L988.7 274.7L988.8 323.5L988.9 431.4L989 382.7L989.1 462.6L989.2 321.5L989.3 260.3L989.4 316.8L989.4 350.1L989.5 310.9L989.6 393.6L989.7 492.6L989.8 357.8L989.9 357.3L990 361.3L990.1 400.3L990.1 327.6L990.2 585.7L990.3 428.1L990.4 330L990.5 320.6L990.6 402.9L990.7 349.7L990.8 357.1L990.9 391.3L990.9 298.8L991 231.4L991.1 383L991.2 405.7L991.3 346.6L991.4 339.1L991.5 364.6L991.6 400.2L991.6 483.5L991.7 400.8L991.8 385.1L991.9 368.8L992 482L992.1 378.2L992.2 385.4L992.3 453.9L992.3 395.5L992.4 549.1L992.5 444.5L992.6 513.9L992.7 431.5L992.8 541.4L992.9 471.4L993 430.6L993.1 448.3L993.1 266.6L993.2 524.9L993.3 397.2L993.4 412.9L993.5 430.9L993.6 373.9L993.7 272.1L993.8 424.6L993.8 425.3L993.9 450.1L994 414.8L994.1 424.2L994.2 683.2L994.3 408.5L994.4 360.4L994.5 292.1L994.6 303.2L994.6 351.6L994.7 335.7L994.8 376.3L994.9 315.9L995 490.6L995.1 392L995.2 522.7L995.3 311.5L995.3 358.7L995.4 440.5L995.5 365.6L995.6 242.2L995.7 424.9L995.8 373.3L995.9 407.7L996 456.9L996 313.9L996.1 393.4L996.2 305L996.3 358.8L996.4 326.4L996.5 428.6L996.6 572.5L996.7 317.5L996.8 474L996.8 299.7L996.9 422.2L997 480.1L997.1 306.3L997.2 459.9L997.3 433.3L997.4 275.9L997.5 399L997.5 413.7L997.6 505.8L997.7 316.9L997.8 420.4L997.9 368.7L998 418.9L998.1 477.3L998.2 338.3L998.2 354.2L998.3 357.4L998.4 355.3L998.5 355.2L998.6 275.1L998.7 420.1L998.8 319.8L998.9 332.2L999 321.2L999 519.3L999.1 364.3L999.2 456.3L999.3 460.6L999.4 291.6L999.5 396.4L999.6 255.3L999.7 338.8L999.7 378.2L999.8 350.5L999.9 505.6L1000 214L1000.1 362.4L1000.2 464.4L1000.3 484L1000.4 293.6L1000.5 412.8L1000.5 417.4L1000.6 440.8L1000.7 347.4L1000.8 354.9L1000.9 421.3L1001 498.9L1001.1 448L1001.2 457.8L1001.2 508.7L1001.3 279L1001.4 332.2L1001.5 418.9L1001.6 406L1001.7 500.1L1001.8 391.2L1001.9 322.9L1001.9 436.3L1002 341.9L1002.1 454.1L1002.2 405.2L1002.3 276.6L1002.4 339.5L1002.5 449L1002.6 380.5L1002.7 458.4L1002.7 441.3L1002.8 321.5L1002.9 338.2L1003 535L1003.1 386.7L1003.2 333.8L1003.3 401L1003.4 514.1L1003.4 346L1003.5 466.4L1003.6 407.1L1003.7 356.9L1003.8 456.9L1003.9 244.1L1004 418.8L1004.1 489.5L1004.2 474.7L1004.2 362.7L1004.3 407.2L1004.4 468.7L1004.5 365.6L1004.6 498.4L1004.7 290.8L1004.8 251L1004.9 393.9L1004.9 458L1005 435.4L1005.1 372.2L1005.2 421.1L1005.3 426.6L1005.4 412.3L1005.5 492L1005.6 366.3L1005.6 385.7L1005.7 355L1005.8 440.5L1005.9 417.5L1006 394.2L1006.1 349.5L1006.2 381.4L1006.3 406.1L1006.4 366.9L1006.4 413L1006.5 402.4L1006.6 335.2L1006.7 414.3L1006.8 324.4L1006.9 345.9L1007 423.2L1007.1 508.6L1007.1 557.4L1007.2 403.9L1007.3 371.4L1007.4 466.2L1007.5 204.7L1007.6 343.8L1007.7 336.8L1007.8 392.2L1007.8 375.5L1007.9 272L1008 390.4L1008.1 337.3L1008.2 299.1L1008.3 359.4L1008.4 381.4L1008.5 454.8L1008.6 327.5L1008.6 332.9L1008.7 339.5L1008.8 338.2L1008.9 453.5L1009 359.2L1009.1 489.8L1009.2 307L1009.3 373.4L1009.3 382.8L1009.4 411.2L1009.5 291L1009.6 317.7L1009.7 431.3L1009.8 397.5L1009.9 368.1L1010 494.8L1010.1 483.5L1010.1 396.2L1010.2 354.9L1010.3 356.9L1010.4 479.2L1010.5 423.9L1010.6 427.6L1010.7 272.9L1010.8 448.2L1010.8 402.2L1010.9 429.8L1011 384.3L1011.1 400L1011.2 424.9L1011.3 477.1L1011.4 461.7L1011.5 511.1L1011.5 377.9L1011.6 369.8L1011.7 321.1L1011.8 540.6L1011.9 434.8L1012 522.1L1012.1 476.5L1012.2 471L1012.3 456.9L1012.3 391.8L1012.4 431.8L1012.5 391.8L1012.6 407.1L1012.7 473.4L1012.8 533.7L1012.9 449.3L1013 349.4L1013 294.4L1013.1 255.1L1013.2 344.2L1013.3 359.9L1013.4 403.7L1013.5 326.4L1013.6 453L1013.7 386.2L1013.8 378.8L1013.8 376.4L1013.9 340.5L1014 211.3L1014.1 308L1014.2 471.3L1014.3 374.9L1014.4 586.2L1014.5 437.2L1014.5 338.2L1014.6 538.9L1014.7 410.5L1014.8 364.9L1014.9 228.2L1015 480.5L1015.1 370.4L1015.2 389.2L1015.2 417.8L1015.3 344.5L1015.4 476L1015.5 436.7L1015.6 358.3L1015.7 370.6L1015.8 469.3L1015.9 405.1L1016 457.4L1016 363.1L1016.1 194.8L1016.2 326.3L1016.3 398L1016.4 416.2L1016.5 319.8L1016.6 281.8L1016.7 364.1L1016.7 385.3L1016.8 359.7L1016.9 391.9L1017 387.7L1017.1 314.3L1017.2 385.2L1017.3 326.5L1017.4 373.2L1017.4 340.3L1017.5 523.7L1017.6 447.6L1017.7 489L1017.8 365.7L1017.9 349.8L1018 381L1018.1 425.2L1018.2 295.4L1018.2 472.3L1018.3 488.7L1018.4 405.1L1018.5 347.8L1018.6 481.8L1018.7 471L1018.8 383.4L1018.9 404.4L1018.9 373.3L1019 369.9L1019.1 456.4L1019.2 393.5L1019.3 448.9L1019.4 360.7L1019.5 332.2L1019.6 441.4L1019.7 347.1L1019.7 388.4L1019.8 526.3L1019.9 241.5L1020 458.6L1020.1 449.1L1020.2 381.3L1020.3 487.3L1020.4 449.2L1020.4 327.8L1020.5 379L1020.6 352.2L1020.7 385.4L1020.8 323.8L1020.9 359.2L1021 386.7L1021.1 464.9L1021.1 359.2L1021.2 478.4L1021.3 257.9L1021.4 440.3L1021.5 413.4L1021.6 399.2L1021.7 444.4L1021.8 292.2L1021.9 548.4L1021.9 377.2L1022 455.2L1022.1 448.4L1022.2 438.8L1022.3 419L1022.4 424.6L1022.5 378.9L1022.6 445.7L1022.6 424.2L1022.7 408.9L1022.8 351.5L1022.9 438.5L1023 376.4L1023.1 284.4L1023.2 273.3L1023.3 456.4L1023.3 435.6L1023.4 380.6L1023.5 442.2L1023.6 440.6L1023.7 400.3L1023.8 425.5L1023.9 489.4L1024 603.5L1024.1 393.2L1024.1 359.6L1024.2 503L1024.3 399.4L1024.4 219.5L1024.5 368.5L1024.6 446.6L1024.7 398.9L1024.8 374.3L1024.8 406.7L1024.9 434.9L1025 354.2L1025.1 361.3L1025.2 357.5L1025.3 493.4L1025.4 377.1L1025.5 430.3L1025.6 403.9L1025.6 454.4L1025.7 509L1025.8 462L1025.9 542.2L1026 361.9L1026.1 325L1026.2 348.4L1026.3 430.7L1026.3 492.6L1026.4 494.4L1026.5 396.2L1026.6 471.6L1026.7 486.7L1026.8 433.6L1026.9 413L1027 387.5L1027 359.1L1027.1 440.6L1027.2 451.6L1027.3 443.9L1027.4 445.5L1027.5 263.9L1027.6 408L1027.7 457.6L1027.8 443.5L1027.8 432.9L1027.9 458.3L1028 363.6L1028.1 367.8L1028.2 398L1028.3 438.1L1028.4 436.4L1028.5 379.9L1028.5 377.2L1028.6 499.8L1028.7 462.7L1028.8 362.7L1028.9 447.2L1029 447.7L1029.1 456.3L1029.2 384.4L1029.3 461.5L1029.3 424.1L1029.4 354.1L1029.5 429.8L1029.6 396.4L1029.7 387.1L1029.8 383.1L1029.9 393L1030 317.1L1030 396.1L1030.1 423.6L1030.2 244.6L1030.3 310.5L1030.4 421.8L1030.5 460.5L1030.6 514.3L1030.7 530.8L1030.7 446.6L1030.8 417.7L1030.9 293.1L1031 397L1031.1 343.5L1031.2 417.5L1031.3 451L1031.4 331.8L1031.5 395L1031.5 370.9L1031.6 362L1031.7 289.5L1031.8 355.1L1031.9 431.3L1032 309.2L1032.1 339.7L1032.2 354.1L1032.2 473.5L1032.3 437L1032.4 236.8L1032.5 453.2L1032.6 385.4L1032.7 443L1032.8 395L1032.9 307.7L1032.9 358.4L1033 382.2L1033.1 518.9L1033.2 380.8L1033.3 410.7L1033.4 354.2L1033.5 393.9L1033.6 378.3L1033.7 317.3L1033.7 286.3L1033.8 417.2L1033.9 403.6L1034 413.4L1034.1 482.4L1034.2 386.8L1034.3 293.8L1034.4 334.4L1034.4 441L1034.5 347.4L1034.6 395L1034.7 418.8L1034.8 351L1034.9 466.6L1035 156.9L1035.1 362.6L1035.2 280.4L1035.2 528.6L1035.3 477.7L1035.4 458.3L1035.5 409.2L1035.6 409.8L1035.7 443.3L1035.8 345.6L1035.9 475.4L1035.9 392.1L1036 452.3L1036.1 396.2L1036.2 356.4L1036.3 466.8L1036.4 381.6L1036.5 315L1036.6 441.4L1036.6 321L1036.7 250.1L1036.8 418L1036.9 369.4L1037 452.3L1037.1 296.2L1037.2 379L1037.3 451L1037.4 363L1037.4 463.2L1037.5 478.7L1037.6 395.8L1037.7 383.3L1037.8 389L1037.9 355L1038 362L1038.1 322L1038.1 329.9L1038.2 353.7L1038.3 359.1L1038.4 337.8L1038.5 344.7L1038.6 402L1038.7 406.9L1038.8 479.2L1038.8 467.6L1038.9 322.3L1039 347.3L1039.1 358L1039.2 404.3L1039.3 439.9L1039.4 379.2L1039.5 366.8L1039.6 313L1039.6 596.9L1039.7 517L1039.8 440.5L1039.9 341.1L1040 424.8L1040.1 435.2L1040.2 453L1040.3 467.1L1040.3 241.8L1040.4 508.5L1040.5 515.6L1040.6 475.3L1040.7 353.5L1040.8 416.6L1040.9 396.8L1041 334.9L1041.1 322.3L1041.1 348.7L1041.2 477.7L1041.3 480.1L1041.4 376.9L1041.5 532L1041.6 355.1L1041.7 383.8L1041.8 290.3L1041.8 434.8L1041.9 436.1L1042 390.1L1042.1 412.1L1042.2 464.2L1042.3 443.1L1042.4 367.4L1042.5 318.7L1042.5 356.2L1042.6 357.8L1042.7 426.9L1042.8 352.8L1042.9 384.6L1043 337L1043.1 367.8L1043.2 469.6L1043.3 420.3L1043.3 386.1L1043.4 443.5L1043.5 382.6L1043.6 373.1L1043.7 447.3L1043.8 289.6L1043.9 387.4L1044 464.3L1044 377.7L1044.1 423.5L1044.2 401.2L1044.3 509.9L1044.4 276L1044.5 547.5L1044.6 279.9L1044.7 444.6L1044.8 423.2L1044.8 403.8L1044.9 380.3L1045 341.1L1045.1 471.6L1045.2 330.7L1045.3 292.7L1045.4 586.6L1045.5 341.2L1045.5 453.1L1045.6 423.5L1045.7 503.1L1045.8 303L1045.9 373.5L1046 359.1L1046.1 209.4L1046.2 302L1046.2 309.9L1046.3 433.8L1046.4 482.5L1046.5 389.5L1046.6 340.8L1046.7 333.9L1046.8 417L1046.9 333.7L1047 520.9L1047 421.4L1047.1 512.6L1047.2 322.7L1047.3 433.6L1047.4 426.8L1047.5 419.8L1047.6 402.9L1047.7 303.7L1047.7 290.5L1047.8 530.7L1047.9 321.3L1048 324.2L1048.1 329.5L1048.2 430.2L1048.3 413L1048.4 427.7L1048.4 454.2L1048.5 367.7L1048.6 458.5L1048.7 343.8L1048.8 406L1048.9 461.7L1049 282.4L1049.1 442.4L1049.2 424.9L1049.2 400.2L1049.3 474.2L1049.4 442.9L1049.5 379.4L1049.6 291.8L1049.7 446.9L1049.8 352.7L1049.9 318.9L1049.9 375.4L1050 400.1L1050.1 394.9L1050.2 351L1050.3 436.9L1050.4 457.7L1050.5 333.9L1050.6 275.9L1050.7 312.4L1050.7 403.2L1050.8 533.1L1050.9 471.4L1051 347.2L1051.1 447.7L1051.2 382.6L1051.3 458.3L1051.4 330.4L1051.4 470L1051.5 423.6L1051.6 406.8L1051.7 388.8L1051.8 323.7L1051.9 340.6L1052 434.5L1052.1 384L1052.1 337.9L1052.2 371.4L1052.3 396.6L1052.4 476.7L1052.5 476.6L1052.6 500.7L1052.7 492.2L1052.8 435.2L1052.9 354L1052.9 376.8L1053 417.3L1053.1 375.2L1053.2 326.9L1053.3 361.3L1053.4 228.5L1053.5 418.6L1053.6 346.3L1053.6 367.2L1053.7 357.9L1053.8 398.5L1053.9 402.3L1054 363.7L1054.1 419L1054.2 558.3L1054.3 507.9L1054.3 431L1054.4 596.9L1054.5 511.3L1054.6 385.8L1054.7 405.9L1054.8 288.9L1054.9 409.9L1055 464.7L1055.1 411.6L1055.1 221.2L1055.2 483.8L1055.3 344.6L1055.4 496.2L1055.5 396.9L1055.6 382.1L1055.7 410L1055.8 405L1055.8 332.3L1055.9 173.2L1056 398.4L1056.1 452.3L1056.2 365L1056.3 551.7L1056.4 368.9L1056.5 449.6L1056.6 253.4L1056.6 404.7L1056.7 388.3L1056.8 294.2L1056.9 378.8L1057 426.9L1057.1 380.3L1057.2 254.5L1057.3 347.9L1057.3 485.8L1057.4 339.9L1057.5 334.7L1057.6 396.2L1057.7 402.4L1057.8 401.7L1057.9 525L1058 360L1058 399.4L1058.1 249.5L1058.2 391.3L1058.3 438.5L1058.4 476.2L1058.5 424.3L1058.6 507.4L1058.7 219.1L1058.8 335.1L1058.8 349.6L1058.9 394.1L1059 499.9L1059.1 345.6L1059.2 404.2L1059.3 278.4L1059.4 445.5L1059.5 452L1059.5 368.7L1059.6 346.6L1059.7 333.3L1059.8 477.1L1059.9 331L1060 312.5L1060.1 345L1060.2 343.7L1060.2 296.5L1060.3 381.7L1060.4 438.6L1060.5 288.3L1060.6 460.3L1060.7 415.3L1060.8 372.1L1060.9 274.6L1061 384.9L1061 297.3L1061.1 545.4L1061.2 386.3L1061.3 385.5L1061.4 263.9L1061.5 499.4L1061.6 376.1L1061.7 354.3L1061.7 393.4L1061.8 424.1L1061.9 339.2L1062 491.6L1062.1 425.9L1062.2 346.3L1062.3 343.7L1062.4 411.7L1062.5 398.7L1062.5 333.3L1062.6 425.8L1062.7 463.4L1062.8 399.3L1062.9 418.5L1063 365.5L1063.1 445.7L1063.2 429.7L1063.2 434.4L1063.3 487.4L1063.4 447.5L1063.5 406L1063.6 438.3L1063.7 460.7L1063.8 392.7L1063.9 372.4L1063.9 369.4L1064 427.4L1064.1 335.7L1064.2 411.2L1064.3 337.3L1064.4 298.7L1064.5 626.9L1064.6 446.4L1064.7 385.1L1064.7 383.4L1064.8 342.6L1064.9 475L1065 356L1065.1 458.2L1065.2 270.6L1065.3 515.8L1065.4 320.5L1065.4 528.4L1065.5 354.3L1065.6 484.8L1065.7 399.5L1065.8 395.8L1065.9 400.8L1066 441.9L1066.1 478.4L1066.2 482.8L1066.2 558.5L1066.3 321.4L1066.4 529L1066.5 452.7L1066.6 424.3L1066.7 446L1066.8 353.3L1066.9 282L1066.9 533.1L1067 395.6L1067.1 390.1L1067.2 335.4L1067.3 406.2L1067.4 394.7L1067.5 527.6L1067.6 384.5L1067.6 430.9L1067.7 425.3L1067.8 292.6L1067.9 343.5L1068 315.3L1068.1 422.1L1068.2 386.4L1068.3 487.1L1068.4 412.2L1068.4 215L1068.5 364.8L1068.6 410.1L1068.7 353L1068.8 527.9L1068.9 262.8L1069 469.8L1069.1 338.4L1069.1 490.4L1069.2 451.4L1069.3 449.7L1069.4 307.1L1069.5 452.8L1069.6 405.3L1069.7 395L1069.8 437.5L1069.8 332.6L1069.9 326.7L1070 508.1L1070.1 376.2L1070.2 452.3L1070.3 458.5L1070.4 246.9L1070.5 297.6L1070.6 464.3L1070.6 446.1L1070.7 432.2L1070.8 434.5L1070.9 426.5L1071 449.5L1071.1 367.4L1071.2 392.2L1071.3 397.3L1071.3 445.9L1071.4 336.7L1071.5 223.2L1071.6 379.1L1071.7 457.5L1071.8 300.5L1071.9 433.7L1072 407.5L1072.1 385.6L1072.1 342.9L1072.2 310.2L1072.3 411.3L1072.4 503.3L1072.5 488.1L1072.6 408.2L1072.7 503.4L1072.8 356.8L1072.8 500.9L1072.9 444.4L1073 417.5L1073.1 438.3L1073.2 289.4L1073.3 417.7L1073.4 399.6L1073.5 342.1L1073.5 412.4L1073.6 427.4L1073.7 313.8L1073.8 327.4L1073.9 288.5L1074 167.2L1074.1 242.8L1074.2 349.4L1074.3 428.2L1074.3 430L1074.4 414.1L1074.5 386.4L1074.6 375.9L1074.7 372.6L1074.8 380.4L1074.9 363.1L1075 530.6L1075 464.4L1075.1 519.8L1075.2 336.9L1075.3 320.3L1075.4 501.5L1075.5 288L1075.6 394.7L1075.7 469.5L1075.8 400.4L1075.8 261.6L1075.9 385.9L1076 396.2L1076.1 375.9L1076.2 399.4L1076.3 395.5L1076.4 485.8L1076.5 455.9L1076.5 360.4L1076.6 445.9L1076.7 408.9L1076.8 332.7L1076.9 348.1L1077 332.5L1077.1 335.1L1077.2 482.7L1077.2 405.3L1077.3 380.3L1077.4 404.6L1077.5 315.1L1077.6 270.9L1077.7 565.9L1077.8 273.8L1077.9 429L1078 450L1078 430.8L1078.1 401.8L1078.2 383.3L1078.3 485.8L1078.4 403.8L1078.5 493.5L1078.6 482.7L1078.7 469.1L1078.7 344.3L1078.8 388.4L1078.9 465.1L1079 399.4L1079.1 451.3L1079.2 296L1079.3 448L1079.4 391.8L1079.4 418.7L1079.5 361.9L1079.6 349.9L1079.7 438.2L1079.8 440.8L1079.9 202.3L1080 339.5L1080.1 338.5L1080.2 420L1080.2 489.4L1080.3 426.2L1080.4 463L1080.5 502.5L1080.6 463.2L1080.7 302.2L1080.8 324.4L1080.9 440.7L1080.9 380.2L1081 454.1L1081.1 449.1L1081.2 328.6L1081.3 371.9L1081.4 472.8L1081.5 472.5L1081.6 372.9L1081.7 401.2L1081.7 293.6L1081.8 358.2L1081.9 436.3L1082 389.3L1082.1 436.3L1082.2 380.3L1082.3 443.8L1082.4 466.2L1082.4 341.6L1082.5 479.6L1082.6 378.2L1082.7 464.5L1082.8 303.6L1082.9 143.2L1083 357.7L1083.1 457L1083.1 478.7L1083.2 368.2L1083.3 494L1083.4 420.1L1083.5 384.5L1083.6 399.6L1083.7 406L1083.8 391.2L1083.9 394.7L1083.9 347.5L1084 441.5L1084.1 408.3L1084.2 361.3L1084.3 421.9L1084.4 604.8L1084.5 388L1084.6 434L1084.6 363.9L1084.7 442.9L1084.8 367.3L1084.9 262.1L1085 384.1L1085.1 414.8L1085.2 386L1085.3 486.8L1085.3 383.4L1085.4 370.7L1085.5 303.6L1085.6 318.3L1085.7 328.9L1085.8 298.9L1085.9 425.1L1086 386.2L1086.1 333.1L1086.1 363.9L1086.2 481.9L1086.3 325.9L1086.4 382.5L1086.5 451.2L1086.6 405.3L1086.7 400.4L1086.8 467.4L1086.8 331.7L1086.9 428L1087 303.3L1087.1 375.6L1087.2 316.1L1087.3 438.8L1087.4 407.4L1087.5 302.5L1087.6 495.8L1087.6 445L1087.7 444.6L1087.8 341.9L1087.9 379.6L1088 416.4L1088.1 353.6L1088.2 319.4L1088.3 449.2L1088.3 352.9L1088.4 435.2L1088.5 405.5L1088.6 338.9L1088.7 401L1088.8 368.1L1088.9 367.1L1089 377.8L1089 504.4L1089.1 370.2L1089.2 367L1089.3 326.3L1089.4 444.4L1089.5 419L1089.6 393.8L1089.7 381.6L1089.8 423.3L1089.8 341.8L1089.9 385L1090 214.4L1090.1 505.7L1090.2 441.9L1090.3 437.4L1090.4 370.3L1090.5 243.4L1090.5 421.3L1090.6 403.8L1090.7 504.3L1090.8 498.2L1090.9 461.6L1091 421.4L1091.1 309.5L1091.2 421.2L1091.2 381.2L1091.3 371.5L1091.4 565.9L1091.5 414.5L1091.6 430.3L1091.7 392.3L1091.8 376.2L1091.9 265.7L1092 344.9L1092 300.6L1092.1 422.6L1092.2 304L1092.3 509.2L1092.4 391.8L1092.5 415.1L1092.6 342.3L1092.7 509.4L1092.7 410.5L1092.8 172.6L1092.9 393.8L1093 448.8L1093.1 467.5L1093.2 398.3L1093.3 457.2L1093.4 473.8L1093.5 418.5L1093.5 356.4L1093.6 448.8L1093.7 313.3L1093.8 409.3L1093.9 403.1L1094 375.1L1094.1 468.8L1094.2 472.9L1094.2 377L1094.3 449.9L1094.4 501.1L1094.5 464.9L1094.6 388L1094.7 487.3L1094.8 414.1L1094.9 438.2L1094.9 446.3L1095 361.1L1095.1 440.6L1095.2 475.1L1095.3 407L1095.4 393.3L1095.5 480.8L1095.6 356.2L1095.7 527.1L1095.7 260.6L1095.8 314.9L1095.9 299.6L1096 360.3L1096.1 335.9L1096.2 434.8L1096.3 325.4L1096.4 349.8L1096.4 431.1L1096.5 579.1L1096.6 476.3L1096.7 221.2L1096.8 375.6L1096.9 410L1097 295.9L1097.1 431.5L1097.2 476.5L1097.2 367.2L1097.3 376L1097.4 283.9L1097.5 399.7L1097.6 473.8L1097.7 553.8L1097.8 437L1097.9 429.8L1097.9 425.9L1098 359.2L1098.1 450L1098.2 344.7L1098.3 470.1L1098.4 583.2L1098.5 471.9L1098.6 386.3L1098.6 427.4L1098.7 333.7L1098.8 420.7L1098.9 272.3L1099 450.5L1099.1 293L1099.2 416.3L1099.3 328L1099.4 421.1L1099.4 416.3L1099.5 302.9L1099.6 480L1099.7 321L1099.8 395.9L1099.9 443.6L1100 330.9L1100.1 412.9L1100.1 412.1L1100.2 387.8L1100.3 352.6L1100.4 401.5L1100.5 383.1L1100.6 399.8L1100.7 336.3L1100.8 359.4L1100.8 510.5L1100.9 380.1L1101 451.4L1101.1 395.4L1101.2 399.9L1101.3 359.4L1101.4 418.2L1101.5 338.6L1101.6 303.8L1101.6 361.8L1101.7 357.1L1101.8 444.8L1101.9 407.2L1102 451L1102.1 381.3L1102.2 368.2L1102.3 370.5L1102.3 317.5L1102.4 265.9L1102.5 317.1L1102.6 282L1102.7 431.3L1102.8 369.9L1102.9 384.6L1103 480.9L1103.1 482.8L1103.1 347.3L1103.2 306.4L1103.3 419.3L1103.4 277.8L1103.5 445.1L1103.6 512.9L1103.7 314L1103.8 465.2L1103.8 341.3L1103.9 201.3L1104 422.3L1104.1 401.3L1104.2 425.3L1104.3 393.1L1104.4 419.3L1104.5 441.3L1104.5 553.4L1104.6 533.3L1104.7 430.7L1104.8 253.2L1104.9 409L1105 303L1105.1 386.8L1105.2 429.9L1105.3 478.8L1105.3 406.5L1105.4 419.4L1105.5 565.1L1105.6 356.1L1105.7 270.2L1105.8 345.6L1105.9 447.3L1106 503.7L1106 262L1106.1 449.1L1106.2 428.2L1106.3 420.6L1106.4 424.6L1106.5 390.4L1106.6 445.9L1106.7 299.1L1106.8 461.4L1106.8 441L1106.9 331.4L1107 370.4L1107.1 388L1107.2 432.3L1107.3 505.3L1107.4 469L1107.5 328.2L1107.5 437.1L1107.6 388.9L1107.7 395.6L1107.8 418L1107.9 535.9L1108 393.4L1108.1 327.2L1108.2 365.4L1108.2 425L1108.3 512L1108.4 402.1L1108.5 416.3L1108.6 305.8L1108.7 257.6L1108.8 328.2L1108.9 344.3L1109 311.6L1109 292.7L1109.1 348.9L1109.2 478.2L1109.3 325.4L1109.4 325.4L1109.5 433.5L1109.6 507.6L1109.7 253.1L1109.7 382.6L1109.8 411L1109.9 381.3L1110 468.8L1110.1 507.1L1110.2 389.5L1110.3 241.7L1110.4 493.5L1110.4 466.7L1110.5 435.4L1110.6 427.8L1110.7 390.2L1110.8 551.8L1110.9 442.6L1111 442.6L1111.1 334.7L1111.2 404.9L1111.2 444.5L1111.3 522.6L1111.4 422.1L1111.5 502.8L1111.6 422.1L1111.7 470.1L1111.8 321.9L1111.9 470.5L1111.9 397.8L1112 477.3L1112.1 432L1112.2 403.6L1112.3 384.4L1112.4 254.5L1112.5 325.8L1112.6 481.6L1112.7 410.8L1112.7 441L1112.8 398.1L1112.9 393.5L1113 397.6L1113.1 436.3L1113.2 456.1L1113.3 362.1L1113.4 338.5L1113.4 398.5L1113.5 311L1113.6 513.4L1113.7 354.5L1113.8 343.6L1113.9 383.7L1114 356.8L1114.1 448.7L1114.1 478.4L1114.2 400.5L1114.3 421.4L1114.4 373.2L1114.5 451.8L1114.6 354.3L1114.7 559.5L1114.8 276.9L1114.9 336.5L1114.9 323.8L1115 458.3L1115.1 439L1115.2 514.2L1115.3 201.3L1115.4 312.1L1115.5 584.2L1115.6 524.6L1115.6 302.3L1115.7 274.8L1115.8 413.6L1115.9 469.7L1116 457L1116.1 479.6L1116.2 409.4L1116.3 421.3L1116.3 398.6L1116.4 338.3L1116.5 441.1L1116.6 319.8L1116.7 375.1L1116.8 333.5L1116.9 350.7L1117 361.5L1117.1 373.2L1117.1 445.7L1117.2 348.3L1117.3 383.4L1117.4 369.9L1117.5 445.7L1117.6 443L1117.7 339.2L1117.8 293L1117.8 451.7L1117.9 428.5L1118 396.3L1118.1 470.9L1118.2 318L1118.3 400.8L1118.4 305.8L1118.5 528.7L1118.6 435.3L1118.6 426.1L1118.7 526.6L1118.8 409.4L1118.9 366.9L1119 528.5L1119.1 409.2L1119.2 439.8L1119.3 245.5L1119.3 353L1119.4 451.6L1119.5 451.2L1119.6 405.8L1119.7 397.1L1119.8 314.4L1119.9 399.2L1120 360.4L1120 476.6L1120.1 389.2L1120.2 375L1120.3 468.5L1120.4 359.8L1120.5 380.3L1120.6 384.8L1120.7 327.1L1120.8 378.4L1120.8 379.2L1120.9 411.1L1121 328.2L1121.1 429.9L1121.2 409.8L1121.3 363.6L1121.4 348.3L1121.5 387.2L1121.5 424.1L1121.6 442.6L1121.7 451.3L1121.8 422.6L1121.9 294.5L1122 382.7L1122.1 424.5L1122.2 455.9L1122.2 385.4L1122.3 415.6L1122.4 470L1122.5 487.4L1122.6 306.5L1122.7 404.8L1122.8 430L1122.9 369.4L1123 424.1L1123 371.1L1123.1 454.7L1123.2 266.2L1123.3 309.9L1123.4 420.2L1123.5 406.3L1123.6 443.2L1123.7 503.1L1123.7 352L1123.8 233.9L1123.9 485.1L1124 436.2L1124.1 464L1124.2 444.8L1124.3 531.6L1124.4 270.3L1124.5 315.1L1124.5 363.2L1124.6 302.6L1124.7 383.7L1124.8 380.1L1124.9 368.3L1125 437.3L1125.1 321.5L1125.2 347.3L1125.2 341.8L1125.3 351.8L1125.4 382.4L1125.5 256L1125.6 388.7L1125.7 434.4L1125.8 401.7L1125.9 292.4L1125.9 286.5L1126 476.7L1126.1 438.3L1126.2 335.5L1126.3 399.3L1126.4 368.9L1126.5 350.3L1126.6 653.5L1126.7 440.1L1126.7 394.5L1126.8 404L1126.9 345.4L1127 321.4L1127.1 418.8L1127.2 466.1L1127.3 342.4L1127.4 447.4L1127.4 345.3L1127.5 374.4L1127.6 366.8L1127.7 418.1L1127.8 269.6L1127.9 384.6L1128 396L1128.1 393.6L1128.2 328.4L1128.2 477L1128.3 424.8L1128.4 269.3L1128.5 411.1L1128.6 327.8L1128.7 375.2L1128.8 326.2L1128.9 471.7L1128.9 355.8L1129 350.5L1129.1 483L1129.2 361.8L1129.3 429.1L1129.4 359.9L1129.5 443.4L1129.6 450.3L1129.6 286.8L1129.7 383.1L1129.8 430.4L1129.9 460.1L1130 367.9L1130.1 423.2L1130.2 483.9L1130.3 574L1130.4 373.2L1130.4 401.2L1130.5 391.3L1130.6 420.8L1130.7 426.5L1130.8 302.8L1130.9 355.4L1131 422L1131.1 360.6L1131.1 452.6L1131.2 299L1131.3 459.8L1131.4 385.3L1131.5 460.5L1131.6 490.5L1131.7 320.6L1131.8 343.8L1131.8 434L1131.9 303.8L1132 412.3L1132.1 369.1L1132.2 363.1L1132.3 407.3L1132.4 447.5L1132.5 443.8L1132.6 408.9L1132.6 412.8L1132.7 253.1L1132.8 313.9L1132.9 465.3L1133 444.1L1133.1 377.4L1133.2 509.5L1133.3 441.7L1133.3 469.1L1133.4 416.5L1133.5 502.9L1133.6 307.9L1133.7 449.8L1133.8 367.4L1133.9 286.9L1134 457.5L1134.1 394.3L1134.1 500.5L1134.2 489.1L1134.3 350.8L1134.4 505L1134.5 440L1134.6 342.4L1134.7 441L1134.8 312.4L1134.8 431.7L1134.9 296.6L1135 364.6L1135.1 436.3L1135.2 468.1L1135.3 452.6L1135.4 244.5L1135.5 342.6L1135.5 409.6L1135.6 435.7L1135.7 446.8L1135.8 283.7L1135.9 402.3L1136 537.6L1136.1 342.2L1136.2 388L1136.3 540.8L1136.3 383.6L1136.4 374.6L1136.5 389.6L1136.6 324.8L1136.7 340.6L1136.8 338.8L1136.9 381.4L1137 252.9L1137 506L1137.1 315.3L1137.2 392.8L1137.3 448.8L1137.4 413.7L1137.5 435.2L1137.6 456L1137.7 325.1L1137.8 332.9L1137.8 416.2L1137.9 401.8L1138 371.5L1138.1 303.5L1138.2 402.9L1138.3 318.5L1138.4 480.2L1138.5 429.8L1138.5 450.4L1138.6 410.4L1138.7 353.1L1138.8 362.8L1138.9 305.3L1139 412L1139.1 394.6L1139.2 438.7L1139.2 439L1139.3 536.3L1139.4 370.2L1139.5 430.2L1139.6 449.6L1139.7 409.4L1139.8 337.4L1139.9 254.1L1140 445.8L1140 372.8L1140.1 410L1140.2 482L1140.3 385L1140.4 451L1140.5 336.2L1140.6 374L1140.7 393.5L1140.7 369.2L1140.8 399.9L1140.9 346.2L1141 302.9L1141.1 471.3L1141.2 325.6L1141.3 412.2L1141.4 357.2L1141.4 291.3L1141.5 330.5L1141.6 362.1L1141.7 340.8L1141.8 464.3L1141.9 394.3L1142 441.3L1142.1 361.2L1142.2 366.8L1142.2 361.4L1142.3 484.2L1142.4 491.9L1142.5 384.3L1142.6 328.1L1142.7 437.2L1142.8 325.8L1142.9 370.5L1142.9 274.9L1143 478.2L1143.1 445.3L1143.2 489.1L1143.3 511.7L1143.4 326.4L1143.5 364.9L1143.6 393.3L1143.7 394.8L1143.7 325.7L1143.8 416.3L1143.9 393.7L1144 284.6L1144.1 404.9L1144.2 420.5L1144.3 497.4L1144.4 453.7L1144.4 371.2L1144.5 375.5L1144.6 443.9L1144.7 490.8L1144.8 445.5L1144.9 396L1145 453L1145.1 485.2L1145.1 450.1L1145.2 365.4L1145.3 430L1145.4 392.8L1145.5 389.9L1145.6 393.1L1145.7 335.8L1145.8 409.4L1145.9 453.9L1145.9 347L1146 315.8L1146.1 313.5L1146.2 275.5L1146.3 465.2L1146.4 512.2L1146.5 501.2L1146.6 330.1L1146.6 427.7L1146.7 494.8L1146.8 270.8L1146.9 274.9L1147 512.3L1147.1 486.2L1147.2 296.3L1147.3 405.8L1147.3 400L1147.4 412.4L1147.5 410.9L1147.6 383.6L1147.7 345.5L1147.8 361.4L1147.9 329.7L1148 446.1L1148.1 255.8L1148.1 309.3L1148.2 440.7L1148.3 381.3L1148.4 256.3L1148.5 436.7L1148.6 402.9L1148.7 352.7L1148.8 317.1L1148.8 380.8L1148.9 358.2L1149 368.8L1149.1 371.3L1149.2 386.4L1149.3 445.1L1149.4 518.8L1149.5 433.3L1149.6 492.1L1149.6 419.7L1149.7 306.8L1149.8 360.9L1149.9 332.6L1150 411.7L1150.1 489.3L1150.2 429.4L1150.3 314.5L1150.3 363.8L1150.4 424.5L1150.5 488.9L1150.6 389.2L1150.7 329L1150.8 552.4L1150.9 344.5L1151 259.9L1151 319.6L1151.1 380.8L1151.2 449.4L1151.3 375.4L1151.4 417.4L1151.5 327.2L1151.6 477L1151.7 308.3L1151.8 382.3L1151.8 308.3L1151.9 325.2L1152 453L1152.1 552.3L1152.2 341.6L1152.3 478.5L1152.4 288.5L1152.5 436.3L1152.5 476.5L1152.6 354.3L1152.7 471.5L1152.8 347.6L1152.9 443.4L1153 325.9L1153.1 353.2L1153.2 347.3L1153.3 328.3L1153.3 315.2L1153.4 407.9L1153.5 307.1L1153.6 450.4L1153.7 398.4L1153.8 396.6L1153.9 446.6L1154 297.3L1154 367.1L1154.1 420.1L1154.2 432.2L1154.3 355.1L1154.4 311.8L1154.5 342.6L1154.6 469.8L1154.7 330.3L1154.7 397.2L1154.8 476.2L1154.9 366.8L1155 350.3L1155.1 452.5L1155.2 362.5L1155.3 334.9L1155.4 376.9L1155.5 422.8L1155.5 471.5L1155.6 365.3L1155.7 345.8L1155.8 373.6L1155.9 481.8L1156 422.4L1156.1 336.2L1156.2 367.1L1156.2 484.5L1156.3 457.3L1156.4 177.5L1156.5 417.4L1156.6 339.5L1156.7 441.7L1156.8 363.1L1156.9 402.6L1156.9 502.9L1157 526.8L1157.1 377.9L1157.2 446.3L1157.3 244.4L1157.4 356.5L1157.5 395.5L1157.6 301.7L1157.7 382.6L1157.7 388.6L1157.8 423.9L1157.9 393.5L1158 544.6L1158.1 304.9L1158.2 446.9L1158.3 402.7L1158.4 355.7L1158.4 463.5L1158.5 355.1L1158.6 354.7L1158.7 423.3L1158.8 287.1L1158.9 356.5L1159 394.4L1159.1 484.7L1159.2 228.2L1159.2 410.9L1159.3 408.5L1159.4 319.4L1159.5 374.1L1159.6 437.1L1159.7 408.4L1159.8 431.6L1159.9 371.4L1159.9 226.9L1160 391L1160.1 380.6L1160.2 378.5L1160.3 482.5L1160.4 361.7L1160.5 398.8L1160.6 411L1160.6 419.2L1160.7 375.8L1160.8 426.2L1160.9 410.9L1161 539.5L1161.1 474.7L1161.2 292.6L1161.3 504.3L1161.4 456.8L1161.4 482.2L1161.5 348.5L1161.6 411.6L1161.7 435.1L1161.8 431.5L1161.9 415.7L1162 337.6L1162.1 370.4L1162.1 284.2L1162.2 393.8L1162.3 402.1L1162.4 473.8L1162.5 291.3L1162.6 484.6L1162.7 302.6L1162.8 431.9L1162.8 237.5L1162.9 338.5L1163 264.9L1163.1 395.9L1163.2 385.6L1163.3 360L1163.4 457.4L1163.5 409.6L1163.6 469.7L1163.6 425.4L1163.7 336.3L1163.8 354.2L1163.9 460.9L1164 455.4L1164.1 382.2L1164.2 392.6L1164.3 338.6L1164.3 359.2L1164.4 507L1164.5 491.7L1164.6 316.1L1164.7 306.7L1164.8 470L1164.9 169.4L1165 440.2L1165.1 329.5L1165.1 399.5L1165.2 390L1165.3 349L1165.4 392L1165.5 468.5L1165.6 415.6L1165.7 507.8L1165.8 407.9L1165.8 329L1165.9 314.2L1166 377.1L1166.1 318.8L1166.2 378.8L1166.3 407.7L1166.4 303.2L1166.5 394.6L1166.5 479.2L1166.6 390.8L1166.7 287.1L1166.8 506.3L1166.9 326.5L1167 317L1167.1 489.5L1167.2 395.1L1167.3 339.1L1167.3 366.4L1167.4 289.8L1167.5 353L1167.6 549.5L1167.7 387.3L1167.8 355.4L1167.9 412.2L1168 346.2L1168 284L1168.1 476.3L1168.2 308.8L1168.3 409.8L1168.4 369.6L1168.5 297.4L1168.6 413L1168.7 375.6L1168.8 440.6L1168.8 319L1168.9 358.2L1169 443L1169.1 350.1L1169.2 427.7L1169.3 314.5L1169.4 294.5L1169.5 390L1169.5 280.1L1169.6 360.1L1169.7 314.1L1169.8 279.3L1169.9 420.4L1170 383L1170.1 379L1170.2 381.2L1170.2 379.3L1170.3 297.5L1170.4 518.4L1170.5 360.1L1170.6 355.6L1170.7 324.8L1170.8 347.7L1170.9 430L1171 285.3L1171 321.4L1171.1 273.2L1171.2 328.3L1171.3 459.2L1171.4 446.8L1171.5 315.6L1171.6 225.2L1171.7 425.9L1171.7 255.3L1171.8 386.3L1171.9 318.4L1172 291.4L1172.1 474.4L1172.2 398.4L1172.3 464.4L1172.4 465.1L1172.4 318.4L1172.5 389.1L1172.6 464.1L1172.7 463.5L1172.8 336.2L1172.9 364.2L1173 430.2L1173.1 444.5L1173.2 369.6L1173.2 431.8L1173.3 382.8L1173.4 366.8L1173.5 313.2L1173.6 386.8L1173.7 522.2L1173.8 375.1L1173.9 369.7L1173.9 334.1L1174 391L1174.1 438.2L1174.2 392.8L1174.3 502.7L1174.4 484.6L1174.5 320.8L1174.6 374.5L1174.7 354.8L1174.7 428.3L1174.8 361.2L1174.9 432.4L1175 448.5L1175.1 382.3L1175.2 327.1L1175.3 455.7L1175.4 246.2L1175.4 420.8L1175.5 325.9L1175.6 501.3L1175.7 339.6L1175.8 365.3L1175.9 303.5L1176 381.2L1176.1 321.5L1176.1 484.7L1176.2 360.9L1176.3 347.3L1176.4 388.9L1176.5 604L1176.6 469.4L1176.7 330.9L1176.8 330.7L1176.9 480.9L1176.9 366.1L1177 534.4L1177.1 292.8L1177.2 246.9L1177.3 382.7L1177.4 360.2L1177.5 374.7L1177.6 366.2L1177.6 362.3L1177.7 490.6L1177.8 356.4L1177.9 421.6L1178 456.5L1178.1 411.2L1178.2 411.3L1178.3 485.6L1178.3 438L1178.4 412.2L1178.5 356.6L1178.6 464L1178.7 364.6L1178.8 408.5L1178.9 428.9L1179 377.6L1179.1 499.1L1179.1 447.2L1179.2 383.2L1179.3 357.9L1179.4 291.6L1179.5 200L1179.6 373.8L1179.7 580L1179.8 474.8L1179.8 360.8L1179.9 348.9L1180 422.9L1180.1 365.4L1180.2 361.2L1180.3 489.3L1180.4 232.6L1180.5 405.1L1180.6 360.9L1180.6 394.7L1180.7 407.3L1180.8 533.7L1180.9 293.8L1181 424L1181.1 464.2L1181.2 333.9L1181.3 462.5L1181.3 284L1181.4 394.9L1181.5 448.1L1181.6 389L1181.7 396.7L1181.8 382.8L1181.9 360.7L1182 337L1182 302.3L1182.1 403.9L1182.2 433.6L1182.3 404.5L1182.4 467.8L1182.5 425.6L1182.6 358.1L1182.7 345.7L1182.8 370.5L1182.8 325L1182.9 300.3L1183 451.3L1183.1 426L1183.2 351.2L1183.3 417.4L1183.4 410.4L1183.5 329.9L1183.5 437.5L1183.6 307.3L1183.7 439L1183.8 411.7L1183.9 408.6L1184 353.8L1184.1 244.2L1184.2 405.6L1184.3 340.7L1184.3 519L1184.4 256.3L1184.5 491.3L1184.6 461.1L1184.7 298.6L1184.8 344L1184.9 457.6L1185 420.9L1185 344.6L1185.1 376.1L1185.2 470L1185.3 341.8L1185.4 349.4L1185.5 407L1185.6 444.7L1185.7 484.6L1185.7 363L1185.8 471.4L1185.9 502.5L1186 301.9L1186.1 321.2L1186.2 423.3L1186.3 379.9L1186.4 324.3L1186.5 393.8L1186.5 400.7L1186.6 345.3L1186.7 435.6L1186.8 486.4L1186.9 488.4L1187 412.7L1187.1 435.6L1187.2 413.6L1187.2 325.3L1187.3 288.4L1187.4 419.1L1187.5 463.4L1187.6 255.4L1187.7 346.6L1187.8 458.9L1187.9 341.3L1187.9 359.9L1188 425.5L1188.1 434.9L1188.2 506.6L1188.3 272.1L1188.4 449.9L1188.5 433.5L1188.6 315.1L1188.7 349.8L1188.7 338.6L1188.8 342.4L1188.9 392.9L1189 534.1L1189.1 339.8L1189.2 402.6L1189.3 414.1L1189.4 298.5L1189.4 383.1L1189.5 248.2L1189.6 419.9L1189.7 308.8L1189.8 487.7L1189.9 407.4L1190 409.5L1190.1 384.9L1190.2 268.4L1190.2 488.2L1190.3 378.5L1190.4 464.8L1190.5 428L1190.6 371.4L1190.7 497.5L1190.8 510.6L1190.9 414.5L1190.9 438.5L1191 469.5L1191.1 429.5L1191.2 418.4L1191.3 392.2L1191.4 548.1L1191.5 372.9L1191.6 346.8L1191.6 491.7L1191.7 363L1191.8 312.4L1191.9 375.1L1192 362.3L1192.1 427.7L1192.2 432.2L1192.3 344.6L1192.4 488.6L1192.4 373.2L1192.5 314.5L1192.6 405.6L1192.7 329.6L1192.8 389.5L1192.9 470.6L1193 361.5L1193.1 393.5L1193.1 408.7L1193.2 397.7L1193.3 347.6L1193.4 517.9L1193.5 405.1L1193.6 423.5L1193.7 514.7L1193.8 347.5L1193.8 378.3L1193.9 405.8L1194 341.4L1194.1 435L1194.2 480.2L1194.3 584.7L1194.4 358.4L1194.5 345.1L1194.6 323.8L1194.6 472.8L1194.7 437.1L1194.8 419.4L1194.9 535.2L1195 401.3L1195.1 332.2L1195.2 377.8L1195.3 375L1195.3 493.2L1195.4 346.7L1195.5 398.8L1195.6 314.5L1195.7 474.5L1195.8 328.6L1195.9 387.5L1196 360.2L1196.1 286.5L1196.1 423.8L1196.2 233.4L1196.3 260L1196.4 302.7L1196.5 266.3L1196.6 366.7L1196.7 353.7L1196.8 512.6L1196.8 514.6L1196.9 407.6L1197 381.8L1197.1 339.1L1197.2 440.7L1197.3 441.9L1197.4 463.4L1197.5 426.2L1197.5 475L1197.6 414.2L1197.7 453.9L1197.8 361.2L1197.9 446.7L1198 510.3L1198.1 420.5L1198.2 361.1L1198.3 372.9L1198.3 378.4L1198.4 533.4L1198.5 445.8L1198.6 401.1L1198.7 353.9L1198.8 414L1198.9 280L1199 515.9L1199 241.4L1199.1 367L1199.2 412.5L1199.3 407.4L1199.4 389.3L1199.5 481.5L1199.6 527.6L1199.7 320.8L1199.8 484.6L1199.8 326.5L1199.9 484L1200 337.9L1200.1 400.6L1200.2 375.8L1200.3 305.2L1200.4 462.2L1200.5 415.4L1200.5 300.2L1200.6 405.6L1200.7 451.7L1200.8 403.7L1200.9 214L1201 454.1L1201.1 308.5L1201.2 461.6L1201.2 456.9L1201.3 456.7L1201.4 436L1201.5 368L1201.6 330.7L1201.7 308.6L1201.8 392.9L1201.9 341.6L1202 410.7L1202 503.4L1202.1 395.4L1202.2 388.7L1202.3 359.9L1202.4 382.3L1202.5 432.1L1202.6 336.8L1202.7 541.6L1202.7 408.8L1202.8 338.7L1202.9 349.5L1203 365.8L1203.1 349.3L1203.2 419.6L1203.3 389L1203.4 452.3L1203.4 347.3L1203.5 462.3L1203.6 249.4L1203.7 490.7L1203.8 381.9L1203.9 334.3L1204 415L1204.1 471.1L1204.2 351.7L1204.2 316.2L1204.3 454L1204.4 360.6L1204.5 461L1204.6 363.7L1204.7 507.4L1204.8 314.3L1204.9 415.3L1204.9 277.1L1205 573.5L1205.1 431.6L1205.2 432.7L1205.3 427.1L1205.4 403.6L1205.5 367.3L1205.6 430.3L1205.7 414.5L1205.7 449L1205.8 256.8L1205.9 366.8L1206 457.3L1206.1 337.6L1206.2 359.4L1206.3 341.3L1206.4 284.3L1206.4 337.1L1206.5 390.4L1206.6 359.3L1206.7 350L1206.8 455.9L1206.9 378L1207 375.7L1207.1 310.7L1207.1 341.9L1207.2 480.4L1207.3 370.9L1207.4 368.9L1207.5 377.1L1207.6 460.9L1207.7 519.5L1207.8 446.2L1207.9 367.6L1207.9 402L1208 333L1208.1 310.5L1208.2 391.7L1208.3 387.5L1208.4 317.8L1208.5 506.8L1208.6 361.2L1208.6 363.6L1208.7 646.6L1208.8 271.6L1208.9 317.8L1209 389.1L1209.1 474.9L1209.2 347.5L1209.3 396.6L1209.3 323.9L1209.4 293.7L1209.5 386.9L1209.6 458.1L1209.7 350.9L1209.8 323.7L1209.9 394.8L1210 473.1L1210.1 348.4L1210.1 340.4L1210.2 370.8L1210.3 440.9L1210.4 436.4L1210.5 556.9L1210.6 327.8L1210.7 412.9L1210.8 317.2L1210.8 382.3L1210.9 336.8L1211 331.1L1211.1 427.7L1211.2 465L1211.3 481.7L1211.4 332.7L1211.5 541.5L1211.6 398.1L1211.6 469.4L1211.7 481.4L1211.8 373.4L1211.9 256.2L1212 421.8L1212.1 437.8L1212.2 425.8L1212.3 351.1L1212.3 312.7L1212.4 296.1L1212.5 386.1L1212.6 375.7L1212.7 357.6L1212.8 396.4L1212.9 479.5L1213 457.9L1213 331.6L1213.1 339.7L1213.2 479.6L1213.3 303.7L1213.4 440L1213.5 303.8L1213.6 456.6L1213.7 352.4L1213.8 413.3L1213.8 549.6L1213.9 400.5L1214 346.6L1214.1 421.3L1214.2 457.3L1214.3 480.8L1214.4 268.8L1214.5 419.8L1214.5 356.8L1214.6 396L1214.7 484L1214.8 369.4L1214.9 405.8L1215 416.1L1215.1 333.4L1215.2 417.1L1215.2 395.4L1215.3 372L1215.4 521.4L1215.5 237.7L1215.6 455.1L1215.7 482.6L1215.8 292.8L1215.9 390.8L1216 381.1L1216 451.5L1216.1 291.9L1216.2 325L1216.3 410.6L1216.4 400.8L1216.5 251.2L1216.6 322L1216.7 353L1216.7 414.5L1216.8 507.6L1216.9 444.6L1217 267.1L1217.1 497.5L1217.2 370.9L1217.3 415.6L1217.4 432L1217.5 426L1217.5 335.1L1217.6 394.2L1217.7 453.7L1217.8 443.2L1217.9 525.6L1218 392L1218.1 264.5L1218.2 496.7L1218.2 382.4L1218.3 450.6L1218.4 358.4L1218.5 382.8L1218.6 352.9L1218.7 512.1L1218.8 349.7L1218.9 359.5L1218.9 319.2L1219 455.6L1219.1 411.7L1219.2 433.7L1219.3 412.2L1219.4 328.1L1219.5 460.2L1219.6 440.1L1219.7 348.2L1219.7 421.7L1219.8 475L1219.9 293.8L1220 527.1L1220.1 442.6L1220.2 509.9L1220.3 387.5L1220.4 287.4L1220.4 436.5L1220.5 323.5L1220.6 345.4L1220.7 338.4L1220.8 364.8L1220.9 347.6L1221 425.7L1221.1 459.3L1221.2 269.1L1221.2 425.9L1221.3 347.5L1221.4 296.8L1221.5 258.4L1221.6 331.3L1221.7 382L1221.8 435.4L1221.9 355.4L1221.9 426.8L1222 512.9L1222.1 371.2L1222.2 363.8L1222.3 440.9L1222.4 389.9L1222.5 344L1222.6 439.9L1222.6 416.9L1222.7 457.9L1222.8 270.9L1222.9 434.2L1223 358.8L1223.1 407L1223.2 431.7L1223.3 435.8L1223.4 469.7L1223.4 487.1L1223.5 491.8L1223.6 395.7L1223.7 393.6L1223.8 403.3L1223.9 391.1L1224 426.5L1224.1 468.1L1224.1 479L1224.2 466.8L1224.3 452.1L1224.4 301.9L1224.5 607.2L1224.6 245.8L1224.7 394.8L1224.8 344.9L1224.8 458.3L1224.9 475.9L1225 354L1225.1 250.6L1225.2 297.2L1225.3 396.3L1225.4 468.9L1225.5 456.7L1225.6 428.3L1225.6 405.4L1225.7 325.7L1225.8 420.7L1225.9 425.5L1226 349.9L1226.1 397.1L1226.2 439.9L1226.3 369.1L1226.3 299.8L1226.4 302.6L1226.5 311.5L1226.6 467.3L1226.7 418.6L1226.8 366.7L1226.9 396.4L1227 493.2L1227.1 464.7L1227.1 470.1L1227.2 408.9L1227.3 301.9L1227.4 389.5L1227.5 499.4L1227.6 532.9L1227.7 361.3L1227.8 452.4L1227.8 372L1227.9 307.8L1228 397.2L1228.1 442.1L1228.2 442.6L1228.3 360.4L1228.4 359L1228.5 485.6L1228.5 428L1228.6 352.9L1228.7 459.7L1228.8 274.3L1228.9 456.5L1229 572.5L1229.1 330.8L1229.2 414.3L1229.3 462.7L1229.3 307L1229.4 449.5L1229.5 355.4L1229.6 298.4L1229.7 375L1229.8 476.4L1229.9 353L1230 331.6L1230 493.9L1230.1 397.2L1230.2 480.1L1230.3 403.8L1230.4 317.1L1230.5 419.3L1230.6 488.4L1230.7 304.3L1230.8 373L1230.8 435L1230.9 407.1L1231 412.4L1231.1 420.2L1231.2 339.5L1231.3 422.4L1231.4 407.4L1231.5 344.8L1231.5 279L1231.6 439.9L1231.7 477.7L1231.8 235.7L1231.9 510.3L1232 350L1232.1 445.9L1232.2 352.1L1232.2 347.7L1232.3 392.3L1232.4 421.5L1232.5 365.1L1232.6 475.7L1232.7 519.9L1232.8 379.3L1232.9 489.9L1233 313.9L1233 317.5L1233.1 386.5L1233.2 476.5L1233.3 404.7L1233.4 321.1L1233.5 349.9L1233.6 402.3L1233.7 274.5L1233.7 361.8L1233.8 445.1L1233.9 317.1L1234 371.4L1234.1 348.1L1234.2 366.3L1234.3 392.5L1234.4 207.1L1234.4 299.6L1234.5 397.4L1234.6 389.5L1234.7 393.9L1234.8 423.1L1234.9 423.7L1235 418.1L1235.1 419.2L1235.2 418.2L1235.2 361.4L1235.3 327.6L1235.4 409.4L1235.5 344.4L1235.6 267.6L1235.7 458.6L1235.8 277L1235.9 462L1235.9 373.1L1236 371.9L1236.1 344.2L1236.2 320.9L1236.3 494.2L1236.4 421.1L1236.5 311L1236.6 433.6L1236.7 367L1236.7 374.3L1236.8 436.6L1236.9 435.1L1237 353.1L1237.1 453.7L1237.2 339.7L1237.3 394.4L1237.4 369.1L1237.4 398.3L1237.5 456.9L1237.6 594.1L1237.7 394.1L1237.8 299.8L1237.9 427L1238 360.3L1238.1 490.5L1238.1 266.2L1238.2 329.3L1238.3 287.7L1238.4 428L1238.5 454.8L1238.6 395.4L1238.7 279.1L1238.8 555.1L1238.9 416.5L1238.9 358L1239 434.2L1239.1 414L1239.2 457.7L1239.3 263.9L1239.4 484.3L1239.5 493.8L1239.6 432.3L1239.6 463.7L1239.7 397.2L1239.8 399.6L1239.9 299.4L1240 440.1L1240.1 370.1L1240.2 246L1240.3 451.5L1240.3 320.5L1240.4 339.6L1240.5 356.3L1240.6 397.9L1240.7 339.9L1240.8 342.6L1240.9 470.8L1241 410L1241.1 465L1241.1 364.6L1241.2 411.8L1241.3 400.9L1241.4 430.9L1241.5 333.5L1241.6 381L1241.7 382.7L1241.8 413.6L1241.8 373.1L1241.9 365.9L1242 356L1242.1 378.5L1242.2 303.9L1242.3 315.9L1242.4 338.8L1242.5 346.5L1242.6 300.1L1242.6 306.4L1242.7 393L1242.8 246.8L1242.9 357L1243 349L1243.1 313.3L1243.2 564.5L1243.3 357.4L1243.3 434.3L1243.4 285.9L1243.5 344.2L1243.6 381.2L1243.7 337.3L1243.8 415.8L1243.9 308.8L1244 468L1244 376.7L1244.1 467.1L1244.2 421.3L1244.3 373.2L1244.4 352L1244.5 362.9L1244.6 269.5L1244.7 365.7L1244.8 407.1L1244.8 244.6L1244.9 492.3L1245 400.3L1245.1 433.7L1245.2 380.5L1245.3 522.1L1245.4 342.3L1245.5 474.1L1245.5 372.1L1245.6 279.3L1245.7 296.6L1245.8 440.4L1245.9 277.2L1246 343.6L1246.1 321.3L1246.2 397.2L1246.3 429.7L1246.3 468.1L1246.4 447.6L1246.5 496.8L1246.6 459L1246.7 414.4L1246.8 448.3L1246.9 338.7L1247 377L1247 522.7L1247.1 393.9L1247.2 384.1L1247.3 389.1L1247.4 432.3L1247.5 487.6L1247.6 423.2L1247.7 226.7L1247.7 388.2L1247.8 434.8L1247.9 481.1L1248 485.3L1248.1 437.9L1248.2 364.2L1248.3 445.4L1248.4 533.2L1248.5 499.5L1248.5 298.7L1248.6 329.7L1248.7 386.5L1248.8 488.7L1248.9 418.5L1249 384.1L1249.1 401.7L1249.2 479.8L1249.2 447.4L1249.3 359.1L1249.4 490.6L1249.5 415.2L1249.6 456L1249.7 480.7L1249.8 497.4L1249.9 377.8L1249.9 410L1250 323.7L1250.1 351.3L1250.2 230.7L1250.3 446.6L1250.4 341.7L1250.5 464.8L1250.6 344.5L1250.7 395.9L1250.7 362.7L1250.8 359.4L1250.9 457.8L1251 370L1251.1 498.6L1251.2 446.6L1251.3 313.4L1251.4 449.4L1251.4 445L1251.5 356.8L1251.6 310.5L1251.7 433.1L1251.8 468L1251.9 487.2L1252 396.8L1252.1 355.5L1252.2 508.8L1252.2 481.3L1252.3 404.7L1252.4 290.8L1252.5 353L1252.6 348.8L1252.7 379.9L1252.8 388.6L1252.9 289.6L1252.9 335.4L1253 349.5L1253.1 330.4L1253.2 372.1L1253.3 438.9L1253.4 364L1253.5 418.4L1253.6 291.9L1253.6 324.3L1253.7 372.9L1253.8 445.3L1253.9 456.7L1254 239.6L1254.1 412.6L1254.2 451.4L1254.3 395.7L1254.4 376.7L1254.4 386.5L1254.5 444.5L1254.6 368.4L1254.7 269.4L1254.8 399.6L1254.9 413.1L1255 413.6L1255.1 477L1255.1 337.7L1255.2 378.9L1255.3 341.2L1255.4 297.1L1255.5 437.2L1255.6 386.3L1255.7 402.4L1255.8 349.4L1255.8 461.4L1255.9 305.7L1256 537.1L1256.1 304.3L1256.2 386.4L1256.3 406.8L1256.4 397.7L1256.5 360.5L1256.6 369.9L1256.6 286.5L1256.7 463.7L1256.8 494.3L1256.9 394.6L1257 226.8L1257.1 434.5L1257.2 385.1L1257.3 401.3L1257.3 339.3L1257.4 314.8L1257.5 378.9L1257.6 381.2L1257.7 411.9L1257.8 348.4L1257.9 281.3L1258 514.1L1258.1 407.9L1258.1 452.4L1258.2 332.3L1258.3 424.5L1258.4 442.4L1258.5 443.5L1258.6 359.5L1258.7 416.6L1258.8 394.9L1258.8 423.3L1258.9 460.3L1259 382L1259.1 390.9L1259.2 318.7L1259.3 423.2L1259.4 397.6L1259.5 380.4L1259.5 379.9L1259.6 372.3L1259.7 466.8L1259.8 471.2L1259.9 343.7L1260 453.5L1260.1 396.4L1260.2 311L1260.3 430.3L1260.3 523.1L1260.4 407.4L1260.5 448.4L1260.6 358.5L1260.7 399.1L1260.8 385.4L1260.9 521.6L1261 397.3L1261 351L1261.1 454L1261.2 416.8L1261.3 357.7L1261.4 373.9L1261.5 388.5L1261.6 465.1L1261.7 407.2L1261.8 349.7L1261.8 388.5L1261.9 356.1L1262 457.7L1262.1 381.2L1262.2 324.6L1262.3 403.5L1262.4 426.2L1262.5 305.2L1262.5 340L1262.6 381.8L1262.7 436.9L1262.8 455.8L1262.9 403L1263 421.4L1263.1 387.8L1263.2 442.5L1263.2 315.1L1263.3 412.1L1263.4 461.7L1263.5 435.9L1263.6 375.9L1263.7 350.8L1263.8 423.6L1263.9 358.3L1264 424.3L1264 381.8L1264.1 264.3L1264.2 434.1L1264.3 376.1L1264.4 285.7L1264.5 535.8L1264.6 469L1264.7 399.1L1264.7 325L1264.8 496.5L1264.9 355.2L1265 426L1265.1 429L1265.2 343L1265.3 386.4L1265.4 512.2L1265.4 413.6L1265.5 324.7L1265.6 414.2L1265.7 447.9L1265.8 533.7L1265.9 458.9L1266 278.7L1266.1 455.1L1266.2 438.9L1266.2 283.5L1266.3 398.6L1266.4 371.1L1266.5 480.1L1266.6 418.5L1266.7 486.7L1266.8 415.3L1266.9 449.7L1266.9 469.5L1267 468.1L1267.1 387.5L1267.2 468.6L1267.3 384.8L1267.4 509.3L1267.5 441.7L1267.6 312.2L1267.7 379.3L1267.7 391L1267.8 392.8L1267.9 433.6L1268 297.8L1268.1 450.2L1268.2 441.8L1268.3 398.4L1268.4 299.3L1268.4 409.4L1268.5 418.3L1268.6 380.1L1268.7 322.2L1268.8 362.8L1268.9 423.6L1269 420.9L1269.1 461L1269.1 421.1L1269.2 421.5L1269.3 425.6L1269.4 450.6L1269.5 371L1269.6 327L1269.7 403.2L1269.8 350.9L1269.9 386.9L1269.9 267.7L1270 395.9L1270.1 319.9L1270.2 485.7L1270.3 448.6L1270.4 371.7L1270.5 384.9L1270.6 385.1L1270.6 434.3L1270.7 402.9L1270.8 475.4L1270.9 466.2L1271 340.9L1271.1 360.2L1271.2 464.4L1271.3 348.3L1271.3 431.6L1271.4 330.7L1271.5 356.4L1271.6 214.4L1271.7 511.1L1271.8 410.5L1271.9 398.1L1272 507.2L1272.1 343.4L1272.1 452L1272.2 501.6L1272.3 310.4L1272.4 353.2L1272.5 414.7L1272.6 388.6L1272.7 414.5L1272.8 537.5L1272.8 426.9L1272.9 325.3L1273 389.9L1273.1 451L1273.2 428.9L1273.3 389.7L1273.4 407.9L1273.5 515.5L1273.6 380.1L1273.6 430.7L1273.7 325.8L1273.8 453.9L1273.9 337.8L1274 369.5L1274.1 464.6L1274.2 386L1274.3 350.7L1274.3 420.6L1274.4 305.2L1274.5 335.3L1274.6 367.3L1274.7 417.2L1274.8 460L1274.9 286.8L1275 353.1L1275 345.4L1275.1 401.8L1275.2 374.8L1275.3 434.2L1275.4 498.8L1275.5 408.7L1275.6 458.7L1275.7 389.8L1275.8 359.3L1275.8 385.6L1275.9 440L1276 352.6L1276.1 306.5L1276.2 418.8L1276.3 542L1276.4 245.3L1276.5 388.5L1276.5 466.2L1276.6 341.4L1276.7 355.4L1276.8 430.4L1276.9 348.7L1277 470.6L1277.1 372.9L1277.2 440.6L1277.2 300L1277.3 426.4L1277.4 410.2L1277.5 308.4L1277.6 534.2L1277.7 320.9L1277.8 124.8L1277.9 264.2L1278 311.5L1278 307.6L1278.1 377.7L1278.2 386.3L1278.3 431.9L1278.4 349.5L1278.5 498.8L1278.6 372.2L1278.7 461.4L1278.7 364.1L1278.8 380.5L1278.9 338.1L1279 357.9L1279.1 486.7L1279.2 498.9L1279.3 314.8L1279.4 399.3L1279.5 388.8L1279.5 408.1L1279.6 372.8L1279.7 417.6L1279.8 320.7L1279.9 406.2L1280 459.8L1280.1 485.7L1280.2 378.9L1280.2 367.8L1280.3 415.7L1280.4 477.6L1280.5 255.9L1280.6 449.8L1280.7 401.8L1280.8 230.2L1280.9 348.6L1280.9 243.6L1281 488.6L1281.1 278.8L1281.2 395.4L1281.3 414.3L1281.4 469.5L1281.5 503.7L1281.6 323.2L1281.7 368.9L1281.7 528.7L1281.8 434.5L1281.9 381.2L1282 409L1282.1 466.5L1282.2 298.5L1282.3 373.3L1282.4 398.6L1282.4 408.4L1282.5 324.8L1282.6 437.1L1282.7 347.5L1282.8 373.4L1282.9 303.5L1283 386L1283.1 265.6L1283.2 536L1283.2 491.5L1283.3 303.4L1283.4 404.7L1283.5 358.3L1283.6 401.4L1283.7 402.7L1283.8 388.6L1283.9 355.3L1283.9 223.6L1284 374.2L1284.1 477.6L1284.2 344.4L1284.3 385.3L1284.4 356.3L1284.5 455.7L1284.6 325.8L1284.6 388.1L1284.7 364.1L1284.8 358.5L1284.9 337.7L1285 322.6L1285.1 387.3L1285.2 281.3L1285.3 310.2L1285.4 472.7L1285.4 461L1285.5 327.5L1285.6 385.2L1285.7 387.9L1285.8 514.7L1285.9 369.2L1286 395.3L1286.1 356.2L1286.1 407.2L1286.2 384.1L1286.3 396.7L1286.4 347.6L1286.5 451.1L1286.6 413.4L1286.7 399L1286.8 484.8L1286.8 448.6L1286.9 400.7L1287 416.5L1287.1 425.5L1287.2 316.9L1287.3 545.5L1287.4 346.5L1287.5 365.3L1287.6 461.4L1287.6 550.2L1287.7 389.4L1287.8 391.7L1287.9 451.6L1288 297.9L1288.1 390.7L1288.2 421.6L1288.3 261.4L1288.3 286.1L1288.4 402.3L1288.5 401.8L1288.6 418.6L1288.7 368.9L1288.8 398.2L1288.9 444.3L1289 416.3L1289.1 408.3L1289.1 361.2L1289.2 420.6L1289.3 372.1L1289.4 327.5L1289.5 304.7L1289.6 451.8L1289.7 384.3L1289.8 363.9L1289.8 224.2L1289.9 423.1L1290 484.5L1290.1 382.4L1290.2 348.5L1290.3 396L1290.4 361.4L1290.5 218.8L1290.5 371.6L1290.6 466.5L1290.7 422.7L1290.8 354.9L1290.9 544.9L1291 299.3L1291.1 445.2L1291.2 326L1291.3 349.7L1291.3 421.4L1291.4 381.4L1291.5 389.9L1291.6 340.7L1291.7 387.4L1291.8 422.7L1291.9 335.8L1292 334.2L1292 411.5L1292.1 481L1292.2 385.9L1292.3 382.9L1292.4 451.7L1292.5 438.4L1292.6 468L1292.7 380.9L1292.8 305.3L1292.8 437.3L1292.9 365.1L1293 410.7L1293.1 281L1293.2 299.5L1293.3 433.8L1293.4 406.3L1293.5 328.5L1293.5 384L1293.6 269.2L1293.7 304.7L1293.8 336.5L1293.9 306.9L1294 221.2L1294.1 379.2L1294.2 360.1L1294.2 334L1294.3 259.3L1294.4 431.3L1294.5 458.4L1294.6 410.9L1294.7 264.1L1294.8 449.2L1294.9 552.2L1295 433.2L1295 364.2L1295.1 381.1L1295.2 386.8L1295.3 364.7L1295.4 444L1295.5 438.9L1295.6 383.9L1295.7 387.9L1295.7 479.6L1295.8 537.7L1295.9 340.8L1296 441.3L1296.1 263.2L1296.2 523.1L1296.3 386.3L1296.4 469.5L1296.4 317L1296.5 469.6L1296.6 443.5L1296.7 405.2L1296.8 547.5L1296.9 306.1L1297 359L1297.1 318.8L1297.2 461.1L1297.2 466.5L1297.3 421.5L1297.4 343.7L1297.5 402.4L1297.6 406.6L1297.7 459.8L1297.8 339.9L1297.9 466.8L1297.9 361.8L1298 344L1298.1 316.5L1298.2 443.3L1298.3 429L1298.4 378.3L1298.5 353L1298.6 409.9L1298.7 355.4L1298.7 383.4L1298.8 455.2L1298.9 316.5L1299 355.8L1299.1 362.4L1299.2 447.5L1299.3 314.4L1299.4 459.1L1299.4 357.4L1299.5 435.7L1299.6 325.5L1299.7 340.6L1299.8 387.5L1299.9 385.3L1300 373.7L1300.1 361.2L1300.1 437.6L1300.2 303.4L1300.3 434.8L1300.4 366.1L1300.5 446.2L1300.6 195.7L1300.7 318.9L1300.8 261.5L1300.9 364.3L1300.9 437.9L1301 382L1301.1 390.9L1301.2 268.2L1301.3 406.7L1301.4 358.1L1301.5 264.5L1301.6 445.1L1301.6 410.1L1301.7 502.6L1301.8 366.8L1301.9 400L1302 392.2L1302.1 320.1L1302.2 363.9L1302.3 361.2L1302.3 409L1302.4 448.1L1302.5 442L1302.6 372.1L1302.7 468.3L1302.8 459.5L1302.9 443.9L1303 385.8L1303.1 463.9L1303.1 359.5L1303.2 414L1303.3 266.6L1303.4 340.7L1303.5 267.3L1303.6 411.4L1303.7 380.6L1303.8 361.3L1303.8 429L1303.9 467.7L1304 144.5L1304.1 362.2L1304.2 405L1304.3 558.4L1304.4 427.8L1304.5 329.1L1304.6 296.9L1304.6 451.4L1304.7 396.7L1304.8 457.2L1304.9 450.8L1305 373L1305.1 393.3L1305.2 526.8L1305.3 345.3L1305.3 457.2L1305.4 454.4L1305.5 385.1L1305.6 412.8L1305.7 446.6L1305.8 358.8L1305.9 423.2L1306 296.8L1306 324.1L1306.1 420.7L1306.2 454.1L1306.3 402.7L1306.4 335.9L1306.5 513.2L1306.6 369.6L1306.7 474.5L1306.8 432.8L1306.8 437.4L1306.9 484L1307 310.9L1307.1 414.8L1307.2 460.7L1307.3 369.6L1307.4 369.4L1307.5 286.8L1307.5 444.3L1307.6 435.6L1307.7 303.2L1307.8 472.4L1307.9 454L1308 349.8L1308.1 481.4L1308.2 392.5L1308.2 355.4L1308.3 369L1308.4 434.1L1308.5 470.8L1308.6 229.6L1308.7 417L1308.8 363L1308.9 341.6L1309 380.4L1309 313.3L1309.1 460.9L1309.2 283.6L1309.3 489.6L1309.4 469.7L1309.5 321.6L1309.6 370L1309.7 357.9L1309.7 453L1309.8 425.5L1309.9 345.7L1310 446.4L1310.1 363L1310.2 431.6L1310.3 449.5L1310.4 355.9L1310.5 359.1L1310.5 387.7L1310.6 350.6L1310.7 456.6L1310.8 325.9L1310.9 531L1311 408.8L1311.1 427.4L1311.2 366.8L1311.2 291.4L1311.3 331.5L1311.4 287.2L1311.5 454.5L1311.6 410.4L1311.7 437.6L1311.8 513L1311.9 334.1L1311.9 384.5L1312 349.6L1312.1 429.6L1312.2 532.2L1312.3 336.6L1312.4 338.1L1312.5 365.5L1312.6 422.3L1312.7 411.3L1312.7 387.8L1312.8 504L1312.9 382L1313 368.8L1313.1 483.5L1313.2 489.7L1313.3 336.1L1313.4 315L1313.4 356.7L1313.5 413.8L1313.6 313.1L1313.7 315.5L1313.8 459.9L1313.9 414.1L1314 324.5L1314.1 478.7L1314.2 387.6L1314.2 307.2L1314.3 491.2L1314.4 419.3L1314.5 366.1L1314.6 412.3L1314.7 407.3L1314.8 402.9L1314.9 278.2L1314.9 347.5L1315 398.9L1315.1 476.1L1315.2 433.7L1315.3 416.5L1315.4 451.3L1315.5 413.2L1315.6 401.4L1315.6 370.1L1315.7 329.4L1315.8 487.7L1315.9 242.7L1316 583.8L1316.1 341.5L1316.2 397.1L1316.3 392.7L1316.4 407.3L1316.4 477L1316.5 551.6L1316.6 377.4L1316.7 410.5L1316.8 430.2L1316.9 515.5L1317 418.2L1317.1 325L1317.1 316.1L1317.2 536.8L1317.3 430.5L1317.4 449.6L1317.5 450.8L1317.6 397.3L1317.7 341.9L1317.8 485.7L1317.8 485.6L1317.9 298.2L1318 460.5L1318.1 348.4L1318.2 359.7L1318.3 467.7L1318.4 454.2L1318.5 429.1L1318.6 287.1L1318.6 315.8L1318.7 497.4L1318.8 409.8L1318.9 418.6L1319 545L1319.1 412L1319.2 469.6L1319.3 272.6L1319.3 234L1319.4 232.5L1319.5 292.1L1319.6 345.9L1319.7 334.2L1319.8 373.2L1319.9 368.5L1320 439L1320.1 303.2L1320.1 432L1320.2 338.9L1320.3 368.1L1320.4 407.1L1320.5 242.3L1320.6 279.3L1320.7 333.8L1320.8 355L1320.8 511.2L1320.9 425.7L1321 281.7L1321.1 337.8L1321.2 370.6L1321.3 361.8L1321.4 266.1L1321.5 531.8L1321.5 286.7L1321.6 384.7L1321.7 409.7L1321.8 462.5L1321.9 451.4L1322 472.7L1322.1 347L1322.2 345.4L1322.3 525.7L1322.3 355.7L1322.4 337.3L1322.5 345.9L1322.6 492.5L1322.7 267.3L1322.8 455L1322.9 355.9L1323 406.1L1323 353.6L1323.1 221.5L1323.2 372.8L1323.3 497.3L1323.4 307.8L1323.5 345.8L1323.6 464.8L1323.7 505.6L1323.8 407.4L1323.8 377.8L1323.9 323.5L1324 417.5L1324.1 301.2L1324.2 487.1L1324.3 472.7L1324.4 491.5L1324.5 344.7L1324.5 427.6L1324.6 399.5L1324.7 406.8L1324.8 429.3L1324.9 383.7L1325 411.1L1325.1 428.8L1325.2 585.7L1325.2 422L1325.3 411.8L1325.4 383.2L1325.5 439.4L1325.6 306.7L1325.7 469.8L1325.8 319.3L1325.9 295L1326 448.7L1326 381.6L1326.1 274.7L1326.2 424L1326.3 339.1L1326.4 368.6L1326.5 520.2L1326.6 362.9L1326.7 349.6L1326.7 397.7L1326.8 451L1326.9 453.4L1327 402.7L1327.1 356.4L1327.2 454.5L1327.3 390L1327.4 436.2L1327.4 414.2L1327.5 444.3L1327.6 339.3L1327.7 395.3L1327.8 337L1327.9 388.6L1328 357.5L1328.1 430.2L1328.2 379.4L1328.2 469.5L1328.3 326.2L1328.4 435.1L1328.5 286.4L1328.6 390.3L1328.7 330.7L1328.8 242.1L1328.9 376.4L1328.9 282.4L1329 253L1329.1 338L1329.2 355.7L1329.3 282.3L1329.4 470.1L1329.5 403.8L1329.6 533.8L1329.7 302.6L1329.7 468.1L1329.8 275.3L1329.9 406.7L1330 642.8L1330.1 419.2L1330.2 316.8L1330.3 518.8L1330.4 368L1330.4 409.7L1330.5 470.3L1330.6 355.1L1330.7 308.1L1330.8 542L1330.9 531.8L1331 444.2L1331.1 437L1331.1 255.8L1331.2 422.5L1331.3 409.5L1331.4 448.9L1331.5 423.7L1331.6 440.5L1331.7 359.9L1331.8 389.3L1331.9 390.3L1331.9 372L1332 365.5L1332.1 381.7L1332.2 383.1L1332.3 462.5L1332.4 466.5L1332.5 389.7L1332.6 443.4L1332.6 358.4L1332.7 277.4L1332.8 462.4L1332.9 370.5L1333 393.5L1333.1 407.3L1333.2 413.7L1333.3 497.8L1333.3 460.2L1333.4 590.3L1333.5 317.1L1333.6 257.2L1333.7 379.8L1333.8 454.8L1333.9 359.4L1334 293.4L1334.1 336.2L1334.1 450.7L1334.2 395.9L1334.3 478L1334.4 469.8L1334.5 367.6L1334.6 392.3L1334.7 390L1334.8 317.6L1334.8 377.9L1334.9 324.3L1335 417.1L1335.1 407.5L1335.2 402.7L1335.3 435.9L1335.4 463.5L1335.5 513.2L1335.6 345.6L1335.6 342.8L1335.7 447.9L1335.8 343.5L1335.9 498.7L1336 350.2L1336.1 403.4L1336.2 457.8L1336.3 485.3L1336.3 312L1336.4 362.4L1336.5 386.5L1336.6 332.7L1336.7 309.9L1336.8 390.3L1336.9 439.8L1337 327.2L1337 373.8L1337.1 360.8L1337.2 370.3L1337.3 426.6L1337.4 329.6L1337.5 422.5L1337.6 397.8L1337.7 367.4L1337.8 491.8L1337.8 464.4L1337.9 348.1L1338 221.2L1338.1 218.8L1338.2 364.3L1338.3 399L1338.4 450.9L1338.5 440.2L1338.5 368L1338.6 505.7L1338.7 327.9L1338.8 457.3L1338.9 307.5L1339 395L1339.1 530.7L1339.2 278.6L1339.2 607.6L1339.3 458.7L1339.4 340.5L1339.5 309.2L1339.6 346.6L1339.7 497.2L1339.8 329.5L1339.9 409.5L1340 412.9L1340 353.2L1340.1 427.7L1340.2 224.5L1340.3 406.7L1340.4 494.8L1340.5 339.2L1340.6 523.5L1340.7 476L1340.7 421.4L1340.8 351.4L1340.9 318.3L1341 377.3L1341.1 356.2L1341.2 323.5L1341.3 291.7L1341.4 428.6L1341.5 482.7L1341.5 387.3L1341.6 476.2L1341.7 330.3L1341.8 400.8L1341.9 416.2L1342 462.9L1342.1 264.9L1342.2 310.5L1342.2 287.5L1342.3 346.9L1342.4 485.7L1342.5 359.9L1342.6 454.8L1342.7 361.6L1342.8 416.3L1342.9 372.5L1342.9 308.5L1343 534.4L1343.1 377.8L1343.2 272.3L1343.3 508.8L1343.4 494L1343.5 328.1L1343.6 409.2L1343.7 377.7L1343.7 369.5L1343.8 423.1L1343.9 482.4L1344 339.2L1344.1 475.6L1344.2 458.2L1344.3 215.9L1344.4 378.3L1344.4 336.3L1344.5 379.1L1344.6 367.2L1344.7 513.1L1344.8 453.2L1344.9 411.4L1345 457.1L1345.1 312.8L1345.2 424.5L1345.2 328.6L1345.3 431L1345.4 345.6L1345.5 362.5L1345.6 357.2L1345.7 310.2L1345.8 405.2L1345.9 378.1L1345.9 405.9L1346 483L1346.1 523L1346.2 444.8L1346.3 408.1L1346.4 366.5L1346.5 396.2L1346.6 452.8L1346.6 278.8L1346.7 436.3L1346.8 314.5L1346.9 483.6L1347 408.5L1347.1 441.9L1347.2 333.7L1347.3 359.5L1347.4 362.9L1347.4 424.4L1347.5 404.5L1347.6 364.7L1347.7 425.9L1347.8 405.2L1347.9 355.8L1348 466.3L1348.1 402.1L1348.1 399.6L1348.2 511.4L1348.3 423.4L1348.4 502.3L1348.5 337L1348.6 428.9L1348.7 348.5L1348.8 493L1348.8 466.1L1348.9 370.8L1349 497.1L1349.1 324.7L1349.2 461.1L1349.3 529.6L1349.4 434.4L1349.5 490.6L1349.6 434.5L1349.6 388.4L1349.7 477.8L1349.8 373.3L1349.9 446.6L1350 489.6L1350.1 293.7L1350.2 405.5L1350.3 429.8L1350.3 395L1350.4 477.1L1350.5 381.6L1350.6 488.7L1350.7 393.3L1350.8 362.7L1350.9 175.4L1351 359.7L1351.1 317.5L1351.1 394.5L1351.2 497.9L1351.3 371.2L1351.4 301.5L1351.5 314.2L1351.6 387.7L1351.7 432.2L1351.8 258.8L1351.8 360L1351.9 368.5L1352 569.7L1352.1 448.8L1352.2 356.1L1352.3 335L1352.4 315.6L1352.5 499.6L1352.5 373.4L1352.6 334.5L1352.7 342.2L1352.8 377.3L1352.9 409.3L1353 514.4L1353.1 411.8L1353.2 390.8L1353.3 397.4L1353.3 340.9L1353.4 403.4L1353.5 420.5L1353.6 389.3L1353.7 456.9L1353.8 431.5L1353.9 406.8L1354 435.8L1354 475.9L1354.1 466.7L1354.2 448.8L1354.3 395.5L1354.4 441.9L1354.5 461.1L1354.6 403.9L1354.7 436.3L1354.8 392.8L1354.8 386.7L1354.9 382.7L1355 381.7L1355.1 404.4L1355.2 293.8L1355.3 438.1L1355.4 334.2L1355.5 448.3L1355.5 485.1L1355.6 379.5L1355.7 480.3L1355.8 506.2L1355.9 471.2L1356 359L1356.1 449.9L1356.2 410.1L1356.2 424.8L1356.3 430.8L1356.4 497.1L1356.5 401L1356.6 385.7L1356.7 407.8L1356.8 502.7L1356.9 283.1L1357 332.5L1357 409.4L1357.1 523.8L1357.2 353L1357.3 299.6L1357.4 452.7L1357.5 363.2L1357.6 505.4L1357.7 453L1357.7 557.7L1357.8 515.6L1357.9 451.4L1358 309.8L1358.1 503.8L1358.2 377.7L1358.3 387.8L1358.4 359.7L1358.4 377.7L1358.5 481.3L1358.6 427.9L1358.7 473.3L1358.8 402.8L1358.9 291.4L1359 434.3L1359.1 369.9L1359.2 364L1359.2 392.4L1359.3 439.6L1359.4 376.2L1359.5 581.9L1359.6 363.7L1359.7 425.9L1359.8 292L1359.9 419.2L1359.9 363.2L1360 432.1L1360.1 480.2L1360.2 373.9L1360.3 381.4L1360.4 417.7L1360.5 233.2L1360.6 478.4L1360.7 415.7L1360.7 396.2L1360.8 394.6L1360.9 557.7L1361 382.8L1361.1 273.6L1361.2 420.8L1361.3 503.1L1361.4 475.7L1361.4 422.9L1361.5 274L1361.6 504.3L1361.7 542.3L1361.8 429.7L1361.9 453.3L1362 387.4L1362.1 331.1L1362.1 304.4L1362.2 293L1362.3 414.1L1362.4 271.8L1362.5 480.1L1362.6 459.6L1362.7 441L1362.8 374.1L1362.9 234.5L1362.9 484.8L1363 432.2L1363.1 449.4L1363.2 351.7L1363.3 565.9L1363.4 448.2L1363.5 465.7L1363.6 416.1L1363.6 424L1363.7 467.7L1363.8 280.4L1363.9 268.1L1364 512.7L1364.1 371.5L1364.2 375.1L1364.3 336.3L1364.3 430.4L1364.4 356.5L1364.5 302.8L1364.6 391.2L1364.7 331.4L1364.8 406.6L1364.9 320.5L1365 414.3L1365.1 541.9L1365.1 437.3L1365.2 433L1365.3 398.6L1365.4 455.1L1365.5 280L1365.6 565.9L1365.7 374.1L1365.8 471.4L1365.8 353.5L1365.9 416.2L1366 508.4L1366.1 491.2L1366.2 360.1L1366.3 497.7L1366.4 468.1L1366.5 426.6L1366.6 414.6L1366.6 367.7L1366.7 300L1366.8 336.9L1366.9 432.7L1367 416.8L1367.1 255L1367.2 482L1367.3 333.5L1367.3 405.5L1367.4 405.7L1367.5 333.9L1367.6 316.8L1367.7 404L1367.8 395.5L1367.9 343.7L1368 333.9L1368 376.7L1368.1 386.6L1368.2 381.1L1368.3 379.5L1368.4 367.1L1368.5 373.4L1368.6 347.9L1368.7 392.6L1368.8 298.9L1368.8 482.2L1368.9 347.9L1369 366L1369.1 423L1369.2 357.5L1369.3 442.4L1369.4 382.7L1369.5 376.6L1369.5 320.7L1369.6 374.2L1369.7 312.2L1369.8 307L1369.9 502L1370 504.5L1370.1 435.3L1370.2 405.2L1370.2 453.4L1370.3 434.8L1370.4 470.8L1370.5 361.9L1370.6 436.7L1370.7 267.4L1370.8 386.8L1370.9 339.3L1371 489.7L1371 378.1L1371.1 329.5L1371.2 466.5L1371.3 480.9L1371.4 356.6L1371.5 328.8L1371.6 390.7L1371.7 311.1L1371.7 369L1371.8 465.5L1371.9 406.8L1372 381.5L1372.1 374.9L1372.2 380.3L1372.3 307.2L1372.4 203.6L1372.5 437.5L1372.5 416.9L1372.6 381.8L1372.7 475L1372.8 286.2L1372.9 411.9L1373 496.8L1373.1 257.6L1373.2 360.2L1373.2 430.4L1373.3 426.5L1373.4 347.9L1373.5 416.3L1373.6 384.8L1373.7 375.5L1373.8 521.4L1373.9 270.1L1373.9 422.8L1374 370.2L1374.1 403.7L1374.2 412.2L1374.3 524.9L1374.4 335.5L1374.5 472.3L1374.6 398.7L1374.7 403.4L1374.7 426.7L1374.8 417L1374.9 388.7L1375 390.4L1375.1 472.7L1375.2 464.9L1375.3 412L1375.4 342.5L1375.4 368L1375.5 431.3L1375.6 236.6L1375.7 457L1375.8 405.4L1375.9 401.7L1376 467.7L1376.1 365.3L1376.2 273.5L1376.2 386.8L1376.3 315.5L1376.4 453.1L1376.5 430.2L1376.6 382L1376.7 263.8L1376.8 387.8L1376.9 461.1L1376.9 330.2L1377 340.7L1377.1 437L1377.2 385.1L1377.3 331.4L1377.4 392.4L1377.5 397.6L1377.6 444.3L1377.6 508.5L1377.7 372L1377.8 347.5L1377.9 396.8L1378 303.5L1378.1 284.7L1378.2 416.7L1378.3 376.1L1378.4 412.5L1378.4 532.6L1378.5 305.3L1378.6 397.4L1378.7 403.5L1378.8 404.5L1378.9 263.6L1379 412.8L1379.1 302.5L1379.1 434L1379.2 372.8L1379.3 451.5L1379.4 485.1L1379.5 332.7L1379.6 351.1L1379.7 466.6L1379.8 250.4L1379.8 439.6L1379.9 299.5L1380 279.4L1380.1 464.1L1380.2 503.8L1380.3 467.9L1380.4 377.6L1380.5 347.5L1380.6 464.2L1380.6 280.8L1380.7 430.6L1380.8 392.4L1380.9 442.4L1381 496.9L1381.1 489.6L1381.2 415.3L1381.3 338.5L1381.3 439.5L1381.4 366L1381.5 447.1L1381.6 475.5L1381.7 386.4L1381.8 372.7L1381.9 394.7L1382 423.7L1382.1 274.6L1382.1 485.1L1382.2 414.5L1382.3 345.3L1382.4 409L1382.5 473L1382.6 457.2L1382.7 344.5L1382.8 427.1L1382.8 496.9L1382.9 259.2L1383 375.5L1383.1 401.3L1383.2 369.4L1383.3 322.4L1383.4 367.3L1383.5 367.9L1383.5 428" stroke="#4a70ae" stroke-opacity="0.5" stroke-width="2.55" fill="none" stroke-linejoin="round" stroke-linecap="round" clip-path="url(#ax)"/>
<path d="M256.36 393.55H1383.55" stroke="#db8250" stroke-opacity="0.5" stroke-width="2.08" fill="none" stroke-linecap="round"/>
<path d="M192 682h7v2h-7zM192 610h7v2h-7zM192 537h7v2h-7zM192 465h7v2h-7zM192 393h7v2h-7zM192 320h7v2h-7zM192 248h7v2h-7zM192 175h7v2h-7zM192 103h7v2h-7z" fill="#424242"/>
<rect x="200" y="96" width="1240" height="616" fill="none" stroke="#fff" stroke-width="1.74"/>
<text text-anchor="middle" font-size="16.667" transform="translate(819.6 87.667) scale(0.996 1.07)">stats at each timestep for test data 596 [signal=0]</text>
<text text-anchor="middle" font-size="16.667" transform="translate(820 758.7) scale(0.994 0.97)">Time (s)</text>
<text text-anchor="middle" font-size="16.667" transform="translate(154.261 404.85) rotate(-90) scale(0.999 1.06)">Whitened strain</text>
<text text-anchor="middle" font-size="15.278" transform="translate(256.114 736.803) scale(1 1.03)">0.0</text>
<text text-anchor="middle" font-size="15.278" transform="translate(319.14 736.803) scale(1 1.04)">0.5</text>
<text text-anchor="middle" font-size="15.278" transform="translate(381.116 736.803) scale(1 1.03)">1.0</text>
<text text-anchor="middle" font-size="15.278" transform="translate(444.092 736.803)">1.5</text>
<text text-anchor="middle" font-size="15.278" transform="translate(506.119 736.803) scale(1 1.03)">2.0</text>
<text text-anchor="middle" font-size="15.278" transform="translate(569.295 736.803)">2.5</text>
<text text-anchor="middle" font-size="15.278" transform="translate(631.271 736.803)">3.0</text>
<text text-anchor="middle" font-size="15.278" transform="translate(694.347 736.803)">3.5</text>
<text text-anchor="middle" font-size="15.278" transform="translate(757.124 736.803) scale(1 1.02)">4.0</text>
<text text-anchor="middle" font-size="15.278" transform="translate(821.05 736.803) scale(1 1.09)">4.5</text>
<text text-anchor="middle" font-size="15.278" transform="translate(882.126 736.803) scale(1 1.02)">5.0</text>
<text text-anchor="middle" font-size="15.278" transform="translate(944.303 736.803)">5.5</text>
<text text-anchor="middle" font-size="15.278" transform="translate(1007.279 736.803)">6.0</text>
<text text-anchor="middle" font-size="15.278" transform="translate(1071.055 736.803) scale(1 1.04)">6.5</text>
<text text-anchor="middle" font-size="15.278" transform="translate(1132.131 736.803) scale(1 1.03)">7.0</text>
<text text-anchor="middle" font-size="15.278" transform="translate(1195.108 736.803)">7.5</text>
<text text-anchor="middle" font-size="15.278" transform="translate(1258.134 736.803) scale(1 1.03)">8.0</text>
<text text-anchor="middle" font-size="15.278" transform="translate(1321.06 736.803) scale(1 1.05)">8.5</text>
<text text-anchor="end" font-size="15.278" transform="translate(186.556 688.954) scale(1 1.02)">−4</text>
<text text-anchor="end" font-size="15.278" transform="translate(186.556 616.554) scale(1 1.02)">−3</text>
<text text-anchor="end" font-size="15.278" transform="translate(186.556 544.154) scale(1 1.02)">−2</text>
<text text-anchor="end" font-size="15.278" transform="translate(186.556 471.754) scale(1 1.02)">−1</text>
<text text-anchor="end" font-size="15.278" transform="translate(186.806 399.855) scale(1 1.03)">0</text>
<text text-anchor="end" font-size="15.278" transform="translate(187.806 326.955)">1</text>
<text text-anchor="end" font-size="15.278" transform="translate(186.806 254.555) scale(1 1.03)">2</text>
<text text-anchor="end" font-size="15.278" transform="translate(186.806 181.655) scale(1 1.08)">3</text>
<text text-anchor="end" font-size="15.278" transform="translate(187.806 109.755) scale(1 1.09)">4</text>
<path d="M200 624.5H1440M200 580.5H1440M200 536.5H1440M200 492.5H1440M200 448.5H1440M200 404.5H1440M200 360.5H1440M200 316.5H1440M200 272.5H1440M200 228.5H1440M200 184.5H1440M200 140.5H1440" stroke="#fff" stroke-width="1.39" fill="none" clip-path="url(#ax)"/>
<path d="M256 624V184M507 624V184" stroke="#000" stroke-opacity="0.5" stroke-width="2.08" fill="none" clip-path="url(#ax)"/>
<path d="M256.36 367.93L264.19 215.47L272.02 189.28L279.85 185.19L287.68 184.4L295.51 184.16L303.33 184.08L311.16 184.04L318.99 184.01L326.82 184L334.65 184L342.47 184L350.3 184L358.13 184L365.96 184L373.79 184.05L381.62 184.41L389.44 185.67L397.27 188.13L405.1 194.6L412.93 205.4L420.76 216.26L428.59 222.2L436.41 218.93L444.24 209.71L452.07 199.93L459.9 194.05L467.73 191.5L475.56 191.52L483.38 193.96L491.21 199.19L499.04 210.07L506.87 225.69L514.7 248.08L522.53 273.09L530.35 307.7L538.18 348.72L546.01 392.33L553.84 429.17L561.67 460.02L569.49 491.24L577.32 515.92L585.15 537.44L592.98 556.7L600.81 573.52L608.64 587.21L616.46 597.88L624.29 604.99L632.12 609.9L639.95 613.42L647.78 615.69L655.61 617.06L663.43 617.76L671.26 617.99L679.09 617.42L686.92 616.55L694.75 615.62L702.58 614.81L710.4 614.94L718.23 615.59L726.06 616.6L733.89 617.8L741.72 618L749.55 618L757.37 617.76L765.2 616.89L773.03 616.38L780.86 616.15L788.69 615.96L796.52 615.68L804.34 615.25L812.17 614.71L820 614.02L827.83 613.14L835.66 612.75L843.48 613.22L851.31 614.1L859.14 614.9L866.97 615.71L874.8 616.5L882.63 616.97L890.45 616.87L898.28 616.41L906.11 615.92L913.94 615.76L921.77 616.15L929.6 616.81L937.42 617.37L945.25 617.47L953.08 617.21L960.91 616.88L968.74 616.77L976.57 617.48L984.39 618.78L992.22 619.97L1000.05 620.66L1007.88 621L1015.71 620.36L1023.54 619.03L1031.36 615.78L1039.19 613.53L1047.02 613.04L1054.85 615L1062.68 617.16L1070.51 618.8L1078.33 619.51L1086.16 619.74L1093.99 619.16L1101.82 618.25L1109.65 617.75L1117.47 617.86L1125.3 618.08L1133.13 618.24L1140.96 617.99L1148.79 617.15L1156.62 615.48L1164.44 613.57L1172.27 612.83L1180.1 613.17L1187.93 614.64L1195.76 616.13L1203.59 617.64L1211.41 618.12L1219.24 618.25L1227.07 617.41L1234.9 615.52L1242.73 612.74L1250.56 610.42L1258.38 609.77L1266.21 610.73L1274.04 611.72L1281.87 612.22L1289.7 610.49L1297.53 606.97L1305.35 599.34L1313.18 585.39L1321.01 548.37L1328.84 474.19L1336.67 402.25L1344.49 347.71L1352.32 319.43L1360.15 307.77L1367.98 307.02L1375.81 310.4" stroke="#55a868" stroke-width="2.08" fill="none" stroke-linejoin="round" stroke-linecap="round" clip-path="url(#ax)"/>
<path d="M1441 623h7v2h-7zM1441 579h7v2h-7zM1441 535h7v2h-7zM1441 491h7v2h-7zM1441 447h7v2h-7zM1441 403h7v2h-7zM1441 359h7v2h-7zM1441 315h7v2h-7zM1441 271h7v2h-7zM1441 227h7v2h-7zM1441 183h7v2h-7zM1441 139h7v2h-7z" fill="#424242"/>
<rect x="200" y="96" width="1240" height="616" fill="none" stroke="#fff" stroke-width="1.74"/>
<text text-anchor="middle" font-size="16.667" transform="translate(1495.711 405) rotate(-90) scale(0.996 1.02)">Detection probability/MF</text>
<text text-anchor="start" font-size="20.833" transform="translate(281.014 184) scale(1.002 1.03)">SNR_opt=0.0</text>
<text text-anchor="start" font-size="20.833" transform="translate(582.77 184.5) scale(1.001 1.06)"><tspan font-style="oblique" x="0 13.224 28.809" y="-0.846">SNR</tspan><tspan font-style="oblique" font-size="14.583" x="43.284" y="2.572">M</tspan><tspan font-style="oblique" x="56.436" y="-0.846">F</tspan><tspan  x="68.419 85.875 94.003 107.258 113.88 127.135 140.39" y="-0.846">=[4.32]</tspan></text>
<text text-anchor="start" font-size="20.833" transform="translate(959.028 185) scale(0.996 1.06)"><tspan font-style="oblique" x="0" y="-1.194">S</tspan><tspan  x="13.224 30.68 43.935 48.995 62.25" y="-1.194">=0.72</tspan></text>
<text text-anchor="start" font-size="20.833" transform="translate(1084.03 185) scale(1 1.05)"><tspan font-style="oblique" x="0" y="-1.194">M</tspan><tspan font-style="oblique" font-size="14.583" x="17.975" y="2.224">c</tspan><tspan  x="26.562 44.019 57.273 63.896" y="-1.194">=0.0</tspan></text>
<text text-anchor="start" font-size="15.278" transform="translate(1452.944 629.804) scale(1 1.03)">0.0</text>
<text text-anchor="start" font-size="15.278" transform="translate(1452.944 585.804)">0.1</text>
<text text-anchor="start" font-size="15.278" transform="translate(1452.944 541.804) scale(1 1.03)">0.2</text>
<text text-anchor="start" font-size="15.278" transform="translate(1452.944 497.804) scale(1 1.02)">0.3</text>
<text text-anchor="start" font-size="15.278" transform="translate(1452.944 453.804) scale(1 1.09)">0.4</text>
<text text-anchor="start" font-size="15.278" transform="translate(1452.944 409.804)">0.5</text>
<text text-anchor="start" font-size="15.278" transform="translate(1452.944 365.804) scale(1 1.04)">0.6</text>
<text text-anchor="start" font-size="15.278" transform="translate(1452.944 321.804) scale(1 1.03)">0.7</text>
<text text-anchor="start" font-size="15.278" transform="translate(1452.944 277.804) scale(1 1.03)">0.8</text>
<text text-anchor="start" font-size="15.278" transform="translate(1452.944 233.804) scale(1 1.03)">0.9</text>
<text text-anchor="start" font-size="15.278" transform="translate(1452.944 189.804) scale(1 1.03)">1.0</text>
<text text-anchor="start" font-size="15.278" transform="translate(1452.944 145.804)">1.1</text>
<path d="M323.56 720.5H491.44Q494.5 720.5 494.5 717.44V651.56Q494.5 648.5 491.44 648.5H323.56Q320.5 648.5 320.5 651.56V717.44Q320.5 720.5 323.56 720.5Z" fill="#eaeaf2" stroke="#ccc" stroke-width="1.39" opacity="0.8"/>
<path d="M326 660H357" stroke="#4a70ae" stroke-opacity="0.5" stroke-width="2.08" stroke-linecap="round" fill="none"/>
<path d="M326 683H357" stroke="#db8250" stroke-opacity="0.5" stroke-width="2.08" stroke-linecap="round" fill="none"/>
<path d="M326 706H357" stroke="#55a868" stroke-opacity="1" stroke-width="2.08" stroke-linecap="round" fill="none"/>
<text text-anchor="start" font-size="15.278" transform="translate(369.039 665.862)">signal+ noise</text>
<text text-anchor="start" font-size="15.278" transform="translate(368.889 687.787) scale(1.005 1.02)">signal only</text>
<text text-anchor="start" font-size="15.278" transform="translate(369.039 710.712) scale(1.002 1.01)">signal statistics</text>
</svg></body></html>
